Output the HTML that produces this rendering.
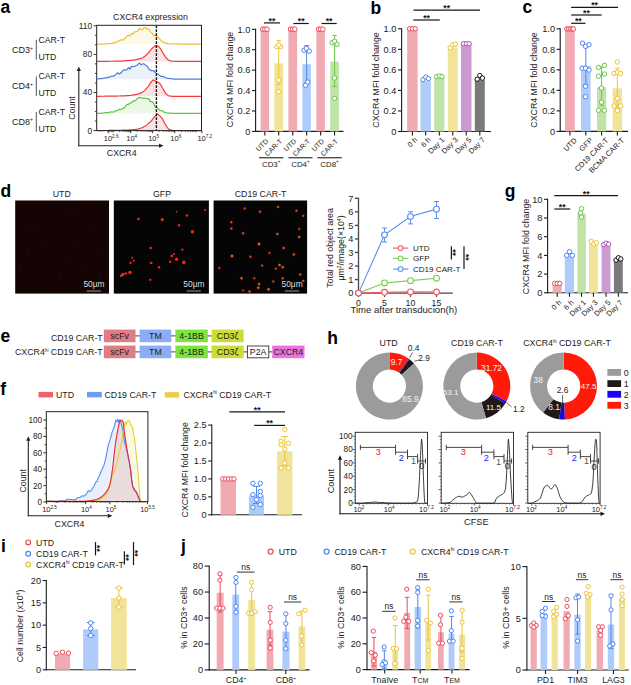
<!DOCTYPE html>
<html><head><meta charset="utf-8"><style>
html,body{margin:0;padding:0;background:#fff;}
svg{display:block;}
text{font-family:"Liberation Sans", sans-serif;}
</style></head><body>
<svg width="631" height="685" viewBox="0 0 631 685">
<rect width="631" height="685" fill="#fff"/>
<text x="0.50" y="13.20" font-size="17.5" text-anchor="start" fill="#000" font-weight="bold">a</text>
<text x="150.50" y="19.90" font-size="8.8" text-anchor="middle" fill="#222" font-weight="normal">CXCR4 expression</text>
<path d="M97.20,44.18 L97.72,44.17 L98.24,44.15 L98.76,44.14 L99.29,44.12 L99.81,44.11 L100.33,44.09 L100.85,44.07 L101.37,44.04 L101.89,44.02 L102.42,44.01 L102.94,44.01 L103.46,44.00 L103.98,43.97 L104.50,43.93 L105.02,43.90 L105.55,43.93 L106.07,43.97 L106.59,44.02 L107.11,43.96 L107.63,43.90 L108.15,43.84 L108.68,43.76 L109.20,43.68 L109.72,43.59 L110.24,43.52 L110.76,43.45 L111.28,43.38 L111.81,43.23 L112.33,43.06 L112.85,42.86 L113.37,42.85 L113.89,42.85 L114.41,42.87 L114.93,42.61 L115.46,42.35 L115.98,42.05 L116.50,41.93 L117.02,41.82 L117.54,41.72 L118.06,41.38 L118.59,41.01 L119.11,40.61 L119.63,40.35 L120.15,40.07 L120.67,39.79 L121.19,39.90 L121.72,40.06 L122.24,40.26 L122.76,39.87 L123.28,39.47 L123.80,39.07 L124.32,38.77 L124.85,38.46 L125.37,38.15 L125.89,37.42 L126.41,36.69 L126.93,35.96 L127.45,35.80 L127.97,35.65 L128.50,35.49 L129.02,35.67 L129.54,35.83 L130.06,35.92 L130.58,35.09 L131.10,34.26 L131.63,33.43 L132.15,33.54 L132.67,33.66 L133.19,33.79 L133.71,33.10 L134.23,32.42 L134.76,31.76 L135.28,31.83 L135.80,31.76 L136.32,31.70 L136.84,31.41 L137.36,31.15 L137.89,30.94 L138.41,30.04 L138.93,29.19 L139.45,28.40 L139.97,28.80 L140.49,29.26 L141.02,29.74 L141.54,29.74 L142.06,29.71 L142.58,29.65 L143.10,28.99 L143.62,28.32 L144.14,27.63 L144.67,27.59 L145.19,27.58 L145.71,27.61 L146.23,28.03 L146.75,28.54 L147.27,29.14 L147.80,28.99 L148.32,28.94 L148.84,28.98 L149.36,29.86 L149.88,30.77 L150.40,31.67 L150.93,32.14 L151.45,32.50 L151.97,32.82 L152.49,33.60 L153.01,34.38 L153.53,35.16 L154.06,35.06 L154.58,34.96 L155.10,34.85 L155.62,35.47 L156.14,36.07 L156.66,36.68 L157.18,36.92 L157.71,37.15 L158.23,37.38 L158.75,37.86 L159.27,38.33 L159.79,38.86 L160.31,39.68 L160.84,40.42 L161.36,41.03 L161.88,41.27 L162.40,41.51 L162.92,41.75 L163.44,42.08 L163.97,42.39 L164.49,42.67 L165.01,42.87 L165.53,43.06 L166.05,43.24 L166.57,43.40 L167.10,43.53 L167.62,43.64 L168.14,43.69 L168.66,43.73 L169.18,43.75 L169.70,43.76 L170.23,43.76 L170.75,43.75 L171.27,43.83 L171.79,43.91 L172.31,43.98 L172.83,43.95 L173.35,43.91 L173.88,43.86 L174.40,43.90 L174.92,43.93 L175.44,43.97 L175.96,43.98 L176.48,43.99 L177.01,43.99 L177.53,43.97 L178.05,43.94 L178.57,43.91 L179.09,43.94 L179.61,43.97 L180.14,44.00 L180.66,44.02 L181.18,44.04 L181.70,44.05 L182.22,44.05 L182.74,44.05 L183.27,44.04 L183.79,44.04 L184.31,44.03 L184.83,44.02 L185.35,44.07 L185.87,44.11 L186.39,44.15 L186.92,44.10 L187.44,44.06 L187.96,44.02 L188.48,44.08 L189.00,44.13 L189.52,44.18 L190.05,44.15 L190.57,44.12 L191.09,44.09 L191.61,44.09 L192.13,44.09 L192.65,44.09 L193.18,44.14 L193.70,44.18 L194.22,44.20 L194.74,44.19 L195.26,44.16 L195.78,44.13 L196.31,44.15 L196.83,44.17 L197.35,44.19 L197.87,44.19 L198.39,44.18 L198.91,44.18 L199.44,44.20 L199.96,44.20 L200.48,44.20 L201.00,44.20 L201.00,44.2 L97.20,44.2 Z" stroke="none" fill="#fcfae6" stroke-width="1.0"/>
<path d="M97.20,44.18 L97.72,44.17 L98.24,44.15 L98.76,44.14 L99.29,44.12 L99.81,44.11 L100.33,44.09 L100.85,44.07 L101.37,44.04 L101.89,44.02 L102.42,44.01 L102.94,44.01 L103.46,44.00 L103.98,43.97 L104.50,43.93 L105.02,43.90 L105.55,43.93 L106.07,43.97 L106.59,44.02 L107.11,43.96 L107.63,43.90 L108.15,43.84 L108.68,43.76 L109.20,43.68 L109.72,43.59 L110.24,43.52 L110.76,43.45 L111.28,43.38 L111.81,43.23 L112.33,43.06 L112.85,42.86 L113.37,42.85 L113.89,42.85 L114.41,42.87 L114.93,42.61 L115.46,42.35 L115.98,42.05 L116.50,41.93 L117.02,41.82 L117.54,41.72 L118.06,41.38 L118.59,41.01 L119.11,40.61 L119.63,40.35 L120.15,40.07 L120.67,39.79 L121.19,39.90 L121.72,40.06 L122.24,40.26 L122.76,39.87 L123.28,39.47 L123.80,39.07 L124.32,38.77 L124.85,38.46 L125.37,38.15 L125.89,37.42 L126.41,36.69 L126.93,35.96 L127.45,35.80 L127.97,35.65 L128.50,35.49 L129.02,35.67 L129.54,35.83 L130.06,35.92 L130.58,35.09 L131.10,34.26 L131.63,33.43 L132.15,33.54 L132.67,33.66 L133.19,33.79 L133.71,33.10 L134.23,32.42 L134.76,31.76 L135.28,31.83 L135.80,31.76 L136.32,31.70 L136.84,31.41 L137.36,31.15 L137.89,30.94 L138.41,30.04 L138.93,29.19 L139.45,28.40 L139.97,28.80 L140.49,29.26 L141.02,29.74 L141.54,29.74 L142.06,29.71 L142.58,29.65 L143.10,28.99 L143.62,28.32 L144.14,27.63 L144.67,27.59 L145.19,27.58 L145.71,27.61 L146.23,28.03 L146.75,28.54 L147.27,29.14 L147.80,28.99 L148.32,28.94 L148.84,28.98 L149.36,29.86 L149.88,30.77 L150.40,31.67 L150.93,32.14 L151.45,32.50 L151.97,32.82 L152.49,33.60 L153.01,34.38 L153.53,35.16 L154.06,35.06 L154.58,34.96 L155.10,34.85 L155.62,35.47 L156.14,36.07 L156.66,36.68 L157.18,36.92 L157.71,37.15 L158.23,37.38 L158.75,37.86 L159.27,38.33 L159.79,38.86 L160.31,39.68 L160.84,40.42 L161.36,41.03 L161.88,41.27 L162.40,41.51 L162.92,41.75 L163.44,42.08 L163.97,42.39 L164.49,42.67 L165.01,42.87 L165.53,43.06 L166.05,43.24 L166.57,43.40 L167.10,43.53 L167.62,43.64 L168.14,43.69 L168.66,43.73 L169.18,43.75 L169.70,43.76 L170.23,43.76 L170.75,43.75 L171.27,43.83 L171.79,43.91 L172.31,43.98 L172.83,43.95 L173.35,43.91 L173.88,43.86 L174.40,43.90 L174.92,43.93 L175.44,43.97 L175.96,43.98 L176.48,43.99 L177.01,43.99 L177.53,43.97 L178.05,43.94 L178.57,43.91 L179.09,43.94 L179.61,43.97 L180.14,44.00 L180.66,44.02 L181.18,44.04 L181.70,44.05 L182.22,44.05 L182.74,44.05 L183.27,44.04 L183.79,44.04 L184.31,44.03 L184.83,44.02 L185.35,44.07 L185.87,44.11 L186.39,44.15 L186.92,44.10 L187.44,44.06 L187.96,44.02 L188.48,44.08 L189.00,44.13 L189.52,44.18 L190.05,44.15 L190.57,44.12 L191.09,44.09 L191.61,44.09 L192.13,44.09 L192.65,44.09 L193.18,44.14 L193.70,44.18 L194.22,44.20 L194.74,44.19 L195.26,44.16 L195.78,44.13 L196.31,44.15 L196.83,44.17 L197.35,44.19 L197.87,44.19 L198.39,44.18 L198.91,44.18 L199.44,44.20 L199.96,44.20 L200.48,44.20 L201.00,44.20" stroke="#f0bc34" fill="none" stroke-width="1.2"/>
<path d="M97.20,61.39 L97.72,61.39 L98.24,61.39 L98.76,61.38 L99.29,61.38 L99.81,61.38 L100.33,61.37 L100.85,61.37 L101.37,61.37 L101.89,61.36 L102.42,61.36 L102.94,61.36 L103.46,61.36 L103.98,61.34 L104.50,61.33 L105.02,61.32 L105.55,61.32 L106.07,61.31 L106.59,61.31 L107.11,61.30 L107.63,61.29 L108.15,61.28 L108.68,61.28 L109.20,61.27 L109.72,61.27 L110.24,61.26 L110.76,61.25 L111.28,61.23 L111.81,61.23 L112.33,61.23 L112.85,61.23 L113.37,61.21 L113.89,61.20 L114.41,61.18 L114.93,61.17 L115.46,61.17 L115.98,61.16 L116.50,61.15 L117.02,61.15 L117.54,61.14 L118.06,61.13 L118.59,61.12 L119.11,61.10 L119.63,61.09 L120.15,61.07 L120.67,61.05 L121.19,61.03 L121.72,61.01 L122.24,60.99 L122.76,60.95 L123.28,60.92 L123.80,60.88 L124.32,60.84 L124.85,60.80 L125.37,60.76 L125.89,60.74 L126.41,60.71 L126.93,60.69 L127.45,60.63 L127.97,60.58 L128.50,60.52 L129.02,60.48 L129.54,60.43 L130.06,60.38 L130.58,60.31 L131.10,60.25 L131.63,60.18 L132.15,60.14 L132.67,60.09 L133.19,60.05 L133.71,59.99 L134.23,59.93 L134.76,59.86 L135.28,59.75 L135.80,59.64 L136.32,59.51 L136.84,59.41 L137.36,59.30 L137.89,59.16 L138.41,59.04 L138.93,58.92 L139.45,58.80 L139.97,58.67 L140.49,58.53 L141.02,58.38 L141.54,58.19 L142.06,57.97 L142.58,57.73 L143.10,57.44 L143.62,57.07 L144.14,56.65 L144.67,56.30 L145.19,55.92 L145.71,55.52 L146.23,54.98 L146.75,54.43 L147.27,53.87 L147.80,53.44 L148.32,52.96 L148.84,52.38 L149.36,51.76 L149.88,51.13 L150.40,50.50 L150.93,49.79 L151.45,49.12 L151.97,48.52 L152.49,48.06 L153.01,47.62 L153.53,47.21 L154.06,46.73 L154.58,46.31 L155.10,45.95 L155.62,45.74 L156.14,45.61 L156.66,45.57 L157.18,45.70 L157.71,45.94 L158.23,46.28 L158.75,46.65 L159.27,47.13 L159.79,47.78 L160.31,48.55 L160.84,49.40 L161.36,50.28 L161.88,51.14 L162.40,51.97 L162.92,52.84 L163.44,53.73 L163.97,54.60 L164.49,55.44 L165.01,56.32 L165.53,57.03 L166.05,57.71 L166.57,58.24 L167.10,58.75 L167.62,59.24 L168.14,59.68 L168.66,60.06 L169.18,60.36 L169.70,60.61 L170.23,60.79 L170.75,60.93 L171.27,61.03 L171.79,61.10 L172.31,61.17 L172.83,61.25 L173.35,61.26 L173.88,61.28 L174.40,61.28 L174.92,61.28 L175.44,61.29 L175.96,61.30 L176.48,61.31 L177.01,61.32 L177.53,61.33 L178.05,61.34 L178.57,61.35 L179.09,61.35 L179.61,61.35 L180.14,61.35 L180.66,61.36 L181.18,61.37 L181.70,61.37 L182.22,61.38 L182.74,61.38 L183.27,61.38 L183.79,61.38 L184.31,61.38 L184.83,61.38 L185.35,61.39 L185.87,61.39 L186.39,61.40 L186.92,61.40 L187.44,61.40 L187.96,61.40 L188.48,61.39 L189.00,61.39 L189.52,61.39 L190.05,61.39 L190.57,61.39 L191.09,61.39 L191.61,61.39 L192.13,61.40 L192.65,61.40 L193.18,61.40 L193.70,61.39 L194.22,61.39 L194.74,61.39 L195.26,61.40 L195.78,61.40 L196.31,61.40 L196.83,61.40 L197.35,61.40 L197.87,61.39 L198.39,61.39 L198.91,61.39 L199.44,61.39 L199.96,61.39 L200.48,61.40 L201.00,61.40 L201.00,61.4 L97.20,61.4 Z" stroke="none" fill="#f9e4e4" stroke-width="1.0"/>
<path d="M97.20,61.39 L97.72,61.39 L98.24,61.39 L98.76,61.38 L99.29,61.38 L99.81,61.38 L100.33,61.37 L100.85,61.37 L101.37,61.37 L101.89,61.36 L102.42,61.36 L102.94,61.36 L103.46,61.36 L103.98,61.34 L104.50,61.33 L105.02,61.32 L105.55,61.32 L106.07,61.31 L106.59,61.31 L107.11,61.30 L107.63,61.29 L108.15,61.28 L108.68,61.28 L109.20,61.27 L109.72,61.27 L110.24,61.26 L110.76,61.25 L111.28,61.23 L111.81,61.23 L112.33,61.23 L112.85,61.23 L113.37,61.21 L113.89,61.20 L114.41,61.18 L114.93,61.17 L115.46,61.17 L115.98,61.16 L116.50,61.15 L117.02,61.15 L117.54,61.14 L118.06,61.13 L118.59,61.12 L119.11,61.10 L119.63,61.09 L120.15,61.07 L120.67,61.05 L121.19,61.03 L121.72,61.01 L122.24,60.99 L122.76,60.95 L123.28,60.92 L123.80,60.88 L124.32,60.84 L124.85,60.80 L125.37,60.76 L125.89,60.74 L126.41,60.71 L126.93,60.69 L127.45,60.63 L127.97,60.58 L128.50,60.52 L129.02,60.48 L129.54,60.43 L130.06,60.38 L130.58,60.31 L131.10,60.25 L131.63,60.18 L132.15,60.14 L132.67,60.09 L133.19,60.05 L133.71,59.99 L134.23,59.93 L134.76,59.86 L135.28,59.75 L135.80,59.64 L136.32,59.51 L136.84,59.41 L137.36,59.30 L137.89,59.16 L138.41,59.04 L138.93,58.92 L139.45,58.80 L139.97,58.67 L140.49,58.53 L141.02,58.38 L141.54,58.19 L142.06,57.97 L142.58,57.73 L143.10,57.44 L143.62,57.07 L144.14,56.65 L144.67,56.30 L145.19,55.92 L145.71,55.52 L146.23,54.98 L146.75,54.43 L147.27,53.87 L147.80,53.44 L148.32,52.96 L148.84,52.38 L149.36,51.76 L149.88,51.13 L150.40,50.50 L150.93,49.79 L151.45,49.12 L151.97,48.52 L152.49,48.06 L153.01,47.62 L153.53,47.21 L154.06,46.73 L154.58,46.31 L155.10,45.95 L155.62,45.74 L156.14,45.61 L156.66,45.57 L157.18,45.70 L157.71,45.94 L158.23,46.28 L158.75,46.65 L159.27,47.13 L159.79,47.78 L160.31,48.55 L160.84,49.40 L161.36,50.28 L161.88,51.14 L162.40,51.97 L162.92,52.84 L163.44,53.73 L163.97,54.60 L164.49,55.44 L165.01,56.32 L165.53,57.03 L166.05,57.71 L166.57,58.24 L167.10,58.75 L167.62,59.24 L168.14,59.68 L168.66,60.06 L169.18,60.36 L169.70,60.61 L170.23,60.79 L170.75,60.93 L171.27,61.03 L171.79,61.10 L172.31,61.17 L172.83,61.25 L173.35,61.26 L173.88,61.28 L174.40,61.28 L174.92,61.28 L175.44,61.29 L175.96,61.30 L176.48,61.31 L177.01,61.32 L177.53,61.33 L178.05,61.34 L178.57,61.35 L179.09,61.35 L179.61,61.35 L180.14,61.35 L180.66,61.36 L181.18,61.37 L181.70,61.37 L182.22,61.38 L182.74,61.38 L183.27,61.38 L183.79,61.38 L184.31,61.38 L184.83,61.38 L185.35,61.39 L185.87,61.39 L186.39,61.40 L186.92,61.40 L187.44,61.40 L187.96,61.40 L188.48,61.39 L189.00,61.39 L189.52,61.39 L190.05,61.39 L190.57,61.39 L191.09,61.39 L191.61,61.39 L192.13,61.40 L192.65,61.40 L193.18,61.40 L193.70,61.39 L194.22,61.39 L194.74,61.39 L195.26,61.40 L195.78,61.40 L196.31,61.40 L196.83,61.40 L197.35,61.40 L197.87,61.39 L198.39,61.39 L198.91,61.39 L199.44,61.39 L199.96,61.39 L200.48,61.40 L201.00,61.40" stroke="#f23a3a" fill="none" stroke-width="1.2"/>
<path d="M97.20,78.93 L97.72,78.91 L98.24,78.89 L98.76,78.87 L99.29,78.77 L99.81,78.65 L100.33,78.52 L100.85,78.54 L101.37,78.57 L101.89,78.60 L102.42,78.45 L102.94,78.29 L103.46,78.11 L103.98,78.06 L104.50,78.00 L105.02,77.95 L105.55,77.93 L106.07,77.91 L106.59,77.90 L107.11,77.63 L107.63,77.33 L108.15,77.01 L108.68,77.03 L109.20,77.08 L109.72,77.15 L110.24,76.81 L110.76,76.44 L111.28,76.05 L111.81,76.08 L112.33,76.14 L112.85,76.21 L113.37,76.05 L113.89,75.88 L114.41,75.72 L114.93,75.31 L115.46,74.88 L115.98,74.42 L116.50,73.90 L117.02,73.38 L117.54,72.86 L118.06,73.23 L118.59,73.60 L119.11,73.96 L119.63,73.67 L120.15,73.38 L120.67,73.08 L121.19,72.53 L121.72,71.98 L122.24,71.42 L122.76,70.93 L123.28,70.42 L123.80,69.92 L124.32,69.97 L124.85,70.02 L125.37,70.07 L125.89,69.96 L126.41,69.84 L126.93,69.73 L127.45,69.00 L127.97,68.27 L128.50,67.54 L129.02,68.04 L129.54,68.54 L130.06,69.02 L130.58,68.08 L131.10,67.13 L131.63,66.18 L132.15,66.34 L132.67,66.50 L133.19,66.66 L133.71,66.49 L134.23,66.33 L134.76,66.18 L135.28,65.95 L135.80,65.74 L136.32,65.55 L136.84,65.21 L137.36,64.89 L137.89,64.52 L138.41,63.98 L138.93,63.51 L139.45,63.09 L139.97,63.64 L140.49,64.20 L141.02,64.76 L141.54,64.47 L142.06,64.17 L142.58,63.88 L143.10,63.88 L143.62,63.92 L144.14,64.00 L144.67,64.39 L145.19,64.85 L145.71,65.39 L146.23,65.65 L146.75,65.97 L147.27,66.32 L147.80,67.24 L148.32,68.16 L148.84,69.07 L149.36,69.48 L149.88,69.81 L150.40,70.14 L150.93,70.36 L151.45,70.57 L151.97,70.79 L152.49,70.74 L153.01,70.70 L153.53,70.66 L154.06,71.20 L154.58,71.75 L155.10,72.30 L155.62,72.74 L156.14,73.19 L156.66,73.65 L157.18,73.81 L157.71,73.96 L158.23,74.10 L158.75,74.58 L159.27,75.03 L159.79,75.45 L160.31,75.85 L160.84,76.22 L161.36,76.50 L161.88,76.45 L162.40,76.41 L162.92,76.40 L163.44,76.65 L163.97,76.88 L164.49,77.10 L165.01,77.43 L165.53,77.72 L166.05,77.98 L166.57,78.03 L167.10,78.08 L167.62,78.14 L168.14,78.27 L168.66,78.39 L169.18,78.50 L169.70,78.55 L170.23,78.59 L170.75,78.64 L171.27,78.73 L171.79,78.81 L172.31,78.88 L172.83,78.96 L173.35,79.03 L173.88,79.09 L174.40,79.08 L174.92,79.07 L175.44,79.07 L175.96,79.14 L176.48,79.20 L177.01,79.20 L177.53,79.20 L178.05,79.20 L178.57,79.20 L179.09,79.20 L179.61,79.18 L180.14,79.17 L180.66,79.19 L181.18,79.20 L181.70,79.20 L182.22,79.20 L182.74,79.20 L183.27,79.20 L183.79,79.20 L184.31,79.20 L184.83,79.20 L185.35,79.20 L185.87,79.20 L186.39,79.18 L186.92,79.18 L187.44,79.17 L187.96,79.17 L188.48,79.18 L189.00,79.18 L189.52,79.19 L190.05,79.18 L190.57,79.17 L191.09,79.15 L191.61,79.18 L192.13,79.20 L192.65,79.20 L193.18,79.20 L193.70,79.19 L194.22,79.18 L194.74,79.18 L195.26,79.18 L195.78,79.19 L196.31,79.19 L196.83,79.19 L197.35,79.19 L197.87,79.20 L198.39,79.20 L198.91,79.20 L199.44,79.19 L199.96,79.17 L200.48,79.16 L201.00,79.15 L201.00,79.2 L97.20,79.2 Z" stroke="none" fill="#ecf0f8" stroke-width="1.0"/>
<path d="M97.20,78.93 L97.72,78.91 L98.24,78.89 L98.76,78.87 L99.29,78.77 L99.81,78.65 L100.33,78.52 L100.85,78.54 L101.37,78.57 L101.89,78.60 L102.42,78.45 L102.94,78.29 L103.46,78.11 L103.98,78.06 L104.50,78.00 L105.02,77.95 L105.55,77.93 L106.07,77.91 L106.59,77.90 L107.11,77.63 L107.63,77.33 L108.15,77.01 L108.68,77.03 L109.20,77.08 L109.72,77.15 L110.24,76.81 L110.76,76.44 L111.28,76.05 L111.81,76.08 L112.33,76.14 L112.85,76.21 L113.37,76.05 L113.89,75.88 L114.41,75.72 L114.93,75.31 L115.46,74.88 L115.98,74.42 L116.50,73.90 L117.02,73.38 L117.54,72.86 L118.06,73.23 L118.59,73.60 L119.11,73.96 L119.63,73.67 L120.15,73.38 L120.67,73.08 L121.19,72.53 L121.72,71.98 L122.24,71.42 L122.76,70.93 L123.28,70.42 L123.80,69.92 L124.32,69.97 L124.85,70.02 L125.37,70.07 L125.89,69.96 L126.41,69.84 L126.93,69.73 L127.45,69.00 L127.97,68.27 L128.50,67.54 L129.02,68.04 L129.54,68.54 L130.06,69.02 L130.58,68.08 L131.10,67.13 L131.63,66.18 L132.15,66.34 L132.67,66.50 L133.19,66.66 L133.71,66.49 L134.23,66.33 L134.76,66.18 L135.28,65.95 L135.80,65.74 L136.32,65.55 L136.84,65.21 L137.36,64.89 L137.89,64.52 L138.41,63.98 L138.93,63.51 L139.45,63.09 L139.97,63.64 L140.49,64.20 L141.02,64.76 L141.54,64.47 L142.06,64.17 L142.58,63.88 L143.10,63.88 L143.62,63.92 L144.14,64.00 L144.67,64.39 L145.19,64.85 L145.71,65.39 L146.23,65.65 L146.75,65.97 L147.27,66.32 L147.80,67.24 L148.32,68.16 L148.84,69.07 L149.36,69.48 L149.88,69.81 L150.40,70.14 L150.93,70.36 L151.45,70.57 L151.97,70.79 L152.49,70.74 L153.01,70.70 L153.53,70.66 L154.06,71.20 L154.58,71.75 L155.10,72.30 L155.62,72.74 L156.14,73.19 L156.66,73.65 L157.18,73.81 L157.71,73.96 L158.23,74.10 L158.75,74.58 L159.27,75.03 L159.79,75.45 L160.31,75.85 L160.84,76.22 L161.36,76.50 L161.88,76.45 L162.40,76.41 L162.92,76.40 L163.44,76.65 L163.97,76.88 L164.49,77.10 L165.01,77.43 L165.53,77.72 L166.05,77.98 L166.57,78.03 L167.10,78.08 L167.62,78.14 L168.14,78.27 L168.66,78.39 L169.18,78.50 L169.70,78.55 L170.23,78.59 L170.75,78.64 L171.27,78.73 L171.79,78.81 L172.31,78.88 L172.83,78.96 L173.35,79.03 L173.88,79.09 L174.40,79.08 L174.92,79.07 L175.44,79.07 L175.96,79.14 L176.48,79.20 L177.01,79.20 L177.53,79.20 L178.05,79.20 L178.57,79.20 L179.09,79.20 L179.61,79.18 L180.14,79.17 L180.66,79.19 L181.18,79.20 L181.70,79.20 L182.22,79.20 L182.74,79.20 L183.27,79.20 L183.79,79.20 L184.31,79.20 L184.83,79.20 L185.35,79.20 L185.87,79.20 L186.39,79.18 L186.92,79.18 L187.44,79.17 L187.96,79.17 L188.48,79.18 L189.00,79.18 L189.52,79.19 L190.05,79.18 L190.57,79.17 L191.09,79.15 L191.61,79.18 L192.13,79.20 L192.65,79.20 L193.18,79.20 L193.70,79.19 L194.22,79.18 L194.74,79.18 L195.26,79.18 L195.78,79.19 L196.31,79.19 L196.83,79.19 L197.35,79.19 L197.87,79.20 L198.39,79.20 L198.91,79.20 L199.44,79.19 L199.96,79.17 L200.48,79.16 L201.00,79.15" stroke="#4a7ed6" fill="none" stroke-width="1.2"/>
<path d="M97.20,96.30 L97.72,96.30 L98.24,96.29 L98.76,96.28 L99.29,96.28 L99.81,96.28 L100.33,96.28 L100.85,96.27 L101.37,96.26 L101.89,96.25 L102.42,96.25 L102.94,96.25 L103.46,96.25 L103.98,96.24 L104.50,96.23 L105.02,96.22 L105.55,96.21 L106.07,96.20 L106.59,96.18 L107.11,96.18 L107.63,96.18 L108.15,96.18 L108.68,96.17 L109.20,96.16 L109.72,96.15 L110.24,96.14 L110.76,96.13 L111.28,96.13 L111.81,96.12 L112.33,96.11 L112.85,96.10 L113.37,96.09 L113.89,96.09 L114.41,96.08 L114.93,96.07 L115.46,96.07 L115.98,96.06 L116.50,96.04 L117.02,96.03 L117.54,96.01 L118.06,96.01 L118.59,96.01 L119.11,96.01 L119.63,96.00 L120.15,95.99 L120.67,95.96 L121.19,95.95 L121.72,95.93 L122.24,95.92 L122.76,95.89 L123.28,95.87 L123.80,95.85 L124.32,95.83 L124.85,95.80 L125.37,95.78 L125.89,95.74 L126.41,95.70 L126.93,95.66 L127.45,95.64 L127.97,95.61 L128.50,95.59 L129.02,95.55 L129.54,95.51 L130.06,95.46 L130.58,95.39 L131.10,95.33 L131.63,95.26 L132.15,95.16 L132.67,95.07 L133.19,94.96 L133.71,94.91 L134.23,94.86 L134.76,94.81 L135.28,94.69 L135.80,94.56 L136.32,94.43 L136.84,94.32 L137.36,94.21 L137.89,94.05 L138.41,93.86 L138.93,93.66 L139.45,93.45 L139.97,93.27 L140.49,93.08 L141.02,92.88 L141.54,92.61 L142.06,92.30 L142.58,91.97 L143.10,91.68 L143.62,91.30 L144.14,90.87 L144.67,90.36 L145.19,89.83 L145.71,89.27 L146.23,88.68 L146.75,88.08 L147.27,87.47 L147.80,86.93 L148.32,86.32 L148.84,85.56 L149.36,84.74 L149.88,83.91 L150.40,83.09 L150.93,82.30 L151.45,81.60 L151.97,81.06 L152.49,80.35 L153.01,80.01 L153.53,79.98 L154.06,80.20 L154.58,80.42 L155.10,80.72 L155.62,81.07 L156.14,81.44 L156.66,81.81 L157.18,82.03 L157.71,82.19 L158.23,82.34 L158.75,82.66 L159.27,83.06 L159.79,83.57 L160.31,84.18 L160.84,84.96 L161.36,85.86 L161.88,86.82 L162.40,87.77 L162.92,88.67 L163.44,89.62 L163.97,90.61 L164.49,91.58 L165.01,92.41 L165.53,93.15 L166.05,93.79 L166.57,94.31 L167.10,94.75 L167.62,95.12 L168.14,95.47 L168.66,95.76 L169.18,95.95 L169.70,96.05 L170.23,96.13 L170.75,96.18 L171.27,96.22 L171.79,96.25 L172.31,96.28 L172.83,96.30 L173.35,96.30 L173.88,96.30 L174.40,96.30 L174.92,96.30 L175.44,96.30 L175.96,96.29 L176.48,96.29 L177.01,96.29 L177.53,96.29 L178.05,96.29 L178.57,96.29 L179.09,96.30 L179.61,96.30 L180.14,96.30 L180.66,96.30 L181.18,96.30 L181.70,96.30 L182.22,96.30 L182.74,96.30 L183.27,96.30 L183.79,96.30 L184.31,96.30 L184.83,96.30 L185.35,96.30 L185.87,96.30 L186.39,96.30 L186.92,96.30 L187.44,96.30 L187.96,96.30 L188.48,96.30 L189.00,96.30 L189.52,96.29 L190.05,96.29 L190.57,96.30 L191.09,96.30 L191.61,96.30 L192.13,96.30 L192.65,96.30 L193.18,96.30 L193.70,96.30 L194.22,96.30 L194.74,96.30 L195.26,96.30 L195.78,96.30 L196.31,96.30 L196.83,96.30 L197.35,96.30 L197.87,96.30 L198.39,96.30 L198.91,96.30 L199.44,96.30 L199.96,96.30 L200.48,96.30 L201.00,96.30 L201.00,96.3 L97.20,96.3 Z" stroke="none" fill="#f9e4e4" stroke-width="1.0"/>
<path d="M97.20,96.30 L97.72,96.30 L98.24,96.29 L98.76,96.28 L99.29,96.28 L99.81,96.28 L100.33,96.28 L100.85,96.27 L101.37,96.26 L101.89,96.25 L102.42,96.25 L102.94,96.25 L103.46,96.25 L103.98,96.24 L104.50,96.23 L105.02,96.22 L105.55,96.21 L106.07,96.20 L106.59,96.18 L107.11,96.18 L107.63,96.18 L108.15,96.18 L108.68,96.17 L109.20,96.16 L109.72,96.15 L110.24,96.14 L110.76,96.13 L111.28,96.13 L111.81,96.12 L112.33,96.11 L112.85,96.10 L113.37,96.09 L113.89,96.09 L114.41,96.08 L114.93,96.07 L115.46,96.07 L115.98,96.06 L116.50,96.04 L117.02,96.03 L117.54,96.01 L118.06,96.01 L118.59,96.01 L119.11,96.01 L119.63,96.00 L120.15,95.99 L120.67,95.96 L121.19,95.95 L121.72,95.93 L122.24,95.92 L122.76,95.89 L123.28,95.87 L123.80,95.85 L124.32,95.83 L124.85,95.80 L125.37,95.78 L125.89,95.74 L126.41,95.70 L126.93,95.66 L127.45,95.64 L127.97,95.61 L128.50,95.59 L129.02,95.55 L129.54,95.51 L130.06,95.46 L130.58,95.39 L131.10,95.33 L131.63,95.26 L132.15,95.16 L132.67,95.07 L133.19,94.96 L133.71,94.91 L134.23,94.86 L134.76,94.81 L135.28,94.69 L135.80,94.56 L136.32,94.43 L136.84,94.32 L137.36,94.21 L137.89,94.05 L138.41,93.86 L138.93,93.66 L139.45,93.45 L139.97,93.27 L140.49,93.08 L141.02,92.88 L141.54,92.61 L142.06,92.30 L142.58,91.97 L143.10,91.68 L143.62,91.30 L144.14,90.87 L144.67,90.36 L145.19,89.83 L145.71,89.27 L146.23,88.68 L146.75,88.08 L147.27,87.47 L147.80,86.93 L148.32,86.32 L148.84,85.56 L149.36,84.74 L149.88,83.91 L150.40,83.09 L150.93,82.30 L151.45,81.60 L151.97,81.06 L152.49,80.35 L153.01,80.01 L153.53,79.98 L154.06,80.20 L154.58,80.42 L155.10,80.72 L155.62,81.07 L156.14,81.44 L156.66,81.81 L157.18,82.03 L157.71,82.19 L158.23,82.34 L158.75,82.66 L159.27,83.06 L159.79,83.57 L160.31,84.18 L160.84,84.96 L161.36,85.86 L161.88,86.82 L162.40,87.77 L162.92,88.67 L163.44,89.62 L163.97,90.61 L164.49,91.58 L165.01,92.41 L165.53,93.15 L166.05,93.79 L166.57,94.31 L167.10,94.75 L167.62,95.12 L168.14,95.47 L168.66,95.76 L169.18,95.95 L169.70,96.05 L170.23,96.13 L170.75,96.18 L171.27,96.22 L171.79,96.25 L172.31,96.28 L172.83,96.30 L173.35,96.30 L173.88,96.30 L174.40,96.30 L174.92,96.30 L175.44,96.30 L175.96,96.29 L176.48,96.29 L177.01,96.29 L177.53,96.29 L178.05,96.29 L178.57,96.29 L179.09,96.30 L179.61,96.30 L180.14,96.30 L180.66,96.30 L181.18,96.30 L181.70,96.30 L182.22,96.30 L182.74,96.30 L183.27,96.30 L183.79,96.30 L184.31,96.30 L184.83,96.30 L185.35,96.30 L185.87,96.30 L186.39,96.30 L186.92,96.30 L187.44,96.30 L187.96,96.30 L188.48,96.30 L189.00,96.30 L189.52,96.29 L190.05,96.29 L190.57,96.30 L191.09,96.30 L191.61,96.30 L192.13,96.30 L192.65,96.30 L193.18,96.30 L193.70,96.30 L194.22,96.30 L194.74,96.30 L195.26,96.30 L195.78,96.30 L196.31,96.30 L196.83,96.30 L197.35,96.30 L197.87,96.30 L198.39,96.30 L198.91,96.30 L199.44,96.30 L199.96,96.30 L200.48,96.30 L201.00,96.30" stroke="#f23a3a" fill="none" stroke-width="1.2"/>
<path d="M97.20,113.40 L97.72,113.37 L98.24,113.35 L98.76,113.33 L99.29,113.31 L99.81,113.29 L100.33,113.28 L100.85,113.20 L101.37,113.10 L101.89,113.00 L102.42,113.03 L102.94,113.06 L103.46,113.10 L103.98,113.01 L104.50,112.91 L105.02,112.81 L105.55,112.70 L106.07,112.59 L106.59,112.47 L107.11,112.53 L107.63,112.60 L108.15,112.68 L108.68,112.55 L109.20,112.41 L109.72,112.26 L110.24,112.15 L110.76,112.03 L111.28,111.92 L111.81,111.95 L112.33,112.01 L112.85,112.07 L113.37,111.89 L113.89,111.69 L114.41,111.47 L114.93,111.23 L115.46,110.98 L115.98,110.70 L116.50,110.63 L117.02,110.56 L117.54,110.48 L118.06,110.16 L118.59,109.80 L119.11,109.40 L119.63,109.46 L120.15,109.55 L120.67,109.67 L121.19,109.39 L121.72,109.09 L122.24,108.75 L122.76,108.56 L123.28,108.37 L123.80,108.18 L124.32,107.62 L124.85,107.05 L125.37,106.50 L125.89,105.87 L126.41,105.23 L126.93,104.58 L127.45,104.50 L127.97,104.41 L128.50,104.32 L129.02,103.86 L129.54,103.39 L130.06,102.92 L130.58,102.87 L131.10,102.82 L131.63,102.76 L132.15,102.13 L132.67,101.49 L133.19,100.83 L133.71,100.92 L134.23,101.00 L134.76,101.10 L135.28,100.60 L135.80,100.12 L136.32,99.66 L136.84,99.10 L137.36,98.56 L137.89,97.99 L138.41,97.72 L138.93,97.50 L139.45,97.33 L139.97,97.46 L140.49,97.62 L141.02,97.79 L141.54,98.00 L142.06,98.22 L142.58,98.45 L143.10,98.30 L143.62,98.17 L144.14,98.06 L144.67,98.13 L145.19,98.23 L145.71,98.35 L146.23,98.41 L146.75,98.50 L147.27,98.65 L147.80,98.60 L148.32,98.62 L148.84,98.69 L149.36,99.65 L149.88,100.63 L150.40,101.64 L150.93,101.68 L151.45,101.66 L151.97,101.64 L152.49,102.15 L153.01,102.67 L153.53,103.20 L154.06,104.34 L154.58,105.47 L155.10,106.59 L155.62,106.85 L156.14,107.08 L156.66,107.30 L157.18,107.68 L157.71,108.05 L158.23,108.40 L158.75,109.15 L159.27,109.83 L159.79,110.44 L160.31,110.53 L160.84,110.65 L161.36,110.73 L161.88,110.80 L162.40,110.90 L162.92,111.01 L163.44,111.50 L163.97,111.93 L164.49,112.30 L165.01,112.36 L165.53,112.44 L166.05,112.52 L166.57,112.73 L167.10,112.91 L167.62,113.06 L168.14,113.10 L168.66,113.13 L169.18,113.16 L169.70,113.19 L170.23,113.22 L170.75,113.24 L171.27,113.30 L171.79,113.36 L172.31,113.40 L172.83,113.40 L173.35,113.40 L173.88,113.40 L174.40,113.40 L174.92,113.40 L175.44,113.40 L175.96,113.40 L176.48,113.40 L177.01,113.40 L177.53,113.40 L178.05,113.40 L178.57,113.40 L179.09,113.40 L179.61,113.40 L180.14,113.40 L180.66,113.40 L181.18,113.40 L181.70,113.40 L182.22,113.38 L182.74,113.37 L183.27,113.35 L183.79,113.37 L184.31,113.39 L184.83,113.40 L185.35,113.40 L185.87,113.40 L186.39,113.40 L186.92,113.40 L187.44,113.39 L187.96,113.38 L188.48,113.40 L189.00,113.40 L189.52,113.40 L190.05,113.40 L190.57,113.40 L191.09,113.39 L191.61,113.40 L192.13,113.40 L192.65,113.40 L193.18,113.40 L193.70,113.40 L194.22,113.39 L194.74,113.38 L195.26,113.36 L195.78,113.35 L196.31,113.38 L196.83,113.40 L197.35,113.40 L197.87,113.40 L198.39,113.40 L198.91,113.39 L199.44,113.39 L199.96,113.39 L200.48,113.39 L201.00,113.40 L201.00,113.4 L97.20,113.4 Z" stroke="none" fill="#edf7e8" stroke-width="1.0"/>
<path d="M97.20,113.40 L97.72,113.37 L98.24,113.35 L98.76,113.33 L99.29,113.31 L99.81,113.29 L100.33,113.28 L100.85,113.20 L101.37,113.10 L101.89,113.00 L102.42,113.03 L102.94,113.06 L103.46,113.10 L103.98,113.01 L104.50,112.91 L105.02,112.81 L105.55,112.70 L106.07,112.59 L106.59,112.47 L107.11,112.53 L107.63,112.60 L108.15,112.68 L108.68,112.55 L109.20,112.41 L109.72,112.26 L110.24,112.15 L110.76,112.03 L111.28,111.92 L111.81,111.95 L112.33,112.01 L112.85,112.07 L113.37,111.89 L113.89,111.69 L114.41,111.47 L114.93,111.23 L115.46,110.98 L115.98,110.70 L116.50,110.63 L117.02,110.56 L117.54,110.48 L118.06,110.16 L118.59,109.80 L119.11,109.40 L119.63,109.46 L120.15,109.55 L120.67,109.67 L121.19,109.39 L121.72,109.09 L122.24,108.75 L122.76,108.56 L123.28,108.37 L123.80,108.18 L124.32,107.62 L124.85,107.05 L125.37,106.50 L125.89,105.87 L126.41,105.23 L126.93,104.58 L127.45,104.50 L127.97,104.41 L128.50,104.32 L129.02,103.86 L129.54,103.39 L130.06,102.92 L130.58,102.87 L131.10,102.82 L131.63,102.76 L132.15,102.13 L132.67,101.49 L133.19,100.83 L133.71,100.92 L134.23,101.00 L134.76,101.10 L135.28,100.60 L135.80,100.12 L136.32,99.66 L136.84,99.10 L137.36,98.56 L137.89,97.99 L138.41,97.72 L138.93,97.50 L139.45,97.33 L139.97,97.46 L140.49,97.62 L141.02,97.79 L141.54,98.00 L142.06,98.22 L142.58,98.45 L143.10,98.30 L143.62,98.17 L144.14,98.06 L144.67,98.13 L145.19,98.23 L145.71,98.35 L146.23,98.41 L146.75,98.50 L147.27,98.65 L147.80,98.60 L148.32,98.62 L148.84,98.69 L149.36,99.65 L149.88,100.63 L150.40,101.64 L150.93,101.68 L151.45,101.66 L151.97,101.64 L152.49,102.15 L153.01,102.67 L153.53,103.20 L154.06,104.34 L154.58,105.47 L155.10,106.59 L155.62,106.85 L156.14,107.08 L156.66,107.30 L157.18,107.68 L157.71,108.05 L158.23,108.40 L158.75,109.15 L159.27,109.83 L159.79,110.44 L160.31,110.53 L160.84,110.65 L161.36,110.73 L161.88,110.80 L162.40,110.90 L162.92,111.01 L163.44,111.50 L163.97,111.93 L164.49,112.30 L165.01,112.36 L165.53,112.44 L166.05,112.52 L166.57,112.73 L167.10,112.91 L167.62,113.06 L168.14,113.10 L168.66,113.13 L169.18,113.16 L169.70,113.19 L170.23,113.22 L170.75,113.24 L171.27,113.30 L171.79,113.36 L172.31,113.40 L172.83,113.40 L173.35,113.40 L173.88,113.40 L174.40,113.40 L174.92,113.40 L175.44,113.40 L175.96,113.40 L176.48,113.40 L177.01,113.40 L177.53,113.40 L178.05,113.40 L178.57,113.40 L179.09,113.40 L179.61,113.40 L180.14,113.40 L180.66,113.40 L181.18,113.40 L181.70,113.40 L182.22,113.38 L182.74,113.37 L183.27,113.35 L183.79,113.37 L184.31,113.39 L184.83,113.40 L185.35,113.40 L185.87,113.40 L186.39,113.40 L186.92,113.40 L187.44,113.39 L187.96,113.38 L188.48,113.40 L189.00,113.40 L189.52,113.40 L190.05,113.40 L190.57,113.40 L191.09,113.39 L191.61,113.40 L192.13,113.40 L192.65,113.40 L193.18,113.40 L193.70,113.40 L194.22,113.39 L194.74,113.38 L195.26,113.36 L195.78,113.35 L196.31,113.38 L196.83,113.40 L197.35,113.40 L197.87,113.40 L198.39,113.40 L198.91,113.39 L199.44,113.39 L199.96,113.39 L200.48,113.39 L201.00,113.40" stroke="#5cc446" fill="none" stroke-width="1.2"/>
<path d="M97.20,130.60 L97.72,130.59 L98.24,130.59 L98.76,130.59 L99.29,130.58 L99.81,130.58 L100.33,130.57 L100.85,130.57 L101.37,130.56 L101.89,130.56 L102.42,130.55 L102.94,130.54 L103.46,130.53 L103.98,130.52 L104.50,130.51 L105.02,130.50 L105.55,130.50 L106.07,130.49 L106.59,130.49 L107.11,130.48 L107.63,130.48 L108.15,130.48 L108.68,130.46 L109.20,130.45 L109.72,130.44 L110.24,130.43 L110.76,130.43 L111.28,130.42 L111.81,130.41 L112.33,130.41 L112.85,130.40 L113.37,130.38 L113.89,130.37 L114.41,130.35 L114.93,130.34 L115.46,130.33 L115.98,130.32 L116.50,130.32 L117.02,130.33 L117.54,130.33 L118.06,130.32 L118.59,130.30 L119.11,130.28 L119.63,130.27 L120.15,130.27 L120.67,130.25 L121.19,130.24 L121.72,130.23 L122.24,130.22 L122.76,130.21 L123.28,130.20 L123.80,130.18 L124.32,130.16 L124.85,130.14 L125.37,130.12 L125.89,130.11 L126.41,130.10 L126.93,130.08 L127.45,130.06 L127.97,130.03 L128.50,130.00 L129.02,129.97 L129.54,129.94 L130.06,129.91 L130.58,129.89 L131.10,129.87 L131.63,129.86 L132.15,129.82 L132.67,129.77 L133.19,129.72 L133.71,129.67 L134.23,129.62 L134.76,129.56 L135.28,129.49 L135.80,129.41 L136.32,129.32 L136.84,129.22 L137.36,129.12 L137.89,129.00 L138.41,128.88 L138.93,128.75 L139.45,128.62 L139.97,128.45 L140.49,128.28 L141.02,128.09 L141.54,127.89 L142.06,127.67 L142.58,127.45 L143.10,127.15 L143.62,126.84 L144.14,126.51 L144.67,126.31 L145.19,126.12 L145.71,125.84 L146.23,125.45 L146.75,125.04 L147.27,124.61 L147.80,124.11 L148.32,123.59 L148.84,123.06 L149.36,122.67 L149.88,122.27 L150.40,121.87 L150.93,121.36 L151.45,120.77 L151.97,120.08 L152.49,119.39 L153.01,118.68 L153.53,117.98 L154.06,117.33 L154.58,116.72 L155.10,116.19 L155.62,115.63 L156.14,115.06 L156.66,114.45 L157.18,114.24 L157.71,114.32 L158.23,114.56 L158.75,114.92 L159.27,115.36 L159.79,115.87 L160.31,116.36 L160.84,116.91 L161.36,117.52 L161.88,118.17 L162.40,118.91 L162.92,119.78 L163.44,120.80 L163.97,121.87 L164.49,122.93 L165.01,123.85 L165.53,124.67 L166.05,125.45 L166.57,126.32 L167.10,127.10 L167.62,127.80 L168.14,128.45 L168.66,129.00 L169.18,129.38 L169.70,129.65 L170.23,129.86 L170.75,130.02 L171.27,130.15 L171.79,130.25 L172.31,130.34 L172.83,130.44 L173.35,130.46 L173.88,130.48 L174.40,130.48 L174.92,130.49 L175.44,130.50 L175.96,130.51 L176.48,130.52 L177.01,130.53 L177.53,130.53 L178.05,130.54 L178.57,130.55 L179.09,130.56 L179.61,130.56 L180.14,130.57 L180.66,130.57 L181.18,130.57 L181.70,130.57 L182.22,130.58 L182.74,130.59 L183.27,130.60 L183.79,130.60 L184.31,130.60 L184.83,130.60 L185.35,130.60 L185.87,130.60 L186.39,130.59 L186.92,130.59 L187.44,130.59 L187.96,130.59 L188.48,130.59 L189.00,130.60 L189.52,130.60 L190.05,130.60 L190.57,130.60 L191.09,130.60 L191.61,130.60 L192.13,130.60 L192.65,130.60 L193.18,130.60 L193.70,130.60 L194.22,130.60 L194.74,130.60 L195.26,130.60 L195.78,130.59 L196.31,130.60 L196.83,130.60 L197.35,130.60 L197.87,130.60 L198.39,130.60 L198.91,130.60 L199.44,130.60 L199.96,130.60 L200.48,130.60 L201.00,130.60 L201.00,130.6 L97.20,130.6 Z" stroke="none" fill="#f9e4e4" stroke-width="1.0"/>
<path d="M97.20,130.60 L97.72,130.59 L98.24,130.59 L98.76,130.59 L99.29,130.58 L99.81,130.58 L100.33,130.57 L100.85,130.57 L101.37,130.56 L101.89,130.56 L102.42,130.55 L102.94,130.54 L103.46,130.53 L103.98,130.52 L104.50,130.51 L105.02,130.50 L105.55,130.50 L106.07,130.49 L106.59,130.49 L107.11,130.48 L107.63,130.48 L108.15,130.48 L108.68,130.46 L109.20,130.45 L109.72,130.44 L110.24,130.43 L110.76,130.43 L111.28,130.42 L111.81,130.41 L112.33,130.41 L112.85,130.40 L113.37,130.38 L113.89,130.37 L114.41,130.35 L114.93,130.34 L115.46,130.33 L115.98,130.32 L116.50,130.32 L117.02,130.33 L117.54,130.33 L118.06,130.32 L118.59,130.30 L119.11,130.28 L119.63,130.27 L120.15,130.27 L120.67,130.25 L121.19,130.24 L121.72,130.23 L122.24,130.22 L122.76,130.21 L123.28,130.20 L123.80,130.18 L124.32,130.16 L124.85,130.14 L125.37,130.12 L125.89,130.11 L126.41,130.10 L126.93,130.08 L127.45,130.06 L127.97,130.03 L128.50,130.00 L129.02,129.97 L129.54,129.94 L130.06,129.91 L130.58,129.89 L131.10,129.87 L131.63,129.86 L132.15,129.82 L132.67,129.77 L133.19,129.72 L133.71,129.67 L134.23,129.62 L134.76,129.56 L135.28,129.49 L135.80,129.41 L136.32,129.32 L136.84,129.22 L137.36,129.12 L137.89,129.00 L138.41,128.88 L138.93,128.75 L139.45,128.62 L139.97,128.45 L140.49,128.28 L141.02,128.09 L141.54,127.89 L142.06,127.67 L142.58,127.45 L143.10,127.15 L143.62,126.84 L144.14,126.51 L144.67,126.31 L145.19,126.12 L145.71,125.84 L146.23,125.45 L146.75,125.04 L147.27,124.61 L147.80,124.11 L148.32,123.59 L148.84,123.06 L149.36,122.67 L149.88,122.27 L150.40,121.87 L150.93,121.36 L151.45,120.77 L151.97,120.08 L152.49,119.39 L153.01,118.68 L153.53,117.98 L154.06,117.33 L154.58,116.72 L155.10,116.19 L155.62,115.63 L156.14,115.06 L156.66,114.45 L157.18,114.24 L157.71,114.32 L158.23,114.56 L158.75,114.92 L159.27,115.36 L159.79,115.87 L160.31,116.36 L160.84,116.91 L161.36,117.52 L161.88,118.17 L162.40,118.91 L162.92,119.78 L163.44,120.80 L163.97,121.87 L164.49,122.93 L165.01,123.85 L165.53,124.67 L166.05,125.45 L166.57,126.32 L167.10,127.10 L167.62,127.80 L168.14,128.45 L168.66,129.00 L169.18,129.38 L169.70,129.65 L170.23,129.86 L170.75,130.02 L171.27,130.15 L171.79,130.25 L172.31,130.34 L172.83,130.44 L173.35,130.46 L173.88,130.48 L174.40,130.48 L174.92,130.49 L175.44,130.50 L175.96,130.51 L176.48,130.52 L177.01,130.53 L177.53,130.53 L178.05,130.54 L178.57,130.55 L179.09,130.56 L179.61,130.56 L180.14,130.57 L180.66,130.57 L181.18,130.57 L181.70,130.57 L182.22,130.58 L182.74,130.59 L183.27,130.60 L183.79,130.60 L184.31,130.60 L184.83,130.60 L185.35,130.60 L185.87,130.60 L186.39,130.59 L186.92,130.59 L187.44,130.59 L187.96,130.59 L188.48,130.59 L189.00,130.60 L189.52,130.60 L190.05,130.60 L190.57,130.60 L191.09,130.60 L191.61,130.60 L192.13,130.60 L192.65,130.60 L193.18,130.60 L193.70,130.60 L194.22,130.60 L194.74,130.60 L195.26,130.60 L195.78,130.59 L196.31,130.60 L196.83,130.60 L197.35,130.60 L197.87,130.60 L198.39,130.60 L198.91,130.60 L199.44,130.60 L199.96,130.60 L200.48,130.60 L201.00,130.60" stroke="#f23a3a" fill="none" stroke-width="1.2"/>
<line x1="156.40" y1="25.30" x2="156.40" y2="130.60" stroke="#111" stroke-width="1.35" stroke-dasharray="2.6,1.4"/>
<rect x="96.70" y="25.30" width="104.80" height="105.30" fill="none" stroke="#222" stroke-width="1.0"/>
<line x1="93.50" y1="130.60" x2="96.70" y2="130.60" stroke="#222" stroke-width="0.9"/>
<line x1="94.90" y1="121.07" x2="96.70" y2="121.07" stroke="#222" stroke-width="0.9"/>
<line x1="94.90" y1="111.55" x2="96.70" y2="111.55" stroke="#222" stroke-width="0.9"/>
<line x1="94.90" y1="102.02" x2="96.70" y2="102.02" stroke="#222" stroke-width="0.9"/>
<line x1="93.50" y1="92.49" x2="96.70" y2="92.49" stroke="#222" stroke-width="0.9"/>
<line x1="94.90" y1="82.96" x2="96.70" y2="82.96" stroke="#222" stroke-width="0.9"/>
<line x1="94.90" y1="73.44" x2="96.70" y2="73.44" stroke="#222" stroke-width="0.9"/>
<line x1="94.90" y1="63.91" x2="96.70" y2="63.91" stroke="#222" stroke-width="0.9"/>
<line x1="93.50" y1="54.38" x2="96.70" y2="54.38" stroke="#222" stroke-width="0.9"/>
<line x1="94.90" y1="44.85" x2="96.70" y2="44.85" stroke="#222" stroke-width="0.9"/>
<line x1="94.90" y1="35.33" x2="96.70" y2="35.33" stroke="#222" stroke-width="0.9"/>
<line x1="93.50" y1="25.80" x2="96.70" y2="25.80" stroke="#222" stroke-width="0.9"/>
<text x="92.10" y="133.60" font-size="8.4" text-anchor="end" fill="#222" font-weight="normal">0</text>
<text x="92.10" y="95.49" font-size="8.4" text-anchor="end" fill="#222" font-weight="normal">40</text>
<text x="92.10" y="57.38" font-size="8.4" text-anchor="end" fill="#222" font-weight="normal">80</text>
<text x="92.10" y="28.80" font-size="8.4" text-anchor="end" fill="#222" font-weight="normal">110</text>
<line x1="108.20" y1="130.60" x2="108.20" y2="133.20" stroke="#222" stroke-width="0.9"/>
<line x1="130.70" y1="130.60" x2="130.70" y2="133.20" stroke="#222" stroke-width="0.9"/>
<line x1="152.60" y1="130.60" x2="152.60" y2="133.20" stroke="#222" stroke-width="0.9"/>
<line x1="174.80" y1="130.60" x2="174.80" y2="133.20" stroke="#222" stroke-width="0.9"/>
<line x1="201.90" y1="130.60" x2="201.90" y2="133.20" stroke="#222" stroke-width="0.9"/>
<line x1="108.23" y1="130.60" x2="108.23" y2="132.10" stroke="#222" stroke-width="0.6"/>
<line x1="109.79" y1="130.60" x2="109.79" y2="132.10" stroke="#222" stroke-width="0.6"/>
<line x1="111.06" y1="130.60" x2="111.06" y2="132.10" stroke="#222" stroke-width="0.6"/>
<line x1="112.14" y1="130.60" x2="112.14" y2="132.10" stroke="#222" stroke-width="0.6"/>
<line x1="113.07" y1="130.60" x2="113.07" y2="132.10" stroke="#222" stroke-width="0.6"/>
<line x1="113.89" y1="130.60" x2="113.89" y2="132.10" stroke="#222" stroke-width="0.6"/>
<line x1="119.47" y1="130.60" x2="119.47" y2="132.10" stroke="#222" stroke-width="0.6"/>
<line x1="122.30" y1="130.60" x2="122.30" y2="132.10" stroke="#222" stroke-width="0.6"/>
<line x1="124.30" y1="130.60" x2="124.30" y2="132.10" stroke="#222" stroke-width="0.6"/>
<line x1="125.86" y1="130.60" x2="125.86" y2="132.10" stroke="#222" stroke-width="0.6"/>
<line x1="127.13" y1="130.60" x2="127.13" y2="132.10" stroke="#222" stroke-width="0.6"/>
<line x1="128.21" y1="130.60" x2="128.21" y2="132.10" stroke="#222" stroke-width="0.6"/>
<line x1="129.14" y1="130.60" x2="129.14" y2="132.10" stroke="#222" stroke-width="0.6"/>
<line x1="129.96" y1="130.60" x2="129.96" y2="132.10" stroke="#222" stroke-width="0.6"/>
<line x1="137.29" y1="130.60" x2="137.29" y2="132.10" stroke="#222" stroke-width="0.6"/>
<line x1="141.15" y1="130.60" x2="141.15" y2="132.10" stroke="#222" stroke-width="0.6"/>
<line x1="143.89" y1="130.60" x2="143.89" y2="132.10" stroke="#222" stroke-width="0.6"/>
<line x1="146.01" y1="130.60" x2="146.01" y2="132.10" stroke="#222" stroke-width="0.6"/>
<line x1="147.74" y1="130.60" x2="147.74" y2="132.10" stroke="#222" stroke-width="0.6"/>
<line x1="149.21" y1="130.60" x2="149.21" y2="132.10" stroke="#222" stroke-width="0.6"/>
<line x1="150.48" y1="130.60" x2="150.48" y2="132.10" stroke="#222" stroke-width="0.6"/>
<line x1="151.60" y1="130.60" x2="151.60" y2="132.10" stroke="#222" stroke-width="0.6"/>
<line x1="159.28" y1="130.60" x2="159.28" y2="132.10" stroke="#222" stroke-width="0.6"/>
<line x1="163.19" y1="130.60" x2="163.19" y2="132.10" stroke="#222" stroke-width="0.6"/>
<line x1="165.97" y1="130.60" x2="165.97" y2="132.10" stroke="#222" stroke-width="0.6"/>
<line x1="168.12" y1="130.60" x2="168.12" y2="132.10" stroke="#222" stroke-width="0.6"/>
<line x1="169.87" y1="130.60" x2="169.87" y2="132.10" stroke="#222" stroke-width="0.6"/>
<line x1="171.36" y1="130.60" x2="171.36" y2="132.10" stroke="#222" stroke-width="0.6"/>
<line x1="172.65" y1="130.60" x2="172.65" y2="132.10" stroke="#222" stroke-width="0.6"/>
<line x1="173.78" y1="130.60" x2="173.78" y2="132.10" stroke="#222" stroke-width="0.6"/>
<line x1="181.60" y1="130.60" x2="181.60" y2="132.10" stroke="#222" stroke-width="0.6"/>
<line x1="185.57" y1="130.60" x2="185.57" y2="132.10" stroke="#222" stroke-width="0.6"/>
<line x1="188.40" y1="130.60" x2="188.40" y2="132.10" stroke="#222" stroke-width="0.6"/>
<line x1="190.59" y1="130.60" x2="190.59" y2="132.10" stroke="#222" stroke-width="0.6"/>
<line x1="192.37" y1="130.60" x2="192.37" y2="132.10" stroke="#222" stroke-width="0.6"/>
<line x1="193.89" y1="130.60" x2="193.89" y2="132.10" stroke="#222" stroke-width="0.6"/>
<line x1="195.19" y1="130.60" x2="195.19" y2="132.10" stroke="#222" stroke-width="0.6"/>
<line x1="196.35" y1="130.60" x2="196.35" y2="132.10" stroke="#222" stroke-width="0.6"/>
<text x="103.73" y="141.00" font-size="7.5" text-anchor="start" fill="#222" font-weight="normal">10<tspan font-size="4.6" dy="-2.8">2.6</tspan></text>
<text x="126.23" y="141.00" font-size="7.5" text-anchor="start" fill="#222" font-weight="normal">10<tspan font-size="4.6" dy="-2.8">4</tspan></text>
<text x="148.13" y="141.00" font-size="7.5" text-anchor="start" fill="#222" font-weight="normal">10<tspan font-size="4.6" dy="-2.8">5</tspan></text>
<text x="170.33" y="141.00" font-size="7.5" text-anchor="start" fill="#222" font-weight="normal">10<tspan font-size="4.6" dy="-2.8">6</tspan></text>
<text x="197.43" y="141.00" font-size="7.5" text-anchor="start" fill="#222" font-weight="normal">10<tspan font-size="4.6" dy="-2.8">7.2</tspan></text>
<line x1="78.80" y1="146.20" x2="78.80" y2="69.50" stroke="#222" stroke-width="1.1"/>
<path d="M78.8,66.5 L76.7,71 L80.9,71 Z" stroke="none" fill="#222" stroke-width="1.0"/>
<text transform="translate(74.80,108.00) rotate(-90)" font-size="8.8" text-anchor="middle" fill="#222" font-weight="normal">Count</text>
<line x1="78.20" y1="145.70" x2="160.00" y2="145.70" stroke="#222" stroke-width="1.1"/>
<path d="M163.5,145.7 L159,143.6 L159,147.8 Z" stroke="none" fill="#222" stroke-width="1.0"/>
<text x="121.70" y="155.50" font-size="8.8" text-anchor="middle" fill="#222" font-weight="normal">CXCR4</text>
<text x="11.90" y="52.90" font-size="9.0" text-anchor="start" fill="#222" font-weight="normal">CD3<tspan font-size="5.0" dy="-3.4">+</tspan></text>
<text x="11.90" y="89.30" font-size="9.0" text-anchor="start" fill="#222" font-weight="normal">CD4<tspan font-size="5.0" dy="-3.4">+</tspan></text>
<text x="11.90" y="124.60" font-size="9.0" text-anchor="start" fill="#222" font-weight="normal">CD8<tspan font-size="5.0" dy="-3.4">+</tspan></text>
<text x="38.50" y="42.80" font-size="8.7" text-anchor="start" fill="#222" font-weight="normal">CAR-T</text>
<text x="38.50" y="59.80" font-size="8.7" text-anchor="start" fill="#222" font-weight="normal">UTD</text>
<line x1="36.30" y1="39.90" x2="36.30" y2="59.70" stroke="#444" stroke-width="0.9"/>
<text x="38.50" y="79.30" font-size="8.7" text-anchor="start" fill="#222" font-weight="normal">CAR-T</text>
<text x="38.50" y="96.20" font-size="8.7" text-anchor="start" fill="#222" font-weight="normal">UTD</text>
<line x1="36.30" y1="76.40" x2="36.30" y2="96.10" stroke="#444" stroke-width="0.9"/>
<text x="38.50" y="114.90" font-size="8.7" text-anchor="start" fill="#222" font-weight="normal">CAR-T</text>
<text x="38.50" y="132.00" font-size="8.7" text-anchor="start" fill="#222" font-weight="normal">UTD</text>
<line x1="36.30" y1="112.00" x2="36.30" y2="131.90" stroke="#444" stroke-width="0.9"/>
<line x1="255.60" y1="28.80" x2="255.60" y2="131.95" stroke="#1a1a1a" stroke-width="1.1"/>
<line x1="252.00" y1="131.40" x2="255.60" y2="131.40" stroke="#1a1a1a" stroke-width="1.1"/>
<text x="250.40" y="134.67" font-size="9.2" text-anchor="end" fill="#222" font-weight="normal">0</text>
<line x1="252.00" y1="110.98" x2="255.60" y2="110.98" stroke="#1a1a1a" stroke-width="1.1"/>
<text x="250.40" y="114.25" font-size="9.2" text-anchor="end" fill="#222" font-weight="normal">0.2</text>
<line x1="252.00" y1="90.56" x2="255.60" y2="90.56" stroke="#1a1a1a" stroke-width="1.1"/>
<text x="250.40" y="93.83" font-size="9.2" text-anchor="end" fill="#222" font-weight="normal">0.4</text>
<line x1="252.00" y1="70.14" x2="255.60" y2="70.14" stroke="#1a1a1a" stroke-width="1.1"/>
<text x="250.40" y="73.41" font-size="9.2" text-anchor="end" fill="#222" font-weight="normal">0.6</text>
<line x1="252.00" y1="49.72" x2="255.60" y2="49.72" stroke="#1a1a1a" stroke-width="1.1"/>
<text x="250.40" y="52.99" font-size="9.2" text-anchor="end" fill="#222" font-weight="normal">0.8</text>
<line x1="252.00" y1="29.30" x2="255.60" y2="29.30" stroke="#1a1a1a" stroke-width="1.1"/>
<text x="250.40" y="32.57" font-size="9.2" text-anchor="end" fill="#222" font-weight="normal">1.0</text>
<line x1="255.05" y1="131.40" x2="343.50" y2="131.40" stroke="#1a1a1a" stroke-width="1.1"/>
<text transform="translate(232.50,79.50) rotate(-90)" font-size="8.8" text-anchor="middle" fill="#222" font-weight="normal">CXCR4 MFI fold change</text>
<rect x="260.60" y="29.30" width="8.50" height="102.10" fill="#f0aab2" stroke="none" stroke-width="0"/>
<line x1="264.85" y1="131.40" x2="264.85" y2="135.40" stroke="#1a1a1a" stroke-width="1.1"/>
<rect x="274.30" y="63.30" width="8.80" height="68.10" fill="#f0e49a" stroke="none" stroke-width="0"/>
<line x1="278.70" y1="131.40" x2="278.70" y2="135.40" stroke="#1a1a1a" stroke-width="1.1"/>
<rect x="288.40" y="29.30" width="8.70" height="102.10" fill="#f0aab2" stroke="none" stroke-width="0"/>
<line x1="292.75" y1="131.40" x2="292.75" y2="135.40" stroke="#1a1a1a" stroke-width="1.1"/>
<rect x="302.40" y="64.32" width="8.50" height="67.08" fill="#aecbfa" stroke="none" stroke-width="0"/>
<line x1="306.65" y1="131.40" x2="306.65" y2="135.40" stroke="#1a1a1a" stroke-width="1.1"/>
<rect x="316.40" y="29.30" width="8.50" height="102.10" fill="#f0aab2" stroke="none" stroke-width="0"/>
<line x1="320.65" y1="131.40" x2="320.65" y2="135.40" stroke="#1a1a1a" stroke-width="1.1"/>
<rect x="330.20" y="61.67" width="8.70" height="69.73" fill="#c0e4a8" stroke="none" stroke-width="0"/>
<line x1="334.55" y1="131.40" x2="334.55" y2="135.40" stroke="#1a1a1a" stroke-width="1.1"/>
<line x1="278.70" y1="40.60" x2="278.70" y2="84.50" stroke="#ecc43a" stroke-width="1.0"/>
<line x1="276.50" y1="40.60" x2="280.90" y2="40.60" stroke="#ecc43a" stroke-width="1.0"/>
<line x1="276.50" y1="84.50" x2="280.90" y2="84.50" stroke="#ecc43a" stroke-width="1.0"/>
<line x1="306.60" y1="45.60" x2="306.60" y2="82.60" stroke="#4f86ee" stroke-width="1.0"/>
<line x1="304.40" y1="45.60" x2="308.80" y2="45.60" stroke="#4f86ee" stroke-width="1.0"/>
<line x1="304.40" y1="82.60" x2="308.80" y2="82.60" stroke="#4f86ee" stroke-width="1.0"/>
<line x1="334.60" y1="35.40" x2="334.60" y2="86.60" stroke="#6cc44a" stroke-width="1.0"/>
<line x1="332.40" y1="35.40" x2="336.80" y2="35.40" stroke="#6cc44a" stroke-width="1.0"/>
<line x1="332.40" y1="86.60" x2="336.80" y2="86.60" stroke="#6cc44a" stroke-width="1.0"/>
<circle cx="262.80" cy="29.20" r="2.3" fill="#fff" stroke="#ec4a5a" stroke-width="1.0"/>
<circle cx="264.90" cy="29.20" r="2.3" fill="#fff" stroke="#ec4a5a" stroke-width="1.0"/>
<circle cx="267.00" cy="29.20" r="2.3" fill="#fff" stroke="#ec4a5a" stroke-width="1.0"/>
<circle cx="290.60" cy="29.20" r="2.3" fill="#fff" stroke="#ec4a5a" stroke-width="1.0"/>
<circle cx="292.70" cy="29.20" r="2.3" fill="#fff" stroke="#ec4a5a" stroke-width="1.0"/>
<circle cx="294.80" cy="29.20" r="2.3" fill="#fff" stroke="#ec4a5a" stroke-width="1.0"/>
<circle cx="318.60" cy="29.20" r="2.3" fill="#fff" stroke="#ec4a5a" stroke-width="1.0"/>
<circle cx="320.70" cy="29.20" r="2.3" fill="#fff" stroke="#ec4a5a" stroke-width="1.0"/>
<circle cx="322.80" cy="29.20" r="2.3" fill="#fff" stroke="#ec4a5a" stroke-width="1.0"/>
<circle cx="276.70" cy="46.70" r="2.2" fill="#fff" stroke="#ecc43a" stroke-width="1.0"/>
<circle cx="280.70" cy="46.70" r="2.2" fill="#fff" stroke="#ecc43a" stroke-width="1.0"/>
<circle cx="278.80" cy="45.10" r="2.2" fill="#fff" stroke="#ecc43a" stroke-width="1.0"/>
<circle cx="278.80" cy="80.10" r="2.2" fill="#fff" stroke="#ecc43a" stroke-width="1.0"/>
<circle cx="278.80" cy="91.70" r="2.2" fill="#fff" stroke="#ecc43a" stroke-width="1.0"/>
<circle cx="304.00" cy="50.20" r="2.2" fill="#fff" stroke="#4f86ee" stroke-width="1.0"/>
<circle cx="309.20" cy="51.20" r="2.2" fill="#fff" stroke="#4f86ee" stroke-width="1.0"/>
<circle cx="306.40" cy="48.30" r="2.2" fill="#fff" stroke="#4f86ee" stroke-width="1.0"/>
<circle cx="307.70" cy="82.10" r="2.2" fill="#fff" stroke="#4f86ee" stroke-width="1.0"/>
<circle cx="305.60" cy="85.30" r="2.2" fill="#fff" stroke="#4f86ee" stroke-width="1.0"/>
<circle cx="332.10" cy="42.70" r="2.2" fill="#fff" stroke="#6cc44a" stroke-width="1.0"/>
<circle cx="337.00" cy="44.30" r="2.2" fill="#fff" stroke="#6cc44a" stroke-width="1.0"/>
<circle cx="334.60" cy="41.10" r="2.2" fill="#fff" stroke="#6cc44a" stroke-width="1.0"/>
<circle cx="334.60" cy="78.00" r="2.2" fill="#fff" stroke="#6cc44a" stroke-width="1.0"/>
<circle cx="334.60" cy="98.40" r="2.2" fill="#fff" stroke="#6cc44a" stroke-width="1.0"/>
<text transform="translate(268.85,141.60) rotate(-45)" font-size="7.0" text-anchor="end" fill="#222" font-weight="normal">UTD</text>
<text transform="translate(282.70,141.60) rotate(-45)" font-size="7.0" text-anchor="end" fill="#222" font-weight="normal">CAR-T</text>
<text transform="translate(296.75,141.60) rotate(-45)" font-size="7.0" text-anchor="end" fill="#222" font-weight="normal">UTD</text>
<text transform="translate(310.65,141.60) rotate(-45)" font-size="7.0" text-anchor="end" fill="#222" font-weight="normal">CAR-T</text>
<text transform="translate(324.65,141.60) rotate(-45)" font-size="7.0" text-anchor="end" fill="#222" font-weight="normal">UTD</text>
<text transform="translate(338.55,141.60) rotate(-45)" font-size="7.0" text-anchor="end" fill="#222" font-weight="normal">CAR-T</text>
<line x1="259.00" y1="157.70" x2="283.40" y2="157.70" stroke="#444" stroke-width="1.3"/>
<text x="271.20" y="166.60" font-size="7.9" text-anchor="middle" fill="#222" font-weight="normal">CD3<tspan font-size="4.6" dy="-3.2">+</tspan></text>
<line x1="288.40" y1="157.70" x2="312.50" y2="157.70" stroke="#444" stroke-width="1.3"/>
<text x="300.45" y="166.60" font-size="7.9" text-anchor="middle" fill="#222" font-weight="normal">CD4<tspan font-size="4.6" dy="-3.2">+</tspan></text>
<line x1="317.30" y1="157.70" x2="341.80" y2="157.70" stroke="#444" stroke-width="1.3"/>
<text x="329.55" y="166.60" font-size="7.9" text-anchor="middle" fill="#222" font-weight="normal">CD8<tspan font-size="4.6" dy="-3.2">+</tspan></text>
<line x1="264.00" y1="22.90" x2="280.00" y2="22.90" stroke="#161616" stroke-width="1.2"/>
<text x="272.00" y="23.80" font-size="8.7" text-anchor="middle" fill="#161616" font-weight="bold">**</text>
<line x1="293.50" y1="23.50" x2="308.80" y2="23.50" stroke="#161616" stroke-width="1.2"/>
<text x="301.15" y="24.40" font-size="8.7" text-anchor="middle" fill="#161616" font-weight="bold">**</text>
<line x1="321.50" y1="23.50" x2="336.70" y2="23.50" stroke="#161616" stroke-width="1.2"/>
<text x="329.10" y="24.40" font-size="8.7" text-anchor="middle" fill="#161616" font-weight="bold">**</text>
<text x="370.50" y="13.50" font-size="17.5" text-anchor="start" fill="#000" font-weight="bold">b</text>
<line x1="401.60" y1="28.30" x2="401.60" y2="132.05" stroke="#1a1a1a" stroke-width="1.1"/>
<line x1="398.00" y1="131.50" x2="401.60" y2="131.50" stroke="#1a1a1a" stroke-width="1.1"/>
<text x="396.40" y="134.77" font-size="9.2" text-anchor="end" fill="#222" font-weight="normal">0</text>
<line x1="398.00" y1="110.96" x2="401.60" y2="110.96" stroke="#1a1a1a" stroke-width="1.1"/>
<text x="396.40" y="114.23" font-size="9.2" text-anchor="end" fill="#222" font-weight="normal">0.2</text>
<line x1="398.00" y1="90.42" x2="401.60" y2="90.42" stroke="#1a1a1a" stroke-width="1.1"/>
<text x="396.40" y="93.69" font-size="9.2" text-anchor="end" fill="#222" font-weight="normal">0.4</text>
<line x1="398.00" y1="69.88" x2="401.60" y2="69.88" stroke="#1a1a1a" stroke-width="1.1"/>
<text x="396.40" y="73.15" font-size="9.2" text-anchor="end" fill="#222" font-weight="normal">0.6</text>
<line x1="398.00" y1="49.34" x2="401.60" y2="49.34" stroke="#1a1a1a" stroke-width="1.1"/>
<text x="396.40" y="52.61" font-size="9.2" text-anchor="end" fill="#222" font-weight="normal">0.8</text>
<line x1="398.00" y1="28.80" x2="401.60" y2="28.80" stroke="#1a1a1a" stroke-width="1.1"/>
<text x="396.40" y="32.07" font-size="9.2" text-anchor="end" fill="#222" font-weight="normal">1.0</text>
<line x1="401.05" y1="131.50" x2="491.00" y2="131.50" stroke="#1a1a1a" stroke-width="1.1"/>
<text transform="translate(378.60,80.00) rotate(-90)" font-size="8.8" text-anchor="middle" fill="#222" font-weight="normal">CXCR4 MFI fold change</text>
<rect x="407.20" y="28.80" width="10.40" height="102.70" fill="#f0aab2" stroke="none" stroke-width="0"/>
<line x1="412.40" y1="131.50" x2="412.40" y2="135.50" stroke="#1a1a1a" stroke-width="1.1"/>
<circle cx="409.60" cy="28.80" r="2.2" fill="#fff" stroke="#ec4a5a" stroke-width="1.0"/>
<circle cx="412.40" cy="28.80" r="2.2" fill="#fff" stroke="#ec4a5a" stroke-width="1.0"/>
<circle cx="415.20" cy="28.80" r="2.2" fill="#fff" stroke="#ec4a5a" stroke-width="1.0"/>
<text transform="translate(418.00,140.40) rotate(-45)" font-size="7.5" text-anchor="end" fill="#222" font-weight="normal">0 h</text>
<rect x="420.50" y="81.18" width="10.40" height="50.32" fill="#aecbfa" stroke="none" stroke-width="0"/>
<line x1="425.70" y1="131.50" x2="425.70" y2="135.50" stroke="#1a1a1a" stroke-width="1.1"/>
<circle cx="423.00" cy="79.64" r="2.2" fill="#fff" stroke="#4f86ee" stroke-width="1.0"/>
<circle cx="425.80" cy="77.07" r="2.2" fill="#fff" stroke="#4f86ee" stroke-width="1.0"/>
<circle cx="428.50" cy="78.61" r="2.2" fill="#fff" stroke="#4f86ee" stroke-width="1.0"/>
<text transform="translate(431.30,140.40) rotate(-45)" font-size="7.5" text-anchor="end" fill="#222" font-weight="normal">6 h</text>
<rect x="434.20" y="78.10" width="10.20" height="53.40" fill="#c0e4a8" stroke="none" stroke-width="0"/>
<line x1="439.30" y1="131.50" x2="439.30" y2="135.50" stroke="#1a1a1a" stroke-width="1.1"/>
<circle cx="436.60" cy="76.56" r="2.2" fill="#fff" stroke="#6cc44a" stroke-width="1.0"/>
<circle cx="439.30" cy="76.04" r="2.2" fill="#fff" stroke="#6cc44a" stroke-width="1.0"/>
<circle cx="442.00" cy="76.56" r="2.2" fill="#fff" stroke="#6cc44a" stroke-width="1.0"/>
<text transform="translate(444.90,140.40) rotate(-45)" font-size="7.5" text-anchor="end" fill="#222" font-weight="normal">Day 1</text>
<rect x="447.80" y="47.29" width="9.90" height="84.21" fill="#f0e49a" stroke="none" stroke-width="0"/>
<line x1="452.75" y1="131.50" x2="452.75" y2="135.50" stroke="#1a1a1a" stroke-width="1.1"/>
<circle cx="450.20" cy="47.80" r="2.2" fill="#fff" stroke="#ecc43a" stroke-width="1.0"/>
<circle cx="452.80" cy="44.72" r="2.2" fill="#fff" stroke="#ecc43a" stroke-width="1.0"/>
<circle cx="455.40" cy="44.20" r="2.2" fill="#fff" stroke="#ecc43a" stroke-width="1.0"/>
<text transform="translate(458.35,140.40) rotate(-45)" font-size="7.5" text-anchor="end" fill="#222" font-weight="normal">Day 3</text>
<rect x="461.00" y="44.20" width="10.50" height="87.30" fill="#cc9cd0" stroke="none" stroke-width="0"/>
<line x1="466.25" y1="131.50" x2="466.25" y2="135.50" stroke="#1a1a1a" stroke-width="1.1"/>
<circle cx="463.50" cy="43.69" r="2.2" fill="#fff" stroke="#a850b4" stroke-width="1.0"/>
<circle cx="466.30" cy="43.69" r="2.2" fill="#fff" stroke="#a850b4" stroke-width="1.0"/>
<circle cx="469.10" cy="43.69" r="2.2" fill="#fff" stroke="#a850b4" stroke-width="1.0"/>
<text transform="translate(471.85,140.40) rotate(-45)" font-size="7.5" text-anchor="end" fill="#222" font-weight="normal">Day 5</text>
<rect x="474.80" y="80.15" width="10.00" height="51.35" fill="#7a7a7a" stroke="none" stroke-width="0"/>
<line x1="479.80" y1="131.50" x2="479.80" y2="135.50" stroke="#1a1a1a" stroke-width="1.1"/>
<circle cx="477.20" cy="79.12" r="2.2" fill="#fff" stroke="#111" stroke-width="1.0"/>
<circle cx="479.80" cy="75.53" r="2.2" fill="#fff" stroke="#111" stroke-width="1.0"/>
<circle cx="482.40" cy="78.10" r="2.2" fill="#fff" stroke="#111" stroke-width="1.0"/>
<text transform="translate(485.40,140.40) rotate(-45)" font-size="7.5" text-anchor="end" fill="#222" font-weight="normal">Day 7</text>
<line x1="413.40" y1="10.20" x2="480.00" y2="10.20" stroke="#161616" stroke-width="1.2"/>
<text x="446.70" y="11.10" font-size="8.7" text-anchor="middle" fill="#161616" font-weight="bold">**</text>
<line x1="413.40" y1="20.00" x2="439.80" y2="20.00" stroke="#161616" stroke-width="1.2"/>
<text x="426.60" y="20.90" font-size="8.7" text-anchor="middle" fill="#161616" font-weight="bold">**</text>
<text x="522.50" y="12.80" font-size="17.5" text-anchor="start" fill="#000" font-weight="bold">c</text>
<line x1="560.20" y1="28.30" x2="560.20" y2="131.95" stroke="#1a1a1a" stroke-width="1.1"/>
<line x1="556.60" y1="131.40" x2="560.20" y2="131.40" stroke="#1a1a1a" stroke-width="1.1"/>
<text x="555.00" y="134.67" font-size="9.2" text-anchor="end" fill="#222" font-weight="normal">0</text>
<line x1="556.60" y1="110.88" x2="560.20" y2="110.88" stroke="#1a1a1a" stroke-width="1.1"/>
<text x="555.00" y="114.15" font-size="9.2" text-anchor="end" fill="#222" font-weight="normal">0.2</text>
<line x1="556.60" y1="90.36" x2="560.20" y2="90.36" stroke="#1a1a1a" stroke-width="1.1"/>
<text x="555.00" y="93.63" font-size="9.2" text-anchor="end" fill="#222" font-weight="normal">0.4</text>
<line x1="556.60" y1="69.84" x2="560.20" y2="69.84" stroke="#1a1a1a" stroke-width="1.1"/>
<text x="555.00" y="73.11" font-size="9.2" text-anchor="end" fill="#222" font-weight="normal">0.6</text>
<line x1="556.60" y1="49.32" x2="560.20" y2="49.32" stroke="#1a1a1a" stroke-width="1.1"/>
<text x="555.00" y="52.59" font-size="9.2" text-anchor="end" fill="#222" font-weight="normal">0.8</text>
<line x1="556.60" y1="28.80" x2="560.20" y2="28.80" stroke="#1a1a1a" stroke-width="1.1"/>
<text x="555.00" y="32.07" font-size="9.2" text-anchor="end" fill="#222" font-weight="normal">1.0</text>
<line x1="559.65" y1="131.40" x2="628.00" y2="131.40" stroke="#1a1a1a" stroke-width="1.1"/>
<text transform="translate(536.80,80.00) rotate(-90)" font-size="8.8" text-anchor="middle" fill="#222" font-weight="normal">CXCR4 MFI fold change</text>
<rect x="565.00" y="28.80" width="9.80" height="102.60" fill="#f0aab2" stroke="none" stroke-width="0"/>
<line x1="569.90" y1="131.40" x2="569.90" y2="135.40" stroke="#1a1a1a" stroke-width="1.1"/>
<text transform="translate(577.30,140.80) rotate(-45)" font-size="7.5" text-anchor="end" fill="#222" font-weight="normal">UTD</text>
<rect x="581.00" y="65.74" width="9.60" height="65.66" fill="#aecbfa" stroke="none" stroke-width="0"/>
<line x1="585.80" y1="131.40" x2="585.80" y2="135.40" stroke="#1a1a1a" stroke-width="1.1"/>
<text transform="translate(593.20,140.80) rotate(-45)" font-size="7.5" text-anchor="end" fill="#222" font-weight="normal">GFP</text>
<rect x="597.00" y="87.28" width="9.20" height="44.12" fill="#c0e4a8" stroke="none" stroke-width="0"/>
<line x1="601.60" y1="131.40" x2="601.60" y2="135.40" stroke="#1a1a1a" stroke-width="1.1"/>
<text transform="translate(609.00,140.80) rotate(-45)" font-size="7.5" text-anchor="end" fill="#222" font-weight="normal">CD19 CAR-T</text>
<rect x="612.60" y="88.31" width="9.50" height="43.09" fill="#f0e49a" stroke="none" stroke-width="0"/>
<line x1="617.35" y1="131.40" x2="617.35" y2="135.40" stroke="#1a1a1a" stroke-width="1.1"/>
<text transform="translate(624.75,140.80) rotate(-45)" font-size="7.5" text-anchor="end" fill="#222" font-weight="normal">BCMA CAR-T</text>
<line x1="585.80" y1="47.70" x2="585.80" y2="84.60" stroke="#4f86ee" stroke-width="1.0"/>
<line x1="583.60" y1="47.70" x2="588.00" y2="47.70" stroke="#4f86ee" stroke-width="1.0"/>
<line x1="583.60" y1="84.60" x2="588.00" y2="84.60" stroke="#4f86ee" stroke-width="1.0"/>
<line x1="601.60" y1="67.00" x2="601.60" y2="105.60" stroke="#6cc44a" stroke-width="1.0"/>
<line x1="599.40" y1="67.00" x2="603.80" y2="67.00" stroke="#6cc44a" stroke-width="1.0"/>
<line x1="599.40" y1="105.60" x2="603.80" y2="105.60" stroke="#6cc44a" stroke-width="1.0"/>
<line x1="617.30" y1="68.30" x2="617.30" y2="107.00" stroke="#ecc43a" stroke-width="1.0"/>
<line x1="615.10" y1="68.30" x2="619.50" y2="68.30" stroke="#ecc43a" stroke-width="1.0"/>
<line x1="615.10" y1="107.00" x2="619.50" y2="107.00" stroke="#ecc43a" stroke-width="1.0"/>
<circle cx="566.80" cy="28.90" r="2.2" fill="#fff" stroke="#ec4a5a" stroke-width="1.0"/>
<circle cx="568.60" cy="28.90" r="2.2" fill="#fff" stroke="#ec4a5a" stroke-width="1.0"/>
<circle cx="570.40" cy="28.90" r="2.2" fill="#fff" stroke="#ec4a5a" stroke-width="1.0"/>
<circle cx="572.20" cy="28.90" r="2.2" fill="#fff" stroke="#ec4a5a" stroke-width="1.0"/>
<circle cx="573.40" cy="28.90" r="2.2" fill="#fff" stroke="#ec4a5a" stroke-width="1.0"/>
<circle cx="582.50" cy="43.20" r="2.2" fill="#fff" stroke="#4f86ee" stroke-width="1.0"/>
<circle cx="585.50" cy="46.30" r="2.2" fill="#fff" stroke="#4f86ee" stroke-width="1.0"/>
<circle cx="589.00" cy="44.70" r="2.2" fill="#fff" stroke="#4f86ee" stroke-width="1.0"/>
<circle cx="582.00" cy="68.30" r="2.2" fill="#fff" stroke="#4f86ee" stroke-width="1.0"/>
<circle cx="585.50" cy="68.30" r="2.2" fill="#fff" stroke="#4f86ee" stroke-width="1.0"/>
<circle cx="589.00" cy="70.00" r="2.2" fill="#fff" stroke="#4f86ee" stroke-width="1.0"/>
<circle cx="585.50" cy="86.30" r="2.2" fill="#fff" stroke="#4f86ee" stroke-width="1.0"/>
<circle cx="585.50" cy="96.70" r="2.2" fill="#fff" stroke="#4f86ee" stroke-width="1.0"/>
<circle cx="598.50" cy="67.50" r="2.2" fill="#fff" stroke="#6cc44a" stroke-width="1.0"/>
<circle cx="604.50" cy="65.30" r="2.2" fill="#fff" stroke="#6cc44a" stroke-width="1.0"/>
<circle cx="598.50" cy="76.20" r="2.2" fill="#fff" stroke="#6cc44a" stroke-width="1.0"/>
<circle cx="604.50" cy="74.00" r="2.2" fill="#fff" stroke="#6cc44a" stroke-width="1.0"/>
<circle cx="601.50" cy="88.00" r="2.2" fill="#fff" stroke="#6cc44a" stroke-width="1.0"/>
<circle cx="601.50" cy="102.20" r="2.2" fill="#fff" stroke="#6cc44a" stroke-width="1.0"/>
<circle cx="598.50" cy="110.30" r="2.2" fill="#fff" stroke="#6cc44a" stroke-width="1.0"/>
<circle cx="604.50" cy="110.30" r="2.2" fill="#fff" stroke="#6cc44a" stroke-width="1.0"/>
<circle cx="617.30" cy="62.00" r="2.2" fill="#fff" stroke="#ecc43a" stroke-width="1.0"/>
<circle cx="614.00" cy="73.40" r="2.2" fill="#fff" stroke="#ecc43a" stroke-width="1.0"/>
<circle cx="617.30" cy="72.30" r="2.2" fill="#fff" stroke="#ecc43a" stroke-width="1.0"/>
<circle cx="620.60" cy="73.40" r="2.2" fill="#fff" stroke="#ecc43a" stroke-width="1.0"/>
<circle cx="617.30" cy="98.50" r="2.2" fill="#fff" stroke="#ecc43a" stroke-width="1.0"/>
<circle cx="614.00" cy="106.00" r="2.2" fill="#fff" stroke="#ecc43a" stroke-width="1.0"/>
<circle cx="620.60" cy="106.00" r="2.2" fill="#fff" stroke="#ecc43a" stroke-width="1.0"/>
<circle cx="617.30" cy="110.60" r="2.2" fill="#fff" stroke="#ecc43a" stroke-width="1.0"/>
<line x1="571.20" y1="7.30" x2="618.00" y2="7.30" stroke="#161616" stroke-width="1.2"/>
<text x="594.60" y="8.20" font-size="8.7" text-anchor="middle" fill="#161616" font-weight="bold">**</text>
<line x1="571.20" y1="15.00" x2="601.70" y2="15.00" stroke="#161616" stroke-width="1.2"/>
<text x="586.45" y="15.90" font-size="8.7" text-anchor="middle" fill="#161616" font-weight="bold">**</text>
<line x1="571.20" y1="23.30" x2="585.50" y2="23.30" stroke="#161616" stroke-width="1.2"/>
<text x="578.35" y="24.20" font-size="8.7" text-anchor="middle" fill="#161616" font-weight="bold">**</text>
<text x="0.50" y="197.40" font-size="17.5" text-anchor="start" fill="#000" font-weight="bold">d</text>
<rect x="15.20" y="200.50" width="93.80" height="93.10" fill="#140404" stroke="none" stroke-width="0"/>
<text x="61.80" y="197.20" font-size="8.8" text-anchor="middle" fill="#222" font-weight="normal">UTD</text>
<rect x="113.80" y="200.50" width="95.10" height="93.10" fill="#050505" stroke="none" stroke-width="0"/>
<text x="162.00" y="197.20" font-size="8.8" text-anchor="middle" fill="#222" font-weight="normal">GFP</text>
<rect x="213.60" y="200.50" width="93.50" height="93.10" fill="#050505" stroke="none" stroke-width="0"/>
<text x="260.60" y="197.20" font-size="8.8" text-anchor="middle" fill="#222" font-weight="normal">CD19 CAR-T</text>
<circle cx="32" cy="229" r="0.7" fill="#5a1010"/>
<circle cx="45" cy="243" r="0.7" fill="#5a1010"/>
<circle cx="78" cy="247" r="0.7" fill="#5a1010"/>
<circle cx="98" cy="255" r="0.7" fill="#5a1010"/>
<circle cx="20" cy="268" r="0.7" fill="#5a1010"/>
<circle cx="48" cy="289" r="0.7" fill="#5a1010"/>
<circle cx="60" cy="278" r="0.7" fill="#5a1010"/>
<circle cx="72" cy="212" r="0.7" fill="#5a1010"/>
<circle cx="90" cy="225" r="0.7" fill="#5a1010"/>
<circle cx="40" cy="206" r="0.7" fill="#5a1010"/>
<circle cx="100" cy="275" r="0.7" fill="#5a1010"/>
<circle cx="28" cy="250" r="0.7" fill="#5a1010"/>
<circle cx="66" cy="262" r="0.7" fill="#5a1010"/>
<circle cx="85" cy="270" r="0.7" fill="#5a1010"/>
<circle cx="138.5" cy="219" r="1.37" fill="#f0281c"/>
<circle cx="162.3" cy="219.6" r="1.58" fill="#f0281c"/>
<circle cx="187" cy="215.5" r="1.26" fill="#f0281c"/>
<circle cx="205" cy="210" r="1.05" fill="#f0281c"/>
<circle cx="179" cy="225.3" r="1.26" fill="#f0281c"/>
<circle cx="192.4" cy="231.7" r="1.68" fill="#f0281c"/>
<circle cx="150.6" cy="248" r="1.26" fill="#f0281c"/>
<circle cx="182.3" cy="249.7" r="1.16" fill="#f0281c"/>
<circle cx="171.8" cy="256" r="1.37" fill="#f0281c"/>
<circle cx="176.6" cy="259.2" r="1.68" fill="#f0281c"/>
<circle cx="183.8" cy="262.4" r="1.78" fill="#f0281c"/>
<circle cx="170.2" cy="261.8" r="1.26" fill="#f0281c"/>
<circle cx="151.2" cy="263" r="1.37" fill="#f0281c"/>
<circle cx="159" cy="267.2" r="1.26" fill="#f0281c"/>
<circle cx="133.8" cy="260.8" r="1.05" fill="#f0281c"/>
<circle cx="130.6" cy="263" r="1.16" fill="#f0281c"/>
<circle cx="122.7" cy="274.5" r="1.68" fill="#f0281c"/>
<circle cx="125.8" cy="273.5" r="1.37" fill="#f0281c"/>
<circle cx="130" cy="272.5" r="1.78" fill="#f0281c"/>
<circle cx="150.3" cy="279.8" r="1.16" fill="#f0281c"/>
<circle cx="176.6" cy="211.7" r="0.84" fill="#f0281c"/>
<circle cx="132.2" cy="257.7" r="0.95" fill="#f0281c"/>
<circle cx="174" cy="254" r="1.05" fill="#f0281c"/>
<circle cx="121" cy="276" r="1.16" fill="#f0281c"/>
<circle cx="244.7" cy="208.5" r="1.68" fill="#e83a18" opacity="0.3"/>
<circle cx="244.7" cy="208.5" r="0.98" fill="#e83a18"/>
<circle cx="259.9" cy="211.7" r="1.71" fill="#f04a1c" opacity="0.3"/>
<circle cx="259.9" cy="211.7" r="1.01" fill="#f04a1c"/>
<circle cx="278" cy="207" r="1.58" fill="#f05a20" opacity="0.3"/>
<circle cx="278" cy="207" r="0.88" fill="#f05a20"/>
<circle cx="296.4" cy="210.7" r="1.59" fill="#f05a20" opacity="0.3"/>
<circle cx="296.4" cy="210.7" r="0.89" fill="#f05a20"/>
<circle cx="303.3" cy="215.8" r="1.57" fill="#f05a20" opacity="0.3"/>
<circle cx="303.3" cy="215.8" r="0.87" fill="#f05a20"/>
<circle cx="231.4" cy="222.2" r="1.64" fill="#f04a1c" opacity="0.3"/>
<circle cx="231.4" cy="222.2" r="0.94" fill="#f04a1c"/>
<circle cx="231.4" cy="228.5" r="1.72" fill="#f04a1c" opacity="0.3"/>
<circle cx="231.4" cy="228.5" r="1.02" fill="#f04a1c"/>
<circle cx="243.1" cy="233.2" r="1.65" fill="#f05a20" opacity="0.3"/>
<circle cx="243.1" cy="233.2" r="0.95" fill="#f05a20"/>
<circle cx="277.4" cy="233.9" r="1.72" fill="#f05a20" opacity="0.3"/>
<circle cx="277.4" cy="233.9" r="1.02" fill="#f05a20"/>
<circle cx="299.2" cy="229" r="1.60" fill="#e83a18" opacity="0.3"/>
<circle cx="299.2" cy="229" r="0.90" fill="#e83a18"/>
<circle cx="299.2" cy="237" r="1.80" fill="#f05a20" opacity="0.3"/>
<circle cx="299.2" cy="237" r="1.10" fill="#f05a20"/>
<circle cx="259" cy="244" r="1.93" fill="#f05a20" opacity="0.3"/>
<circle cx="259" cy="244" r="1.23" fill="#f05a20"/>
<circle cx="283.7" cy="248.1" r="1.78" fill="#f04a1c" opacity="0.3"/>
<circle cx="283.7" cy="248.1" r="1.08" fill="#f04a1c"/>
<circle cx="232" cy="256" r="1.94" fill="#f04a1c" opacity="0.3"/>
<circle cx="232" cy="256" r="1.24" fill="#f04a1c"/>
<circle cx="250.4" cy="256.7" r="1.77" fill="#e83a18" opacity="0.3"/>
<circle cx="250.4" cy="256.7" r="1.07" fill="#e83a18"/>
<circle cx="269.4" cy="252.9" r="1.67" fill="#e83a18" opacity="0.3"/>
<circle cx="269.4" cy="252.9" r="0.97" fill="#e83a18"/>
<circle cx="293.8" cy="254.5" r="1.77" fill="#f05a20" opacity="0.3"/>
<circle cx="293.8" cy="254.5" r="1.07" fill="#f05a20"/>
<circle cx="219.3" cy="268.1" r="1.67" fill="#e83a18" opacity="0.3"/>
<circle cx="219.3" cy="268.1" r="0.97" fill="#e83a18"/>
<circle cx="262.1" cy="265.6" r="1.59" fill="#f05a20" opacity="0.3"/>
<circle cx="262.1" cy="265.6" r="0.89" fill="#f05a20"/>
<circle cx="279.6" cy="265" r="1.81" fill="#f46a24" opacity="0.3"/>
<circle cx="279.6" cy="265" r="1.11" fill="#f46a24"/>
<circle cx="275.8" cy="268.7" r="1.59" fill="#f04a1c" opacity="0.3"/>
<circle cx="275.8" cy="268.7" r="0.89" fill="#f04a1c"/>
<circle cx="282.7" cy="267.2" r="1.78" fill="#f05a20" opacity="0.3"/>
<circle cx="282.7" cy="267.2" r="1.08" fill="#f05a20"/>
<circle cx="300.2" cy="274.5" r="1.63" fill="#f05a20" opacity="0.3"/>
<circle cx="300.2" cy="274.5" r="0.93" fill="#f05a20"/>
<circle cx="241.5" cy="278.3" r="1.72" fill="#f46a24" opacity="0.3"/>
<circle cx="241.5" cy="278.3" r="1.02" fill="#f46a24"/>
<circle cx="254.2" cy="278.3" r="1.74" fill="#d83018" opacity="0.3"/>
<circle cx="254.2" cy="278.3" r="1.04" fill="#d83018"/>
<circle cx="273.2" cy="281.4" r="1.69" fill="#e83a18" opacity="0.3"/>
<circle cx="273.2" cy="281.4" r="0.99" fill="#e83a18"/>
<circle cx="259" cy="284" r="1.87" fill="#e83a18" opacity="0.3"/>
<circle cx="259" cy="284" r="1.17" fill="#e83a18"/>
<circle cx="282.7" cy="278.3" r="1.58" fill="#f46a24" opacity="0.3"/>
<circle cx="282.7" cy="278.3" r="0.88" fill="#f46a24"/>
<circle cx="258.3" cy="287.8" r="1.76" fill="#f46a24" opacity="0.3"/>
<circle cx="258.3" cy="287.8" r="1.06" fill="#f46a24"/>
<circle cx="268.5" cy="289.3" r="1.84" fill="#f46a24" opacity="0.3"/>
<circle cx="268.5" cy="289.3" r="1.14" fill="#f46a24"/>
<circle cx="249.5" cy="291.6" r="1.79" fill="#f04a1c" opacity="0.3"/>
<circle cx="249.5" cy="291.6" r="1.09" fill="#f04a1c"/>
<circle cx="243.1" cy="290.3" r="1.60" fill="#d83018" opacity="0.3"/>
<circle cx="243.1" cy="290.3" r="0.90" fill="#d83018"/>
<circle cx="303.3" cy="280.8" r="1.62" fill="#f46a24" opacity="0.3"/>
<circle cx="303.3" cy="280.8" r="0.92" fill="#f46a24"/>
<text x="94.00" y="287.00" font-size="8.4" text-anchor="middle" fill="#dedede" font-weight="normal">50μm</text>
<line x1="86.80" y1="291.00" x2="101.00" y2="291.00" stroke="#9a9a9a" stroke-width="1.0"/>
<text x="193.90" y="287.00" font-size="8.4" text-anchor="middle" fill="#dedede" font-weight="normal">50μm</text>
<line x1="186.70" y1="291.00" x2="200.90" y2="291.00" stroke="#9a9a9a" stroke-width="1.0"/>
<text x="292.10" y="287.00" font-size="8.4" text-anchor="middle" fill="#dedede" font-weight="normal">50μm</text>
<line x1="284.90" y1="291.00" x2="299.10" y2="291.00" stroke="#9a9a9a" stroke-width="1.0"/>
<line x1="358.50" y1="197.80" x2="358.50" y2="293.65" stroke="#4a4a4a" stroke-width="1.35"/>
<line x1="354.90" y1="293.10" x2="358.50" y2="293.10" stroke="#4a4a4a" stroke-width="1.35"/>
<text x="353.30" y="296.37" font-size="9.2" text-anchor="end" fill="#222" font-weight="normal">0</text>
<line x1="354.90" y1="279.56" x2="358.50" y2="279.56" stroke="#4a4a4a" stroke-width="1.35"/>
<text x="353.30" y="282.82" font-size="9.2" text-anchor="end" fill="#222" font-weight="normal">1</text>
<line x1="354.90" y1="266.01" x2="358.50" y2="266.01" stroke="#4a4a4a" stroke-width="1.35"/>
<text x="353.30" y="269.28" font-size="9.2" text-anchor="end" fill="#222" font-weight="normal">2</text>
<line x1="354.90" y1="252.47" x2="358.50" y2="252.47" stroke="#4a4a4a" stroke-width="1.35"/>
<text x="353.30" y="255.74" font-size="9.2" text-anchor="end" fill="#222" font-weight="normal">3</text>
<line x1="354.90" y1="238.93" x2="358.50" y2="238.93" stroke="#4a4a4a" stroke-width="1.35"/>
<text x="353.30" y="242.19" font-size="9.2" text-anchor="end" fill="#222" font-weight="normal">4</text>
<line x1="354.90" y1="225.39" x2="358.50" y2="225.39" stroke="#4a4a4a" stroke-width="1.35"/>
<text x="353.30" y="228.65" font-size="9.2" text-anchor="end" fill="#222" font-weight="normal">5</text>
<line x1="354.90" y1="211.84" x2="358.50" y2="211.84" stroke="#4a4a4a" stroke-width="1.35"/>
<text x="353.30" y="215.11" font-size="9.2" text-anchor="end" fill="#222" font-weight="normal">6</text>
<line x1="354.90" y1="198.30" x2="358.50" y2="198.30" stroke="#4a4a4a" stroke-width="1.35"/>
<text x="353.30" y="201.57" font-size="9.2" text-anchor="end" fill="#222" font-weight="normal">7</text>
<line x1="357.95" y1="293.10" x2="452.80" y2="293.10" stroke="#4a4a4a" stroke-width="1.35"/>
<line x1="358.50" y1="293.10" x2="358.50" y2="297.10" stroke="#4a4a4a" stroke-width="1.1"/>
<text x="358.50" y="306.00" font-size="8.8" text-anchor="middle" fill="#222" font-weight="normal">0</text>
<line x1="384.50" y1="293.10" x2="384.50" y2="297.10" stroke="#4a4a4a" stroke-width="1.1"/>
<text x="384.50" y="306.00" font-size="8.8" text-anchor="middle" fill="#222" font-weight="normal">5</text>
<line x1="410.50" y1="293.10" x2="410.50" y2="297.10" stroke="#4a4a4a" stroke-width="1.1"/>
<text x="410.50" y="306.00" font-size="8.8" text-anchor="middle" fill="#222" font-weight="normal">10</text>
<line x1="436.50" y1="293.10" x2="436.50" y2="297.10" stroke="#4a4a4a" stroke-width="1.1"/>
<text x="436.50" y="306.00" font-size="8.8" text-anchor="middle" fill="#222" font-weight="normal">15</text>
<text x="403.80" y="313.30" font-size="9.6" text-anchor="middle" fill="#222" font-weight="normal">Time after transducion(h)</text>
<text transform="translate(333.00,248.00) rotate(-90)" font-size="8.8" text-anchor="middle" fill="#222" font-weight="normal">Total red object area</text>
<text transform="translate(343.80,248.00) rotate(-90)" font-size="8.8" text-anchor="middle" fill="#222" font-weight="normal">μm<tspan font-size="5.0" dy="-3.2">2</tspan><tspan dy="3.2">/image(×10</tspan><tspan font-size="5.0" dy="-3.2">4</tspan><tspan dy="3.2">)</tspan></text>
<line x1="384.50" y1="228.00" x2="384.50" y2="242.00" stroke="#5b8ef0" stroke-width="1.0"/>
<line x1="382.00" y1="228.00" x2="387.00" y2="228.00" stroke="#5b8ef0" stroke-width="1.0"/>
<line x1="382.00" y1="242.00" x2="387.00" y2="242.00" stroke="#5b8ef0" stroke-width="1.0"/>
<line x1="410.50" y1="211.80" x2="410.50" y2="223.90" stroke="#5b8ef0" stroke-width="1.0"/>
<line x1="408.00" y1="211.80" x2="413.00" y2="211.80" stroke="#5b8ef0" stroke-width="1.0"/>
<line x1="408.00" y1="223.90" x2="413.00" y2="223.90" stroke="#5b8ef0" stroke-width="1.0"/>
<line x1="436.50" y1="201.50" x2="436.50" y2="218.50" stroke="#5b8ef0" stroke-width="1.0"/>
<line x1="434.00" y1="201.50" x2="439.00" y2="201.50" stroke="#5b8ef0" stroke-width="1.0"/>
<line x1="434.00" y1="218.50" x2="439.00" y2="218.50" stroke="#5b8ef0" stroke-width="1.0"/>
<path d="M358.50,293.10 L384.50,292.29 L410.50,291.88 L436.50,292.02" stroke="#f05a64" fill="none" stroke-width="1.1"/>
<path d="M358.50,293.10 L384.50,282.94 L410.50,280.64 L436.50,278.20" stroke="#7ccc50" fill="none" stroke-width="1.1"/>
<path d="M358.50,293.10 L384.50,234.87 L410.50,216.58 L436.50,209.13" stroke="#5b8ef0" fill="none" stroke-width="1.1"/>
<circle cx="358.50" cy="293.10" r="2.9" fill="#fff" stroke="#7ccc50" stroke-width="1.1"/>
<circle cx="384.50" cy="282.94" r="2.9" fill="#fff" stroke="#7ccc50" stroke-width="1.1"/>
<circle cx="410.50" cy="280.64" r="2.9" fill="#fff" stroke="#7ccc50" stroke-width="1.1"/>
<circle cx="436.50" cy="278.20" r="2.9" fill="#fff" stroke="#7ccc50" stroke-width="1.1"/>
<circle cx="358.50" cy="293.10" r="2.9" fill="#fff" stroke="#5b8ef0" stroke-width="1.1"/>
<circle cx="384.50" cy="234.87" r="2.9" fill="#fff" stroke="#5b8ef0" stroke-width="1.1"/>
<circle cx="410.50" cy="216.58" r="2.9" fill="#fff" stroke="#5b8ef0" stroke-width="1.1"/>
<circle cx="436.50" cy="209.13" r="2.9" fill="#fff" stroke="#5b8ef0" stroke-width="1.1"/>
<circle cx="358.50" cy="293.10" r="2.9" fill="#fff" stroke="#f05a64" stroke-width="1.1"/>
<circle cx="384.50" cy="292.29" r="2.9" fill="#fff" stroke="#f05a64" stroke-width="1.1"/>
<circle cx="410.50" cy="291.88" r="2.9" fill="#fff" stroke="#f05a64" stroke-width="1.1"/>
<circle cx="436.50" cy="292.02" r="2.9" fill="#fff" stroke="#f05a64" stroke-width="1.1"/>
<line x1="393.00" y1="248.10" x2="408.30" y2="248.10" stroke="#f05a64" stroke-width="1.1"/>
<circle cx="400.60" cy="248.10" r="2.4" fill="#fff" stroke="#f05a64" stroke-width="1.1"/>
<text x="412.90" y="251.10" font-size="8.1" text-anchor="start" fill="#222" font-weight="normal">UTD</text>
<line x1="393.00" y1="258.40" x2="408.30" y2="258.40" stroke="#7ccc50" stroke-width="1.1"/>
<circle cx="400.60" cy="258.40" r="2.4" fill="#fff" stroke="#7ccc50" stroke-width="1.1"/>
<text x="412.90" y="261.40" font-size="8.1" text-anchor="start" fill="#222" font-weight="normal">GFP</text>
<line x1="393.00" y1="269.10" x2="408.30" y2="269.10" stroke="#5b8ef0" stroke-width="1.1"/>
<circle cx="400.60" cy="269.10" r="2.4" fill="#fff" stroke="#5b8ef0" stroke-width="1.1"/>
<text x="412.90" y="272.10" font-size="8.1" text-anchor="start" fill="#222" font-weight="normal">CD19 CAR-T</text>
<line x1="451.40" y1="246.20" x2="451.40" y2="259.40" stroke="#161616" stroke-width="1.2"/>
<text transform="translate(450.20,252.50) rotate(90)" font-size="8.7" text-anchor="middle" fill="#161616" font-weight="bold">**</text>
<line x1="464.00" y1="246.20" x2="464.00" y2="269.00" stroke="#161616" stroke-width="1.2"/>
<text transform="translate(462.80,257.30) rotate(90)" font-size="8.7" text-anchor="middle" fill="#161616" font-weight="bold">**</text>
<text x="504.80" y="197.00" font-size="17.5" text-anchor="start" fill="#000" font-weight="bold">g</text>
<line x1="547.60" y1="198.80" x2="547.60" y2="293.35" stroke="#1a1a1a" stroke-width="1.1"/>
<line x1="544.00" y1="292.80" x2="547.60" y2="292.80" stroke="#1a1a1a" stroke-width="1.1"/>
<text x="542.40" y="296.07" font-size="9.2" text-anchor="end" fill="#222" font-weight="normal">0</text>
<line x1="544.00" y1="274.10" x2="547.60" y2="274.10" stroke="#1a1a1a" stroke-width="1.1"/>
<text x="542.40" y="277.37" font-size="9.2" text-anchor="end" fill="#222" font-weight="normal">2</text>
<line x1="544.00" y1="255.40" x2="547.60" y2="255.40" stroke="#1a1a1a" stroke-width="1.1"/>
<text x="542.40" y="258.67" font-size="9.2" text-anchor="end" fill="#222" font-weight="normal">4</text>
<line x1="544.00" y1="236.70" x2="547.60" y2="236.70" stroke="#1a1a1a" stroke-width="1.1"/>
<text x="542.40" y="239.97" font-size="9.2" text-anchor="end" fill="#222" font-weight="normal">6</text>
<line x1="544.00" y1="218.00" x2="547.60" y2="218.00" stroke="#1a1a1a" stroke-width="1.1"/>
<text x="542.40" y="221.27" font-size="9.2" text-anchor="end" fill="#222" font-weight="normal">8</text>
<line x1="544.00" y1="199.30" x2="547.60" y2="199.30" stroke="#1a1a1a" stroke-width="1.1"/>
<text x="542.40" y="202.57" font-size="9.2" text-anchor="end" fill="#222" font-weight="normal">10</text>
<line x1="547.05" y1="292.80" x2="628.10" y2="292.80" stroke="#1a1a1a" stroke-width="1.1"/>
<text transform="translate(529.00,246.50) rotate(-90)" font-size="8.8" text-anchor="middle" fill="#222" font-weight="normal">CXCR4 MFI fold change</text>
<rect x="552.60" y="283.45" width="9.20" height="9.35" fill="#f0aab2" stroke="none" stroke-width="0"/>
<line x1="557.20" y1="292.80" x2="557.20" y2="296.80" stroke="#1a1a1a" stroke-width="1.1"/>
<circle cx="554.60" cy="283.45" r="2.2" fill="#fff" stroke="#ec4a5a" stroke-width="1.0"/>
<circle cx="557.20" cy="283.45" r="2.2" fill="#fff" stroke="#ec4a5a" stroke-width="1.0"/>
<circle cx="559.80" cy="283.45" r="2.2" fill="#fff" stroke="#ec4a5a" stroke-width="1.0"/>
<text transform="translate(562.00,303.00) rotate(-45)" font-size="7.5" text-anchor="end" fill="#222" font-weight="normal">0 h</text>
<rect x="564.80" y="255.40" width="9.30" height="37.40" fill="#aecbfa" stroke="none" stroke-width="0"/>
<line x1="569.45" y1="292.80" x2="569.45" y2="296.80" stroke="#1a1a1a" stroke-width="1.1"/>
<circle cx="566.60" cy="255.40" r="2.2" fill="#fff" stroke="#4f86ee" stroke-width="1.0"/>
<circle cx="569.50" cy="251.66" r="2.2" fill="#fff" stroke="#4f86ee" stroke-width="1.0"/>
<circle cx="572.40" cy="255.40" r="2.2" fill="#fff" stroke="#4f86ee" stroke-width="1.0"/>
<text transform="translate(574.25,303.00) rotate(-45)" font-size="7.5" text-anchor="end" fill="#222" font-weight="normal">6 h</text>
<rect x="577.30" y="213.33" width="8.50" height="79.47" fill="#c0e4a8" stroke="none" stroke-width="0"/>
<line x1="581.55" y1="292.80" x2="581.55" y2="296.80" stroke="#1a1a1a" stroke-width="1.1"/>
<circle cx="581.50" cy="208.65" r="2.2" fill="#fff" stroke="#6cc44a" stroke-width="1.0"/>
<circle cx="581.50" cy="217.06" r="2.2" fill="#fff" stroke="#6cc44a" stroke-width="1.0"/>
<circle cx="580.50" cy="212.86" r="2.2" fill="#fff" stroke="#6cc44a" stroke-width="1.0"/>
<text transform="translate(586.35,303.00) rotate(-45)" font-size="7.5" text-anchor="end" fill="#222" font-weight="normal">Day 1</text>
<rect x="589.00" y="243.25" width="8.90" height="49.56" fill="#f0e49a" stroke="none" stroke-width="0"/>
<line x1="593.45" y1="292.80" x2="593.45" y2="296.80" stroke="#1a1a1a" stroke-width="1.1"/>
<circle cx="591.20" cy="241.38" r="2.2" fill="#fff" stroke="#ecc43a" stroke-width="1.0"/>
<circle cx="593.80" cy="244.18" r="2.2" fill="#fff" stroke="#ecc43a" stroke-width="1.0"/>
<circle cx="596.40" cy="242.78" r="2.2" fill="#fff" stroke="#ecc43a" stroke-width="1.0"/>
<text transform="translate(598.25,303.00) rotate(-45)" font-size="7.5" text-anchor="end" fill="#222" font-weight="normal">Day 3</text>
<rect x="601.60" y="244.65" width="8.90" height="48.15" fill="#cc9cd0" stroke="none" stroke-width="0"/>
<line x1="606.05" y1="292.80" x2="606.05" y2="296.80" stroke="#1a1a1a" stroke-width="1.1"/>
<circle cx="603.60" cy="244.65" r="2.2" fill="#fff" stroke="#a850b4" stroke-width="1.0"/>
<circle cx="606.10" cy="243.25" r="2.2" fill="#fff" stroke="#a850b4" stroke-width="1.0"/>
<circle cx="608.60" cy="244.18" r="2.2" fill="#fff" stroke="#a850b4" stroke-width="1.0"/>
<text transform="translate(610.85,303.00) rotate(-45)" font-size="7.5" text-anchor="end" fill="#222" font-weight="normal">Day 5</text>
<rect x="613.90" y="259.61" width="8.90" height="33.19" fill="#7a7a7a" stroke="none" stroke-width="0"/>
<line x1="618.35" y1="292.80" x2="618.35" y2="296.80" stroke="#1a1a1a" stroke-width="1.1"/>
<circle cx="616.00" cy="260.07" r="2.2" fill="#fff" stroke="#111" stroke-width="1.0"/>
<circle cx="618.40" cy="257.74" r="2.2" fill="#fff" stroke="#111" stroke-width="1.0"/>
<circle cx="620.80" cy="258.95" r="2.2" fill="#fff" stroke="#111" stroke-width="1.0"/>
<text transform="translate(623.15,303.00) rotate(-45)" font-size="7.5" text-anchor="end" fill="#222" font-weight="normal">Day 7</text>
<line x1="554.30" y1="195.60" x2="618.10" y2="195.60" stroke="#161616" stroke-width="1.2"/>
<text x="586.20" y="196.50" font-size="8.7" text-anchor="middle" fill="#161616" font-weight="bold">**</text>
<line x1="554.30" y1="209.00" x2="570.20" y2="209.00" stroke="#161616" stroke-width="1.2"/>
<text x="562.25" y="209.90" font-size="8.7" text-anchor="middle" fill="#161616" font-weight="bold">**</text>
<text x="0.50" y="342.40" font-size="17.5" text-anchor="start" fill="#000" font-weight="bold">e</text>
<text x="102.70" y="341.40" font-size="8.8" text-anchor="end" fill="#222" font-weight="normal">CD19 CAR-T</text>
<text x="102.70" y="355.40" font-size="8.8" text-anchor="end" fill="#222" font-weight="normal">CXCR4<tspan font-size="4.6" dy="-3.4">hi</tspan><tspan dy="3.4"> CD19 CAR-T</tspan></text>
<line x1="135.00" y1="335.90" x2="211.60" y2="335.90" stroke="#333" stroke-width="0.9"/>
<rect x="103.80" y="329.60" width="31.70" height="12.60" fill="#e07c84" stroke="none" stroke-width="0"/>
<text x="119.65" y="339.10" font-size="8.8" text-anchor="middle" fill="#222" font-weight="normal">scFv</text>
<rect x="139.60" y="329.60" width="31.70" height="12.60" fill="#8cacf6" stroke="none" stroke-width="0"/>
<text x="155.45" y="339.10" font-size="8.8" text-anchor="middle" fill="#222" font-weight="normal">TM</text>
<rect x="175.40" y="329.60" width="32.40" height="12.60" fill="#7ce43c" stroke="none" stroke-width="0"/>
<text x="191.60" y="339.10" font-size="8.8" text-anchor="middle" fill="#222" font-weight="normal">4-1BB</text>
<rect x="211.60" y="329.60" width="32.00" height="12.60" fill="#ccdc34" stroke="none" stroke-width="0"/>
<text x="227.60" y="339.10" font-size="8.8" text-anchor="middle" fill="#222" font-weight="normal">CD3ζ</text>
<line x1="135.00" y1="351.90" x2="272.50" y2="351.90" stroke="#333" stroke-width="0.9"/>
<rect x="103.80" y="345.60" width="31.70" height="12.60" fill="#e07c84" stroke="none" stroke-width="0"/>
<text x="119.65" y="355.10" font-size="8.8" text-anchor="middle" fill="#222" font-weight="normal">scFv</text>
<rect x="139.60" y="345.60" width="31.70" height="12.60" fill="#8cacf6" stroke="none" stroke-width="0"/>
<text x="155.45" y="355.10" font-size="8.8" text-anchor="middle" fill="#222" font-weight="normal">TM</text>
<rect x="175.40" y="345.60" width="32.40" height="12.60" fill="#7ce43c" stroke="none" stroke-width="0"/>
<text x="191.60" y="355.10" font-size="8.8" text-anchor="middle" fill="#222" font-weight="normal">4-1BB</text>
<rect x="211.60" y="345.60" width="32.00" height="12.60" fill="#ccdc34" stroke="none" stroke-width="0"/>
<text x="227.60" y="355.10" font-size="8.8" text-anchor="middle" fill="#222" font-weight="normal">CD3ζ</text>
<rect x="247.40" y="346.00" width="21.40" height="11.80" fill="#fff" stroke="#333" stroke-width="0.9"/>
<text x="258.10" y="355.10" font-size="8.8" text-anchor="middle" fill="#222" font-weight="normal">P2A</text>
<rect x="272.20" y="345.60" width="32.30" height="12.60" fill="#e874e2" stroke="none" stroke-width="0"/>
<text x="288.35" y="355.10" font-size="8.8" text-anchor="middle" fill="#222" font-weight="normal">CXCR4</text>
<text x="327.20" y="344.20" font-size="17.5" text-anchor="start" fill="#000" font-weight="bold">h</text>
<path d="M389.40,352.60 A33.5,33.5 0 0 1 408.76,358.76 L398.99,372.55 A16.6,16.6 0 0 0 389.40,369.50 Z" stroke="none" fill="#ff1a0a" stroke-width="1.0"/>
<path d="M408.76,358.76 A33.5,33.5 0 0 1 409.45,359.26 L399.34,372.80 A16.6,16.6 0 0 0 398.99,372.55 Z" stroke="none" fill="#1e00ff" stroke-width="1.0"/>
<path d="M409.45,359.26 A33.5,33.5 0 0 1 414.03,363.39 L401.60,374.85 A16.6,16.6 0 0 0 399.34,372.80 Z" stroke="none" fill="#201818" stroke-width="1.0"/>
<path d="M414.03,363.39 A33.5,33.5 0 1 1 389.40,352.60 L389.40,369.50 A16.6,16.6 0 1 0 401.60,374.85 Z" stroke="none" fill="#9b9b9b" stroke-width="1.0"/>
<path d="M476.80,352.60 A33.5,33.5 0 0 1 506.62,401.36 L491.58,393.66 A16.6,16.6 0 0 0 476.80,369.50 Z" stroke="none" fill="#ff1a0a" stroke-width="1.0"/>
<path d="M506.62,401.36 A33.5,33.5 0 0 1 505.36,403.62 L490.95,394.78 A16.6,16.6 0 0 0 491.58,393.66 Z" stroke="none" fill="#1e00ff" stroke-width="1.0"/>
<path d="M505.36,403.62 A33.5,33.5 0 0 1 486.05,418.30 L481.38,402.06 A16.6,16.6 0 0 0 490.95,394.78 Z" stroke="none" fill="#201818" stroke-width="1.0"/>
<path d="M486.05,418.30 A33.5,33.5 0 1 1 476.80,352.60 L476.80,369.50 A16.6,16.6 0 1 0 481.38,402.06 Z" stroke="none" fill="#9b9b9b" stroke-width="1.0"/>
<path d="M563.60,352.60 A33.5,33.5 0 0 1 564.91,419.57 L564.25,402.69 A16.6,16.6 0 0 0 563.60,369.50 Z" stroke="none" fill="#ff1a0a" stroke-width="1.0"/>
<path d="M564.91,419.57 A33.5,33.5 0 0 1 559.24,419.31 L561.44,402.56 A16.6,16.6 0 0 0 564.25,402.69 Z" stroke="none" fill="#1e00ff" stroke-width="1.0"/>
<path d="M559.24,419.31 A33.5,33.5 0 0 1 543.07,412.57 L553.43,399.22 A16.6,16.6 0 0 0 561.44,402.56 Z" stroke="none" fill="#201818" stroke-width="1.0"/>
<path d="M543.07,412.57 A33.5,33.5 0 0 1 563.60,352.60 L563.60,369.50 A16.6,16.6 0 0 0 553.43,399.22 Z" stroke="none" fill="#9b9b9b" stroke-width="1.0"/>
<text x="388.60" y="346.20" font-size="8.8" text-anchor="middle" fill="#222" font-weight="normal">UTD</text>
<text x="477.00" y="346.20" font-size="8.8" text-anchor="middle" fill="#222" font-weight="normal">CD19 CAR-T</text>
<text x="567.00" y="346.20" font-size="8.8" text-anchor="middle" fill="#222" font-weight="normal">CXCR4<tspan font-size="4.6" dy="-3.4">hi</tspan><tspan dy="3.4"> CD19 CAR-T</tspan></text>
<text x="396.50" y="364.80" font-size="8.4" text-anchor="middle" fill="#f4f4f4" font-weight="normal">9.7</text>
<text x="410.50" y="401.50" font-size="8.4" text-anchor="middle" fill="#f4f4f4" font-weight="normal">85.9</text>
<text x="413.60" y="351.00" font-size="8.4" text-anchor="middle" fill="#222" font-weight="normal">0.4</text>
<text x="424.00" y="361.30" font-size="8.4" text-anchor="middle" fill="#222" font-weight="normal">2.9</text>
<line x1="409.60" y1="357.70" x2="412.40" y2="352.50" stroke="#222" stroke-width="0.7"/>
<line x1="414.30" y1="361.30" x2="418.60" y2="360.00" stroke="#222" stroke-width="0.7"/>
<text x="491.50" y="370.50" font-size="8.4" text-anchor="middle" fill="#f4f4f4" font-weight="normal">31.72</text>
<text x="450.60" y="394.60" font-size="8.0" text-anchor="middle" fill="#f4f4f4" font-weight="normal">53.1</text>
<text x="493.40" y="410.20" font-size="8.0" text-anchor="middle" fill="#f4f4f4" font-weight="normal">11.5</text>
<text x="518.80" y="411.50" font-size="8.4" text-anchor="middle" fill="#222" font-weight="normal">1.2</text>
<line x1="506.50" y1="402.40" x2="511.60" y2="407.00" stroke="#222" stroke-width="0.7"/>
<text x="538.20" y="383.00" font-size="8.4" text-anchor="middle" fill="#f4f4f4" font-weight="normal">38</text>
<text x="588.60" y="388.60" font-size="8.0" text-anchor="middle" fill="#f4f4f4" font-weight="normal">47.5</text>
<text x="554.00" y="409.50" font-size="8.4" text-anchor="middle" fill="#f4f4f4" font-weight="normal">8.1</text>
<text x="562.50" y="392.70" font-size="8.4" text-anchor="middle" fill="#222" font-weight="normal">2.6</text>
<line x1="562.60" y1="395.00" x2="562.60" y2="418.50" stroke="#222" stroke-width="0.7"/>
<rect x="607.40" y="369.00" width="13.70" height="6.80" fill="#9b9b9b" stroke="none" stroke-width="0"/>
<text x="623.70" y="375.60" font-size="8.8" text-anchor="start" fill="#222" font-weight="normal">0</text>
<rect x="607.40" y="380.20" width="13.70" height="6.80" fill="#201818" stroke="none" stroke-width="0"/>
<text x="623.70" y="386.80" font-size="8.8" text-anchor="start" fill="#222" font-weight="normal">1</text>
<rect x="607.40" y="390.90" width="13.70" height="6.80" fill="#1e00ff" stroke="none" stroke-width="0"/>
<text x="623.70" y="397.50" font-size="8.8" text-anchor="start" fill="#222" font-weight="normal">2</text>
<rect x="607.40" y="401.90" width="13.70" height="6.80" fill="#ff1a0a" stroke="none" stroke-width="0"/>
<text x="623.70" y="408.50" font-size="8.8" text-anchor="start" fill="#222" font-weight="normal">3</text>
<text x="0.30" y="395.20" font-size="17.5" text-anchor="start" fill="#000" font-weight="bold">f</text>
<rect x="38.50" y="391.90" width="14.50" height="5.50" fill="#f0606c" stroke="none" stroke-width="0"/>
<text x="56.00" y="397.60" font-size="8.8" text-anchor="start" fill="#222" font-weight="normal">UTD</text>
<rect x="87.00" y="391.90" width="14.80" height="5.50" fill="#6e9cf4" stroke="none" stroke-width="0"/>
<text x="104.50" y="397.60" font-size="8.8" text-anchor="start" fill="#222" font-weight="normal">CD19 CAR-T</text>
<rect x="164.80" y="392.10" width="14.30" height="5.50" fill="#eccc4a" stroke="none" stroke-width="0"/>
<text x="183.40" y="397.60" font-size="8.8" text-anchor="start" fill="#222" font-weight="normal">CXCR4<tspan font-size="4.6" dy="-3.4">hi</tspan><tspan dy="3.4"> CD19 CAR-T</tspan></text>
<path d="M46.80,501.30 L49.25,501.15 L52.77,501.40 L56.62,502.27 L60.00,500.91 L62.72,500.73 L65.20,500.55 L67.58,499.08 L70.00,499.53 L72.54,499.57 L75.11,499.81 L77.62,497.65 L80.00,497.49 L82.26,495.70 L84.42,495.96 L86.45,493.92 L88.30,490.61 L89.92,491.64 L91.36,490.25 L92.67,488.08 L93.90,486.50 L95.03,483.74 L96.04,481.75 L97.00,481.33 L98.00,478.15 L99.06,476.30 L100.14,474.04 L101.20,470.97 L102.20,469.51 L103.12,466.83 L103.99,465.20 L104.81,461.55 L105.60,458.86 L106.34,455.14 L107.04,451.93 L107.71,447.81 L108.40,444.12 L109.10,443.22 L109.80,440.71 L110.50,438.02 L111.20,435.54 L111.92,432.58 L112.66,430.64 L113.37,429.15 L114.00,426.88 L114.51,426.73 L114.93,423.68 L115.34,422.98 L115.80,420.50 L116.34,421.56 L116.93,421.45 L117.53,419.62 L118.10,420.35 L118.64,421.87 L119.16,420.22 L119.68,421.26 L120.20,420.13 L120.71,420.43 L121.21,423.54 L121.73,426.09 L122.30,427.40 L122.93,430.28 L123.61,434.91 L124.30,440.71 L125.00,443.97 L125.69,445.58 L126.39,448.93 L127.10,451.53 L127.80,454.56 L128.52,459.78 L129.24,461.55 L129.95,466.05 L130.60,469.46 L131.13,472.98 L131.57,478.93 L132.05,481.70 L132.70,486.57 L133.60,487.60 L134.66,490.03 L135.77,490.86 L136.80,492.60 L137.80,496.54 L138.81,498.43 L139.69,499.23 L140.30,501.20 L140.30,501.6 L46.80,501.6 Z" stroke="none" fill="#eaeffa" stroke-width="1.0"/>
<path d="M46.80,501.40 L56.45,501.33 L70.54,501.63 L84.80,501.54 L95.00,500.36 L99.41,499.79 L100.48,500.03 L100.27,499.24 L100.80,499.26 L102.51,497.84 L104.35,496.25 L106.14,494.33 L107.70,492.09 L108.96,487.76 L110.02,484.13 L110.97,479.42 L111.90,477.23 L112.80,473.27 L113.64,472.83 L114.46,469.73 L115.30,468.54 L116.19,464.78 L117.11,461.30 L117.99,458.41 L118.80,453.53 L119.51,450.61 L120.16,449.34 L120.75,445.93 L121.30,442.56 L121.77,441.67 L122.18,439.21 L122.57,435.34 L123.00,433.46 L123.49,430.13 L124.02,427.41 L124.54,425.25 L125.00,422.59 L125.38,423.05 L125.71,422.31 L126.04,423.17 L126.40,424.47 L126.81,422.98 L127.24,421.83 L127.70,421.05 L128.20,420.36 L128.77,420.56 L129.40,420.83 L130.03,423.23 L130.60,424.74 L131.08,425.51 L131.50,425.59 L131.92,426.01 L132.40,427.75 L132.97,431.03 L133.59,434.39 L134.21,437.21 L134.80,441.42 L135.34,445.93 L135.86,450.83 L136.35,456.05 L136.80,459.90 L137.19,463.00 L137.54,468.13 L137.86,471.12 L138.20,475.23 L138.57,479.24 L138.94,484.53 L139.30,489.14 L139.60,493.69 L139.84,495.38 L140.04,498.41 L140.19,499.42 L140.30,501.20 L140.30,501.6 L46.80,501.6 Z" stroke="none" fill="#fafae4" stroke-width="1.0"/>
<path d="M46.80,501.40 L53.22,501.39 L62.53,501.37 L72.28,501.32 L80.00,501.20 L85.00,501.03 L88.59,500.81 L91.37,500.52 L93.90,500.10 L96.15,499.58 L97.88,498.98 L99.34,498.23 L100.80,497.30 L102.32,496.15 L103.76,494.81 L105.10,493.34 L106.30,491.80 L107.33,490.40 L108.22,489.05 L109.02,487.35 L109.80,484.90 L110.55,481.57 L111.25,477.59 L111.92,473.08 L112.60,468.20 L113.29,462.58 L113.97,456.27 L114.65,450.06 L115.30,444.70 L115.94,440.42 L116.56,436.80 L117.15,433.66 L117.70,430.80 L118.19,428.19 L118.64,425.91 L119.06,424.01 L119.50,422.50 L119.95,421.44 L120.39,420.80 L120.84,420.48 L121.30,420.40 L121.78,420.45 L122.29,420.71 L122.77,421.34 L123.20,422.50 L123.51,424.20 L123.75,426.36 L124.01,429.01 L124.40,432.20 L124.97,436.18 L125.65,440.86 L126.38,445.70 L127.10,450.20 L127.79,454.07 L128.49,457.62 L129.20,461.27 L129.90,465.40 L130.57,470.53 L131.22,476.31 L131.91,481.84 L132.70,486.20 L133.65,488.90 L134.71,490.50 L135.79,491.70 L136.80,493.20 L137.80,495.32 L138.81,497.64 L139.69,499.74 L140.30,501.20 L140.30,501.6 L46.80,501.6 Z" stroke="none" fill="#eadcdc" stroke-width="1.0"/>
<path d="M46.80,501.30 L49.25,501.15 L52.77,501.40 L56.62,502.27 L60.00,500.91 L62.72,500.73 L65.20,500.55 L67.58,499.08 L70.00,499.53 L72.54,499.57 L75.11,499.81 L77.62,497.65 L80.00,497.49 L82.26,495.70 L84.42,495.96 L86.45,493.92 L88.30,490.61 L89.92,491.64 L91.36,490.25 L92.67,488.08 L93.90,486.50 L95.03,483.74 L96.04,481.75 L97.00,481.33 L98.00,478.15 L99.06,476.30 L100.14,474.04 L101.20,470.97 L102.20,469.51 L103.12,466.83 L103.99,465.20 L104.81,461.55 L105.60,458.86 L106.34,455.14 L107.04,451.93 L107.71,447.81 L108.40,444.12 L109.10,443.22 L109.80,440.71 L110.50,438.02 L111.20,435.54 L111.92,432.58 L112.66,430.64 L113.37,429.15 L114.00,426.88 L114.51,426.73 L114.93,423.68 L115.34,422.98 L115.80,420.50 L116.34,421.56 L116.93,421.45 L117.53,419.62 L118.10,420.35 L118.64,421.87 L119.16,420.22 L119.68,421.26 L120.20,420.13 L120.71,420.43 L121.21,423.54 L121.73,426.09 L122.30,427.40 L122.93,430.28 L123.61,434.91 L124.30,440.71 L125.00,443.97 L125.69,445.58 L126.39,448.93 L127.10,451.53 L127.80,454.56 L128.52,459.78 L129.24,461.55 L129.95,466.05 L130.60,469.46 L131.13,472.98 L131.57,478.93 L132.05,481.70 L132.70,486.57 L133.60,487.60 L134.66,490.03 L135.77,490.86 L136.80,492.60 L137.80,496.54 L138.81,498.43 L139.69,499.23 L140.30,501.20" stroke="#5a8cf4" fill="none" stroke-width="1.1"/>
<path d="M46.80,501.40 L56.45,501.33 L70.54,501.63 L84.80,501.54 L95.00,500.36 L99.41,499.79 L100.48,500.03 L100.27,499.24 L100.80,499.26 L102.51,497.84 L104.35,496.25 L106.14,494.33 L107.70,492.09 L108.96,487.76 L110.02,484.13 L110.97,479.42 L111.90,477.23 L112.80,473.27 L113.64,472.83 L114.46,469.73 L115.30,468.54 L116.19,464.78 L117.11,461.30 L117.99,458.41 L118.80,453.53 L119.51,450.61 L120.16,449.34 L120.75,445.93 L121.30,442.56 L121.77,441.67 L122.18,439.21 L122.57,435.34 L123.00,433.46 L123.49,430.13 L124.02,427.41 L124.54,425.25 L125.00,422.59 L125.38,423.05 L125.71,422.31 L126.04,423.17 L126.40,424.47 L126.81,422.98 L127.24,421.83 L127.70,421.05 L128.20,420.36 L128.77,420.56 L129.40,420.83 L130.03,423.23 L130.60,424.74 L131.08,425.51 L131.50,425.59 L131.92,426.01 L132.40,427.75 L132.97,431.03 L133.59,434.39 L134.21,437.21 L134.80,441.42 L135.34,445.93 L135.86,450.83 L136.35,456.05 L136.80,459.90 L137.19,463.00 L137.54,468.13 L137.86,471.12 L138.20,475.23 L138.57,479.24 L138.94,484.53 L139.30,489.14 L139.60,493.69 L139.84,495.38 L140.04,498.41 L140.19,499.42 L140.30,501.20" stroke="#e4d030" fill="none" stroke-width="1.1"/>
<path d="M46.80,501.40 L53.22,501.39 L62.53,501.37 L72.28,501.32 L80.00,501.20 L85.00,501.03 L88.59,500.81 L91.37,500.52 L93.90,500.10 L96.15,499.58 L97.88,498.98 L99.34,498.23 L100.80,497.30 L102.32,496.15 L103.76,494.81 L105.10,493.34 L106.30,491.80 L107.33,490.40 L108.22,489.05 L109.02,487.35 L109.80,484.90 L110.55,481.57 L111.25,477.59 L111.92,473.08 L112.60,468.20 L113.29,462.58 L113.97,456.27 L114.65,450.06 L115.30,444.70 L115.94,440.42 L116.56,436.80 L117.15,433.66 L117.70,430.80 L118.19,428.19 L118.64,425.91 L119.06,424.01 L119.50,422.50 L119.95,421.44 L120.39,420.80 L120.84,420.48 L121.30,420.40 L121.78,420.45 L122.29,420.71 L122.77,421.34 L123.20,422.50 L123.51,424.20 L123.75,426.36 L124.01,429.01 L124.40,432.20 L124.97,436.18 L125.65,440.86 L126.38,445.70 L127.10,450.20 L127.79,454.07 L128.49,457.62 L129.20,461.27 L129.90,465.40 L130.57,470.53 L131.22,476.31 L131.91,481.84 L132.70,486.20 L133.65,488.90 L134.71,490.50 L135.79,491.70 L136.80,493.20 L137.80,495.32 L138.81,497.64 L139.69,499.74 L140.30,501.20" stroke="#e8283c" fill="none" stroke-width="1.1"/>
<rect x="46.30" y="411.70" width="101.60" height="89.90" fill="none" stroke="#222" stroke-width="1.0"/>
<line x1="43.30" y1="502.00" x2="46.30" y2="502.00" stroke="#222" stroke-width="0.9"/>
<text x="42.10" y="504.90" font-size="8.2" text-anchor="end" fill="#222" font-weight="normal">0</text>
<line x1="44.70" y1="493.80" x2="46.30" y2="493.80" stroke="#222" stroke-width="0.9"/>
<line x1="43.30" y1="485.60" x2="46.30" y2="485.60" stroke="#222" stroke-width="0.9"/>
<text x="42.10" y="488.50" font-size="8.2" text-anchor="end" fill="#222" font-weight="normal">20</text>
<line x1="44.70" y1="477.40" x2="46.30" y2="477.40" stroke="#222" stroke-width="0.9"/>
<line x1="43.30" y1="469.20" x2="46.30" y2="469.20" stroke="#222" stroke-width="0.9"/>
<text x="42.10" y="472.10" font-size="8.2" text-anchor="end" fill="#222" font-weight="normal">40</text>
<line x1="44.70" y1="461.00" x2="46.30" y2="461.00" stroke="#222" stroke-width="0.9"/>
<line x1="43.30" y1="452.80" x2="46.30" y2="452.80" stroke="#222" stroke-width="0.9"/>
<text x="42.10" y="455.70" font-size="8.2" text-anchor="end" fill="#222" font-weight="normal">60</text>
<line x1="44.70" y1="444.60" x2="46.30" y2="444.60" stroke="#222" stroke-width="0.9"/>
<line x1="43.30" y1="436.40" x2="46.30" y2="436.40" stroke="#222" stroke-width="0.9"/>
<text x="42.10" y="439.30" font-size="8.2" text-anchor="end" fill="#222" font-weight="normal">80</text>
<line x1="44.70" y1="428.20" x2="46.30" y2="428.20" stroke="#222" stroke-width="0.9"/>
<line x1="43.30" y1="420.00" x2="46.30" y2="420.00" stroke="#222" stroke-width="0.9"/>
<text x="42.10" y="422.90" font-size="8.2" text-anchor="end" fill="#222" font-weight="normal">100</text>
<text x="42.13" y="511.70" font-size="7.5" text-anchor="start" fill="#222" font-weight="normal">10<tspan font-size="4.6" dy="-2.8">2.5</tspan></text>
<text x="80.93" y="511.70" font-size="7.5" text-anchor="start" fill="#222" font-weight="normal">10<tspan font-size="4.6" dy="-2.8">4</tspan></text>
<text x="105.53" y="511.70" font-size="7.5" text-anchor="start" fill="#222" font-weight="normal">10<tspan font-size="4.6" dy="-2.8">5</tspan></text>
<text x="140.13" y="511.70" font-size="7.5" text-anchor="start" fill="#222" font-weight="normal">10<tspan font-size="4.6" dy="-2.8">5.5</tspan></text>
<line x1="46.60" y1="501.60" x2="46.60" y2="504.20" stroke="#222" stroke-width="0.9"/>
<line x1="85.60" y1="501.60" x2="85.60" y2="504.20" stroke="#222" stroke-width="0.9"/>
<line x1="109.80" y1="501.60" x2="109.80" y2="504.20" stroke="#222" stroke-width="0.9"/>
<line x1="147.50" y1="501.60" x2="147.50" y2="504.20" stroke="#222" stroke-width="0.9"/>
<line x1="58.00" y1="501.60" x2="58.00" y2="503.00" stroke="#222" stroke-width="0.6"/>
<line x1="65.00" y1="501.60" x2="65.00" y2="503.00" stroke="#222" stroke-width="0.6"/>
<line x1="70.00" y1="501.60" x2="70.00" y2="503.00" stroke="#222" stroke-width="0.6"/>
<line x1="74.00" y1="501.60" x2="74.00" y2="503.00" stroke="#222" stroke-width="0.6"/>
<line x1="77.00" y1="501.60" x2="77.00" y2="503.00" stroke="#222" stroke-width="0.6"/>
<line x1="80.00" y1="501.60" x2="80.00" y2="503.00" stroke="#222" stroke-width="0.6"/>
<line x1="82.00" y1="501.60" x2="82.00" y2="503.00" stroke="#222" stroke-width="0.6"/>
<line x1="84.00" y1="501.60" x2="84.00" y2="503.00" stroke="#222" stroke-width="0.6"/>
<line x1="93.00" y1="501.60" x2="93.00" y2="503.00" stroke="#222" stroke-width="0.6"/>
<line x1="97.00" y1="501.60" x2="97.00" y2="503.00" stroke="#222" stroke-width="0.6"/>
<line x1="100.00" y1="501.60" x2="100.00" y2="503.00" stroke="#222" stroke-width="0.6"/>
<line x1="102.00" y1="501.60" x2="102.00" y2="503.00" stroke="#222" stroke-width="0.6"/>
<line x1="104.00" y1="501.60" x2="104.00" y2="503.00" stroke="#222" stroke-width="0.6"/>
<line x1="106.00" y1="501.60" x2="106.00" y2="503.00" stroke="#222" stroke-width="0.6"/>
<line x1="108.00" y1="501.60" x2="108.00" y2="503.00" stroke="#222" stroke-width="0.6"/>
<line x1="117.00" y1="501.60" x2="117.00" y2="503.00" stroke="#222" stroke-width="0.6"/>
<line x1="123.00" y1="501.60" x2="123.00" y2="503.00" stroke="#222" stroke-width="0.6"/>
<line x1="127.00" y1="501.60" x2="127.00" y2="503.00" stroke="#222" stroke-width="0.6"/>
<line x1="130.00" y1="501.60" x2="130.00" y2="503.00" stroke="#222" stroke-width="0.6"/>
<line x1="133.00" y1="501.60" x2="133.00" y2="503.00" stroke="#222" stroke-width="0.6"/>
<line x1="136.00" y1="501.60" x2="136.00" y2="503.00" stroke="#222" stroke-width="0.6"/>
<line x1="139.00" y1="501.60" x2="139.00" y2="503.00" stroke="#222" stroke-width="0.6"/>
<line x1="141.00" y1="501.60" x2="141.00" y2="503.00" stroke="#222" stroke-width="0.6"/>
<line x1="143.00" y1="501.60" x2="143.00" y2="503.00" stroke="#222" stroke-width="0.6"/>
<line x1="145.00" y1="501.60" x2="145.00" y2="503.00" stroke="#222" stroke-width="0.6"/>
<line x1="28.30" y1="516.20" x2="28.30" y2="439.50" stroke="#222" stroke-width="1.1"/>
<path d="M28.3,436.3 L26.2,440.8 L30.4,440.8 Z" stroke="none" fill="#222" stroke-width="1.0"/>
<line x1="27.80" y1="515.80" x2="108.80" y2="515.80" stroke="#222" stroke-width="1.1"/>
<path d="M112.3,515.8 L107.8,513.7 L107.8,517.9 Z" stroke="none" fill="#222" stroke-width="1.0"/>
<text x="69.50" y="526.60" font-size="8.8" text-anchor="middle" fill="#222" font-weight="normal">CXCR4</text>
<text transform="translate(25.60,480.80) rotate(-90)" font-size="8.8" text-anchor="middle" fill="#222" font-weight="normal">Count</text>
<line x1="211.80" y1="424.60" x2="211.80" y2="515.35" stroke="#1a1a1a" stroke-width="1.1"/>
<line x1="208.20" y1="514.80" x2="211.80" y2="514.80" stroke="#1a1a1a" stroke-width="1.1"/>
<text x="206.60" y="518.07" font-size="9.2" text-anchor="end" fill="#222" font-weight="normal">0</text>
<line x1="208.20" y1="496.86" x2="211.80" y2="496.86" stroke="#1a1a1a" stroke-width="1.1"/>
<text x="206.60" y="500.13" font-size="9.2" text-anchor="end" fill="#222" font-weight="normal">0.5</text>
<line x1="208.20" y1="478.92" x2="211.80" y2="478.92" stroke="#1a1a1a" stroke-width="1.1"/>
<text x="206.60" y="482.19" font-size="9.2" text-anchor="end" fill="#222" font-weight="normal">1.0</text>
<line x1="208.20" y1="460.98" x2="211.80" y2="460.98" stroke="#1a1a1a" stroke-width="1.1"/>
<text x="206.60" y="464.25" font-size="9.2" text-anchor="end" fill="#222" font-weight="normal">1.5</text>
<line x1="208.20" y1="443.04" x2="211.80" y2="443.04" stroke="#1a1a1a" stroke-width="1.1"/>
<text x="206.60" y="446.31" font-size="9.2" text-anchor="end" fill="#222" font-weight="normal">2.0</text>
<line x1="208.20" y1="425.10" x2="211.80" y2="425.10" stroke="#1a1a1a" stroke-width="1.1"/>
<text x="206.60" y="428.37" font-size="9.2" text-anchor="end" fill="#222" font-weight="normal">2.5</text>
<line x1="211.25" y1="514.80" x2="302.00" y2="514.80" stroke="#1a1a1a" stroke-width="1.1"/>
<text transform="translate(188.30,469.80) rotate(-90)" font-size="8.8" text-anchor="middle" fill="#222" font-weight="normal">CXCR4 MFI fold change</text>
<rect x="220.50" y="478.92" width="15.50" height="35.88" fill="#f0aab2" stroke="none" stroke-width="0"/>
<rect x="248.90" y="495.42" width="15.10" height="19.38" fill="#aecbfa" stroke="none" stroke-width="0"/>
<rect x="277.10" y="451.29" width="15.30" height="63.51" fill="#f0e49a" stroke="none" stroke-width="0"/>
<line x1="256.50" y1="486.40" x2="256.50" y2="503.40" stroke="#4f86ee" stroke-width="1.0"/>
<line x1="253.00" y1="486.40" x2="260.00" y2="486.40" stroke="#4f86ee" stroke-width="1.0"/>
<line x1="253.00" y1="503.40" x2="260.00" y2="503.40" stroke="#4f86ee" stroke-width="1.0"/>
<line x1="284.80" y1="436.50" x2="284.80" y2="465.70" stroke="#ecc43a" stroke-width="1.0"/>
<line x1="281.30" y1="436.50" x2="288.30" y2="436.50" stroke="#ecc43a" stroke-width="1.0"/>
<line x1="281.30" y1="465.70" x2="288.30" y2="465.70" stroke="#ecc43a" stroke-width="1.0"/>
<circle cx="222.80" cy="478.92" r="2.2" fill="#fff" stroke="#ec4a5a" stroke-width="1.0"/>
<circle cx="225.70" cy="478.92" r="2.2" fill="#fff" stroke="#ec4a5a" stroke-width="1.0"/>
<circle cx="228.60" cy="478.92" r="2.2" fill="#fff" stroke="#ec4a5a" stroke-width="1.0"/>
<circle cx="231.40" cy="478.92" r="2.2" fill="#fff" stroke="#ec4a5a" stroke-width="1.0"/>
<circle cx="234.00" cy="478.92" r="2.2" fill="#fff" stroke="#ec4a5a" stroke-width="1.0"/>
<circle cx="252.90" cy="483.30" r="2.2" fill="#fff" stroke="#4f86ee" stroke-width="1.0"/>
<circle cx="260.30" cy="483.30" r="2.2" fill="#fff" stroke="#4f86ee" stroke-width="1.0"/>
<circle cx="252.90" cy="494.70" r="2.2" fill="#fff" stroke="#4f86ee" stroke-width="1.0"/>
<circle cx="260.30" cy="491.50" r="2.2" fill="#fff" stroke="#4f86ee" stroke-width="1.0"/>
<circle cx="260.30" cy="495.50" r="2.2" fill="#fff" stroke="#4f86ee" stroke-width="1.0"/>
<circle cx="256.50" cy="499.60" r="2.2" fill="#fff" stroke="#4f86ee" stroke-width="1.0"/>
<circle cx="260.30" cy="504.60" r="2.2" fill="#fff" stroke="#4f86ee" stroke-width="1.0"/>
<circle cx="252.90" cy="507.30" r="2.2" fill="#fff" stroke="#4f86ee" stroke-width="1.0"/>
<circle cx="284.80" cy="429.30" r="2.2" fill="#fff" stroke="#ecc43a" stroke-width="1.0"/>
<circle cx="281.00" cy="441.20" r="2.2" fill="#fff" stroke="#ecc43a" stroke-width="1.0"/>
<circle cx="288.50" cy="443.30" r="2.2" fill="#fff" stroke="#ecc43a" stroke-width="1.0"/>
<circle cx="281.00" cy="444.70" r="2.2" fill="#fff" stroke="#ecc43a" stroke-width="1.0"/>
<circle cx="284.80" cy="449.10" r="2.2" fill="#fff" stroke="#ecc43a" stroke-width="1.0"/>
<circle cx="284.80" cy="463.10" r="2.2" fill="#fff" stroke="#ecc43a" stroke-width="1.0"/>
<circle cx="281.00" cy="468.00" r="2.2" fill="#fff" stroke="#ecc43a" stroke-width="1.0"/>
<circle cx="288.50" cy="468.00" r="2.2" fill="#fff" stroke="#ecc43a" stroke-width="1.0"/>
<line x1="229.30" y1="411.90" x2="285.00" y2="411.90" stroke="#161616" stroke-width="1.2"/>
<text x="257.15" y="412.80" font-size="8.7" text-anchor="middle" fill="#161616" font-weight="bold">**</text>
<line x1="254.20" y1="425.40" x2="285.00" y2="425.40" stroke="#161616" stroke-width="1.2"/>
<text x="269.60" y="426.30" font-size="8.7" text-anchor="middle" fill="#161616" font-weight="bold">**</text>
<text x="1.00" y="551.90" font-size="17.5" text-anchor="start" fill="#000" font-weight="bold">i</text>
<circle cx="28.20" cy="542.40" r="2.4" fill="#fff" stroke="#ec4a5a" stroke-width="1.2"/>
<text x="36.10" y="545.50" font-size="8.8" text-anchor="start" fill="#222" font-weight="normal">UTD</text>
<circle cx="28.20" cy="553.70" r="2.4" fill="#fff" stroke="#4f86ee" stroke-width="1.2"/>
<text x="36.10" y="556.80" font-size="8.8" text-anchor="start" fill="#222" font-weight="normal">CD19 CAR-T</text>
<circle cx="28.20" cy="564.50" r="2.4" fill="#fff" stroke="#ecc43a" stroke-width="1.2"/>
<text x="36.10" y="567.60" font-size="8.8" text-anchor="start" fill="#222" font-weight="normal">CXCR4<tspan font-size="4.6" dy="-3.4">hi</tspan><tspan dy="3.4"> CD19 CAR-T</tspan></text>
<line x1="95.50" y1="542.10" x2="95.50" y2="555.40" stroke="#161616" stroke-width="1.2"/>
<text transform="translate(94.30,548.45) rotate(90)" font-size="8.7" text-anchor="middle" fill="#161616" font-weight="bold">**</text>
<line x1="124.40" y1="551.20" x2="124.40" y2="564.50" stroke="#161616" stroke-width="1.2"/>
<text transform="translate(123.20,557.55) rotate(90)" font-size="8.7" text-anchor="middle" fill="#161616" font-weight="bold">**</text>
<line x1="133.50" y1="542.10" x2="133.50" y2="565.20" stroke="#161616" stroke-width="1.2"/>
<text transform="translate(132.30,553.35) rotate(90)" font-size="8.7" text-anchor="middle" fill="#161616" font-weight="bold">**</text>
<line x1="46.30" y1="580.00" x2="46.30" y2="670.35" stroke="#1a1a1a" stroke-width="1.1"/>
<line x1="42.70" y1="669.80" x2="46.30" y2="669.80" stroke="#1a1a1a" stroke-width="1.1"/>
<text x="41.10" y="673.07" font-size="9.2" text-anchor="end" fill="#222" font-weight="normal">0</text>
<line x1="42.70" y1="647.47" x2="46.30" y2="647.47" stroke="#1a1a1a" stroke-width="1.1"/>
<text x="41.10" y="650.74" font-size="9.2" text-anchor="end" fill="#222" font-weight="normal">5</text>
<line x1="42.70" y1="625.15" x2="46.30" y2="625.15" stroke="#1a1a1a" stroke-width="1.1"/>
<text x="41.10" y="628.42" font-size="9.2" text-anchor="end" fill="#222" font-weight="normal">10</text>
<line x1="42.70" y1="602.83" x2="46.30" y2="602.83" stroke="#1a1a1a" stroke-width="1.1"/>
<text x="41.10" y="606.09" font-size="9.2" text-anchor="end" fill="#222" font-weight="normal">15</text>
<line x1="42.70" y1="580.50" x2="46.30" y2="580.50" stroke="#1a1a1a" stroke-width="1.1"/>
<text x="41.10" y="583.77" font-size="9.2" text-anchor="end" fill="#222" font-weight="normal">20</text>
<line x1="45.75" y1="669.80" x2="135.90" y2="669.80" stroke="#1a1a1a" stroke-width="1.1"/>
<text transform="translate(23.00,626.00) rotate(-90)" font-size="8.8" text-anchor="middle" fill="#222" font-weight="normal">Cell number (x10<tspan font-size="5.0" dy="-3.2">4</tspan><tspan dy="3.2">)</tspan></text>
<rect x="55.00" y="653.40" width="15.10" height="16.40" fill="#f0aab2" stroke="none" stroke-width="0"/>
<rect x="83.10" y="629.40" width="15.20" height="40.40" fill="#aecbfa" stroke="none" stroke-width="0"/>
<rect x="111.00" y="598.00" width="15.80" height="71.80" fill="#f0e49a" stroke="none" stroke-width="0"/>
<line x1="90.70" y1="622.50" x2="90.70" y2="635.50" stroke="#4f86ee" stroke-width="1.0"/>
<line x1="86.80" y1="622.50" x2="94.60" y2="622.50" stroke="#4f86ee" stroke-width="1.0"/>
<line x1="86.80" y1="635.50" x2="94.60" y2="635.50" stroke="#4f86ee" stroke-width="1.0"/>
<line x1="118.90" y1="588.00" x2="118.90" y2="607.00" stroke="#ecc43a" stroke-width="1.0"/>
<line x1="114.70" y1="588.00" x2="123.10" y2="588.00" stroke="#ecc43a" stroke-width="1.0"/>
<line x1="114.70" y1="607.00" x2="123.10" y2="607.00" stroke="#ecc43a" stroke-width="1.0"/>
<circle cx="56.20" cy="653.40" r="2.2" fill="#fff" stroke="#ec4a5a" stroke-width="1.0"/>
<circle cx="62.50" cy="652.20" r="2.2" fill="#fff" stroke="#ec4a5a" stroke-width="1.0"/>
<circle cx="68.50" cy="653.20" r="2.2" fill="#fff" stroke="#ec4a5a" stroke-width="1.0"/>
<circle cx="90.70" cy="622.80" r="2.2" fill="#fff" stroke="#4f86ee" stroke-width="1.0"/>
<circle cx="90.70" cy="628.50" r="2.2" fill="#fff" stroke="#4f86ee" stroke-width="1.0"/>
<circle cx="90.70" cy="635.50" r="2.2" fill="#fff" stroke="#4f86ee" stroke-width="1.0"/>
<circle cx="118.90" cy="588.00" r="2.2" fill="#fff" stroke="#ecc43a" stroke-width="1.0"/>
<circle cx="118.90" cy="598.00" r="2.2" fill="#fff" stroke="#ecc43a" stroke-width="1.0"/>
<circle cx="118.90" cy="607.00" r="2.2" fill="#fff" stroke="#ecc43a" stroke-width="1.0"/>
<text x="181.00" y="551.60" font-size="17.5" text-anchor="start" fill="#000" font-weight="bold">j</text>
<circle cx="270.60" cy="551.60" r="2.5" fill="#fff" stroke="#ec4a5a" stroke-width="1.25"/>
<text x="278.70" y="554.70" font-size="8.8" text-anchor="start" fill="#222" font-weight="normal">UTD</text>
<circle cx="326.60" cy="551.60" r="2.5" fill="#fff" stroke="#4f86ee" stroke-width="1.25"/>
<text x="334.50" y="554.70" font-size="8.8" text-anchor="start" fill="#222" font-weight="normal">CD19 CAR-T</text>
<circle cx="412.70" cy="551.60" r="2.5" fill="#fff" stroke="#ecc43a" stroke-width="1.25"/>
<text x="420.90" y="554.70" font-size="8.8" text-anchor="start" fill="#222" font-weight="normal">CXCR4<tspan font-size="4.6" dy="-3.4">hi</tspan><tspan dy="3.4"> CD19 CAR-T</tspan></text>
<line x1="209.20" y1="565.60" x2="209.20" y2="670.45" stroke="#1a1a1a" stroke-width="1.1"/>
<line x1="204.70" y1="669.90" x2="209.20" y2="669.90" stroke="#1a1a1a" stroke-width="1.1"/>
<text x="203.10" y="673.17" font-size="9.2" text-anchor="end" fill="#222" font-weight="normal">0</text>
<line x1="204.70" y1="643.95" x2="209.20" y2="643.95" stroke="#1a1a1a" stroke-width="1.1"/>
<text x="203.10" y="647.22" font-size="9.2" text-anchor="end" fill="#222" font-weight="normal">20</text>
<line x1="204.70" y1="618.00" x2="209.20" y2="618.00" stroke="#1a1a1a" stroke-width="1.1"/>
<text x="203.10" y="621.27" font-size="9.2" text-anchor="end" fill="#222" font-weight="normal">40</text>
<line x1="204.70" y1="592.05" x2="209.20" y2="592.05" stroke="#1a1a1a" stroke-width="1.1"/>
<text x="203.10" y="595.32" font-size="9.2" text-anchor="end" fill="#222" font-weight="normal">60</text>
<line x1="204.70" y1="566.10" x2="209.20" y2="566.10" stroke="#1a1a1a" stroke-width="1.1"/>
<text x="203.10" y="569.37" font-size="9.2" text-anchor="end" fill="#222" font-weight="normal">80</text>
<line x1="208.65" y1="669.90" x2="309.50" y2="669.90" stroke="#1a1a1a" stroke-width="1.1"/>
<text transform="translate(186.80,617.50) rotate(-90)" font-size="8.8" text-anchor="middle" fill="#222" font-weight="normal">% in CD3+ cells</text>
<line x1="236.00" y1="669.90" x2="236.00" y2="673.90" stroke="#1a1a1a" stroke-width="1.1"/>
<text x="236.00" y="683.20" font-size="8.8" text-anchor="middle" fill="#222" font-weight="normal">CD4<tspan font-size="4.6" dy="-3.2">+</tspan></text>
<rect x="216.70" y="592.70" width="6.90" height="77.20" fill="#f0aab2" stroke="none" stroke-width="0"/>
<line x1="220.15" y1="575.00" x2="220.15" y2="612.00" stroke="#ec4a5a" stroke-width="1.0"/>
<line x1="217.85" y1="575.00" x2="222.45" y2="575.00" stroke="#ec4a5a" stroke-width="1.0"/>
<line x1="217.85" y1="612.00" x2="222.45" y2="612.00" stroke="#ec4a5a" stroke-width="1.0"/>
<circle cx="219.90" cy="573.80" r="2.1" fill="#fff" stroke="#ec4a5a" stroke-width="1.0"/>
<circle cx="219.90" cy="580.20" r="2.1" fill="#fff" stroke="#ec4a5a" stroke-width="1.0"/>
<circle cx="216.70" cy="608.10" r="2.1" fill="#fff" stroke="#ec4a5a" stroke-width="1.0"/>
<circle cx="219.90" cy="608.10" r="2.1" fill="#fff" stroke="#ec4a5a" stroke-width="1.0"/>
<circle cx="223.10" cy="608.10" r="2.1" fill="#fff" stroke="#ec4a5a" stroke-width="1.0"/>
<rect x="232.30" y="594.64" width="6.90" height="75.25" fill="#aecbfa" stroke="none" stroke-width="0"/>
<line x1="235.75" y1="577.00" x2="235.75" y2="613.00" stroke="#4f86ee" stroke-width="1.0"/>
<line x1="233.45" y1="577.00" x2="238.05" y2="577.00" stroke="#4f86ee" stroke-width="1.0"/>
<line x1="233.45" y1="613.00" x2="238.05" y2="613.00" stroke="#4f86ee" stroke-width="1.0"/>
<circle cx="236.00" cy="577.50" r="2.1" fill="#fff" stroke="#4f86ee" stroke-width="1.0"/>
<circle cx="236.00" cy="582.40" r="2.1" fill="#fff" stroke="#4f86ee" stroke-width="1.0"/>
<circle cx="236.00" cy="606.30" r="2.1" fill="#fff" stroke="#4f86ee" stroke-width="1.0"/>
<circle cx="236.00" cy="612.30" r="2.1" fill="#fff" stroke="#4f86ee" stroke-width="1.0"/>
<rect x="248.20" y="599.84" width="7.00" height="70.06" fill="#f0e49a" stroke="none" stroke-width="0"/>
<line x1="251.70" y1="582.00" x2="251.70" y2="615.00" stroke="#ecc43a" stroke-width="1.0"/>
<line x1="249.40" y1="582.00" x2="254.00" y2="582.00" stroke="#ecc43a" stroke-width="1.0"/>
<line x1="249.40" y1="615.00" x2="254.00" y2="615.00" stroke="#ecc43a" stroke-width="1.0"/>
<circle cx="251.60" cy="582.20" r="2.1" fill="#fff" stroke="#ecc43a" stroke-width="1.0"/>
<circle cx="251.60" cy="589.70" r="2.1" fill="#fff" stroke="#ecc43a" stroke-width="1.0"/>
<circle cx="248.40" cy="613.20" r="2.1" fill="#fff" stroke="#ecc43a" stroke-width="1.0"/>
<circle cx="255.20" cy="611.70" r="2.1" fill="#fff" stroke="#ecc43a" stroke-width="1.0"/>
<circle cx="251.60" cy="613.20" r="2.1" fill="#fff" stroke="#ecc43a" stroke-width="1.0"/>
<line x1="285.80" y1="669.90" x2="285.80" y2="673.90" stroke="#1a1a1a" stroke-width="1.1"/>
<text x="285.80" y="683.20" font-size="8.8" text-anchor="middle" fill="#222" font-weight="normal">CD8<tspan font-size="4.6" dy="-3.2">+</tspan></text>
<rect x="266.60" y="629.68" width="6.80" height="40.22" fill="#f0aab2" stroke="none" stroke-width="0"/>
<line x1="270.00" y1="611.70" x2="270.00" y2="645.00" stroke="#ec4a5a" stroke-width="1.0"/>
<line x1="267.70" y1="611.70" x2="272.30" y2="611.70" stroke="#ec4a5a" stroke-width="1.0"/>
<line x1="267.70" y1="645.00" x2="272.30" y2="645.00" stroke="#ec4a5a" stroke-width="1.0"/>
<circle cx="270.20" cy="607.40" r="2.1" fill="#fff" stroke="#ec4a5a" stroke-width="1.0"/>
<circle cx="270.20" cy="622.40" r="2.1" fill="#fff" stroke="#ec4a5a" stroke-width="1.0"/>
<circle cx="270.20" cy="640.20" r="2.1" fill="#fff" stroke="#ec4a5a" stroke-width="1.0"/>
<circle cx="270.20" cy="648.00" r="2.1" fill="#fff" stroke="#ec4a5a" stroke-width="1.0"/>
<rect x="282.40" y="631.62" width="7.10" height="38.28" fill="#aecbfa" stroke="none" stroke-width="0"/>
<line x1="285.95" y1="613.50" x2="285.95" y2="648.00" stroke="#4f86ee" stroke-width="1.0"/>
<line x1="283.65" y1="613.50" x2="288.25" y2="613.50" stroke="#4f86ee" stroke-width="1.0"/>
<line x1="283.65" y1="648.00" x2="288.25" y2="648.00" stroke="#4f86ee" stroke-width="1.0"/>
<circle cx="285.80" cy="613.80" r="2.1" fill="#fff" stroke="#4f86ee" stroke-width="1.0"/>
<circle cx="285.80" cy="623.50" r="2.1" fill="#fff" stroke="#4f86ee" stroke-width="1.0"/>
<circle cx="285.80" cy="640.20" r="2.1" fill="#fff" stroke="#4f86ee" stroke-width="1.0"/>
<circle cx="285.80" cy="648.70" r="2.1" fill="#fff" stroke="#4f86ee" stroke-width="1.0"/>
<rect x="298.50" y="626.43" width="6.80" height="43.47" fill="#f0e49a" stroke="none" stroke-width="0"/>
<line x1="301.90" y1="611.00" x2="301.90" y2="644.00" stroke="#ecc43a" stroke-width="1.0"/>
<line x1="299.60" y1="611.00" x2="304.20" y2="611.00" stroke="#ecc43a" stroke-width="1.0"/>
<line x1="299.60" y1="644.00" x2="304.20" y2="644.00" stroke="#ecc43a" stroke-width="1.0"/>
<circle cx="298.70" cy="613.80" r="2.1" fill="#fff" stroke="#ecc43a" stroke-width="1.0"/>
<circle cx="305.10" cy="610.20" r="2.1" fill="#fff" stroke="#ecc43a" stroke-width="1.0"/>
<circle cx="301.70" cy="635.90" r="2.1" fill="#fff" stroke="#ecc43a" stroke-width="1.0"/>
<circle cx="301.70" cy="644.90" r="2.1" fill="#fff" stroke="#ecc43a" stroke-width="1.0"/>
<line x1="237.00" y1="572.10" x2="254.60" y2="572.10" stroke="#333" stroke-width="1.0"/>
<text x="245.80" y="570.10" font-size="8.4" text-anchor="middle" fill="#222" font-weight="normal">ns</text>
<line x1="284.00" y1="602.00" x2="301.20" y2="602.00" stroke="#333" stroke-width="1.0"/>
<text x="292.60" y="600.00" font-size="8.4" text-anchor="middle" fill="#222" font-weight="normal">ns</text>
<line x1="367.00" y1="565.90" x2="367.00" y2="670.15" stroke="#1a1a1a" stroke-width="1.1"/>
<line x1="362.50" y1="669.60" x2="367.00" y2="669.60" stroke="#1a1a1a" stroke-width="1.1"/>
<text x="360.90" y="672.87" font-size="9.2" text-anchor="end" fill="#222" font-weight="normal">0</text>
<line x1="362.50" y1="643.80" x2="367.00" y2="643.80" stroke="#1a1a1a" stroke-width="1.1"/>
<text x="360.90" y="647.07" font-size="9.2" text-anchor="end" fill="#222" font-weight="normal">20</text>
<line x1="362.50" y1="618.00" x2="367.00" y2="618.00" stroke="#1a1a1a" stroke-width="1.1"/>
<text x="360.90" y="621.27" font-size="9.2" text-anchor="end" fill="#222" font-weight="normal">40</text>
<line x1="362.50" y1="592.20" x2="367.00" y2="592.20" stroke="#1a1a1a" stroke-width="1.1"/>
<text x="360.90" y="595.47" font-size="9.2" text-anchor="end" fill="#222" font-weight="normal">60</text>
<line x1="362.50" y1="566.40" x2="367.00" y2="566.40" stroke="#1a1a1a" stroke-width="1.1"/>
<text x="360.90" y="569.67" font-size="9.2" text-anchor="end" fill="#222" font-weight="normal">80</text>
<line x1="366.45" y1="669.60" x2="469.70" y2="669.60" stroke="#1a1a1a" stroke-width="1.1"/>
<text transform="translate(344.20,617.50) rotate(-90)" font-size="8.8" text-anchor="middle" fill="#222" font-weight="normal">% in CD3+ cells</text>
<line x1="384.70" y1="669.60" x2="384.70" y2="673.60" stroke="#1a1a1a" stroke-width="1.1"/>
<text x="384.70" y="683.20" font-size="8.8" text-anchor="middle" fill="#222" font-weight="normal">Tnaïve</text>
<rect x="370.80" y="651.54" width="6.30" height="18.06" fill="#f0aab2" stroke="none" stroke-width="0"/>
<line x1="373.95" y1="637.40" x2="373.95" y2="666.00" stroke="#ec4a5a" stroke-width="1.0"/>
<line x1="371.65" y1="637.40" x2="376.25" y2="637.40" stroke="#ec4a5a" stroke-width="1.0"/>
<line x1="371.65" y1="666.00" x2="376.25" y2="666.00" stroke="#ec4a5a" stroke-width="1.0"/>
<circle cx="373.30" cy="631.10" r="2.1" fill="#fff" stroke="#ec4a5a" stroke-width="1.0"/>
<circle cx="371.30" cy="652.60" r="2.1" fill="#fff" stroke="#ec4a5a" stroke-width="1.0"/>
<circle cx="375.30" cy="655.20" r="2.1" fill="#fff" stroke="#ec4a5a" stroke-width="1.0"/>
<circle cx="373.80" cy="661.00" r="2.1" fill="#fff" stroke="#ec4a5a" stroke-width="1.0"/>
<rect x="381.40" y="660.57" width="5.90" height="9.03" fill="#aecbfa" stroke="none" stroke-width="0"/>
<line x1="384.35" y1="650.80" x2="384.35" y2="669.00" stroke="#4f86ee" stroke-width="1.0"/>
<line x1="382.05" y1="650.80" x2="386.65" y2="650.80" stroke="#4f86ee" stroke-width="1.0"/>
<line x1="382.05" y1="669.00" x2="386.65" y2="669.00" stroke="#4f86ee" stroke-width="1.0"/>
<circle cx="384.20" cy="647.00" r="2.1" fill="#fff" stroke="#4f86ee" stroke-width="1.0"/>
<circle cx="384.20" cy="661.50" r="2.1" fill="#fff" stroke="#4f86ee" stroke-width="1.0"/>
<circle cx="382.20" cy="664.50" r="2.1" fill="#fff" stroke="#4f86ee" stroke-width="1.0"/>
<circle cx="385.50" cy="662.80" r="2.1" fill="#fff" stroke="#4f86ee" stroke-width="1.0"/>
<rect x="392.30" y="648.96" width="5.90" height="20.64" fill="#f0e49a" stroke="none" stroke-width="0"/>
<line x1="395.25" y1="625.50" x2="395.25" y2="664.00" stroke="#ecc43a" stroke-width="1.0"/>
<line x1="392.95" y1="625.50" x2="397.55" y2="625.50" stroke="#ecc43a" stroke-width="1.0"/>
<line x1="392.95" y1="664.00" x2="397.55" y2="664.00" stroke="#ecc43a" stroke-width="1.0"/>
<circle cx="394.90" cy="617.90" r="2.1" fill="#fff" stroke="#ecc43a" stroke-width="1.0"/>
<circle cx="393.10" cy="648.30" r="2.1" fill="#fff" stroke="#ecc43a" stroke-width="1.0"/>
<circle cx="396.60" cy="648.80" r="2.1" fill="#fff" stroke="#ecc43a" stroke-width="1.0"/>
<circle cx="394.90" cy="663.50" r="2.1" fill="#fff" stroke="#ecc43a" stroke-width="1.0"/>
<line x1="420.20" y1="669.60" x2="420.20" y2="673.60" stroke="#1a1a1a" stroke-width="1.1"/>
<text x="420.20" y="683.20" font-size="8.8" text-anchor="middle" fill="#222" font-weight="normal">T<tspan font-size="7.0">CM</tspan></text>
<rect x="404.20" y="612.84" width="5.90" height="56.76" fill="#f0aab2" stroke="none" stroke-width="0"/>
<line x1="407.15" y1="597.30" x2="407.15" y2="628.50" stroke="#ec4a5a" stroke-width="1.0"/>
<line x1="404.85" y1="597.30" x2="409.45" y2="597.30" stroke="#ec4a5a" stroke-width="1.0"/>
<line x1="404.85" y1="628.50" x2="409.45" y2="628.50" stroke="#ec4a5a" stroke-width="1.0"/>
<circle cx="406.80" cy="589.20" r="2.1" fill="#fff" stroke="#ec4a5a" stroke-width="1.0"/>
<circle cx="405.80" cy="617.10" r="2.1" fill="#fff" stroke="#ec4a5a" stroke-width="1.0"/>
<circle cx="403.70" cy="621.40" r="2.1" fill="#fff" stroke="#ec4a5a" stroke-width="1.0"/>
<circle cx="408.80" cy="621.40" r="2.1" fill="#fff" stroke="#ec4a5a" stroke-width="1.0"/>
<rect x="414.60" y="607.03" width="6.40" height="62.57" fill="#aecbfa" stroke="none" stroke-width="0"/>
<line x1="417.80" y1="590.00" x2="417.80" y2="628.00" stroke="#4f86ee" stroke-width="1.0"/>
<line x1="415.50" y1="590.00" x2="420.10" y2="590.00" stroke="#4f86ee" stroke-width="1.0"/>
<line x1="415.50" y1="628.00" x2="420.10" y2="628.00" stroke="#4f86ee" stroke-width="1.0"/>
<circle cx="417.70" cy="587.50" r="2.1" fill="#fff" stroke="#4f86ee" stroke-width="1.0"/>
<circle cx="417.70" cy="592.50" r="2.1" fill="#fff" stroke="#4f86ee" stroke-width="1.0"/>
<circle cx="417.70" cy="620.40" r="2.1" fill="#fff" stroke="#4f86ee" stroke-width="1.0"/>
<circle cx="417.70" cy="626.00" r="2.1" fill="#fff" stroke="#4f86ee" stroke-width="1.0"/>
<rect x="425.30" y="621.87" width="5.80" height="47.73" fill="#f0e49a" stroke="none" stroke-width="0"/>
<line x1="428.20" y1="595.10" x2="428.20" y2="640.00" stroke="#ecc43a" stroke-width="1.0"/>
<line x1="425.90" y1="595.10" x2="430.50" y2="595.10" stroke="#ecc43a" stroke-width="1.0"/>
<line x1="425.90" y1="640.00" x2="430.50" y2="640.00" stroke="#ecc43a" stroke-width="1.0"/>
<circle cx="428.30" cy="589.20" r="2.1" fill="#fff" stroke="#ecc43a" stroke-width="1.0"/>
<circle cx="426.60" cy="620.40" r="2.1" fill="#fff" stroke="#ecc43a" stroke-width="1.0"/>
<circle cx="430.40" cy="623.00" r="2.1" fill="#fff" stroke="#ecc43a" stroke-width="1.0"/>
<circle cx="428.30" cy="650.60" r="2.1" fill="#fff" stroke="#ecc43a" stroke-width="1.0"/>
<line x1="452.00" y1="669.60" x2="452.00" y2="673.60" stroke="#1a1a1a" stroke-width="1.1"/>
<text x="452.00" y="683.20" font-size="8.8" text-anchor="middle" fill="#222" font-weight="normal">T<tspan font-size="7.0">EM</tspan></text>
<rect x="438.00" y="632.19" width="5.80" height="37.41" fill="#f0aab2" stroke="none" stroke-width="0"/>
<line x1="440.90" y1="615.30" x2="440.90" y2="643.50" stroke="#ec4a5a" stroke-width="1.0"/>
<line x1="438.60" y1="615.30" x2="443.20" y2="615.30" stroke="#ec4a5a" stroke-width="1.0"/>
<line x1="438.60" y1="643.50" x2="443.20" y2="643.50" stroke="#ec4a5a" stroke-width="1.0"/>
<circle cx="440.50" cy="615.30" r="2.1" fill="#fff" stroke="#ec4a5a" stroke-width="1.0"/>
<circle cx="440.50" cy="624.70" r="2.1" fill="#fff" stroke="#ec4a5a" stroke-width="1.0"/>
<circle cx="438.70" cy="643.20" r="2.1" fill="#fff" stroke="#ec4a5a" stroke-width="1.0"/>
<circle cx="442.30" cy="643.20" r="2.1" fill="#fff" stroke="#ec4a5a" stroke-width="1.0"/>
<rect x="448.60" y="633.48" width="5.90" height="36.12" fill="#aecbfa" stroke="none" stroke-width="0"/>
<line x1="451.55" y1="616.40" x2="451.55" y2="642.00" stroke="#4f86ee" stroke-width="1.0"/>
<line x1="449.25" y1="616.40" x2="453.85" y2="616.40" stroke="#4f86ee" stroke-width="1.0"/>
<line x1="449.25" y1="642.00" x2="453.85" y2="642.00" stroke="#4f86ee" stroke-width="1.0"/>
<circle cx="451.40" cy="610.80" r="2.1" fill="#fff" stroke="#4f86ee" stroke-width="1.0"/>
<circle cx="451.40" cy="630.60" r="2.1" fill="#fff" stroke="#4f86ee" stroke-width="1.0"/>
<circle cx="449.40" cy="641.20" r="2.1" fill="#fff" stroke="#4f86ee" stroke-width="1.0"/>
<circle cx="453.20" cy="641.20" r="2.1" fill="#fff" stroke="#4f86ee" stroke-width="1.0"/>
<rect x="459.00" y="634.77" width="6.10" height="34.83" fill="#f0e49a" stroke="none" stroke-width="0"/>
<line x1="462.05" y1="611.00" x2="462.05" y2="652.00" stroke="#ecc43a" stroke-width="1.0"/>
<line x1="459.75" y1="611.00" x2="464.35" y2="611.00" stroke="#ecc43a" stroke-width="1.0"/>
<line x1="459.75" y1="652.00" x2="464.35" y2="652.00" stroke="#ecc43a" stroke-width="1.0"/>
<circle cx="462.10" cy="610.30" r="2.1" fill="#fff" stroke="#ecc43a" stroke-width="1.0"/>
<circle cx="462.10" cy="622.20" r="2.1" fill="#fff" stroke="#ecc43a" stroke-width="1.0"/>
<circle cx="462.10" cy="648.30" r="2.1" fill="#fff" stroke="#ecc43a" stroke-width="1.0"/>
<circle cx="462.10" cy="658.40" r="2.1" fill="#fff" stroke="#ecc43a" stroke-width="1.0"/>
<line x1="382.20" y1="611.30" x2="395.60" y2="611.30" stroke="#333" stroke-width="1.0"/>
<text x="388.90" y="609.30" font-size="8.4" text-anchor="middle" fill="#222" font-weight="normal">ns</text>
<line x1="416.40" y1="579.80" x2="429.60" y2="579.80" stroke="#333" stroke-width="1.0"/>
<text x="423.00" y="577.80" font-size="8.4" text-anchor="middle" fill="#222" font-weight="normal">ns</text>
<line x1="449.40" y1="601.90" x2="462.60" y2="601.90" stroke="#333" stroke-width="1.0"/>
<text x="456.00" y="599.90" font-size="8.4" text-anchor="middle" fill="#222" font-weight="normal">ns</text>
<line x1="526.90" y1="566.10" x2="526.90" y2="670.55" stroke="#1a1a1a" stroke-width="1.1"/>
<line x1="522.40" y1="670.00" x2="526.90" y2="670.00" stroke="#1a1a1a" stroke-width="1.1"/>
<text x="520.80" y="673.27" font-size="9.2" text-anchor="end" fill="#222" font-weight="normal">0</text>
<line x1="522.40" y1="618.30" x2="526.90" y2="618.30" stroke="#1a1a1a" stroke-width="1.1"/>
<text x="520.80" y="621.57" font-size="9.2" text-anchor="end" fill="#222" font-weight="normal">5</text>
<line x1="522.40" y1="566.60" x2="526.90" y2="566.60" stroke="#1a1a1a" stroke-width="1.1"/>
<text x="520.80" y="569.87" font-size="9.2" text-anchor="end" fill="#222" font-weight="normal">10</text>
<line x1="526.35" y1="670.00" x2="628.80" y2="670.00" stroke="#1a1a1a" stroke-width="1.1"/>
<text transform="translate(509.00,617.50) rotate(-90)" font-size="8.8" text-anchor="middle" fill="#222" font-weight="normal">% in CD3+ cells</text>
<line x1="545.50" y1="670.00" x2="545.50" y2="674.00" stroke="#1a1a1a" stroke-width="1.1"/>
<text x="545.50" y="683.20" font-size="8.8" text-anchor="middle" fill="#222" font-weight="normal">PD1</text>
<rect x="530.60" y="625.54" width="6.20" height="44.46" fill="#f0aab2" stroke="none" stroke-width="0"/>
<circle cx="531.50" cy="625.50" r="2.1" fill="#fff" stroke="#ec4a5a" stroke-width="1.0"/>
<circle cx="533.80" cy="623.00" r="2.1" fill="#fff" stroke="#ec4a5a" stroke-width="1.0"/>
<circle cx="536.20" cy="625.50" r="2.1" fill="#fff" stroke="#ec4a5a" stroke-width="1.0"/>
<circle cx="533.80" cy="627.20" r="2.1" fill="#fff" stroke="#ec4a5a" stroke-width="1.0"/>
<rect x="540.50" y="613.13" width="6.70" height="56.87" fill="#aecbfa" stroke="none" stroke-width="0"/>
<circle cx="545.50" cy="608.20" r="2.1" fill="#fff" stroke="#4f86ee" stroke-width="1.0"/>
<circle cx="542.20" cy="611.40" r="2.1" fill="#fff" stroke="#4f86ee" stroke-width="1.0"/>
<circle cx="545.50" cy="616.30" r="2.1" fill="#fff" stroke="#4f86ee" stroke-width="1.0"/>
<circle cx="542.20" cy="615.60" r="2.1" fill="#fff" stroke="#4f86ee" stroke-width="1.0"/>
<rect x="551.60" y="614.16" width="6.20" height="55.84" fill="#f0e49a" stroke="none" stroke-width="0"/>
<circle cx="556.60" cy="607.40" r="2.1" fill="#fff" stroke="#ecc43a" stroke-width="1.0"/>
<circle cx="553.60" cy="611.40" r="2.1" fill="#fff" stroke="#ecc43a" stroke-width="1.0"/>
<circle cx="556.60" cy="614.30" r="2.1" fill="#fff" stroke="#ecc43a" stroke-width="1.0"/>
<circle cx="553.60" cy="616.80" r="2.1" fill="#fff" stroke="#ecc43a" stroke-width="1.0"/>
<line x1="577.60" y1="670.00" x2="577.60" y2="674.00" stroke="#1a1a1a" stroke-width="1.1"/>
<text x="577.60" y="683.20" font-size="8.8" text-anchor="middle" fill="#222" font-weight="normal">TIM3</text>
<rect x="563.50" y="611.06" width="6.20" height="58.94" fill="#f0aab2" stroke="none" stroke-width="0"/>
<circle cx="567.00" cy="599.50" r="2.1" fill="#fff" stroke="#ec4a5a" stroke-width="1.0"/>
<circle cx="567.00" cy="606.40" r="2.1" fill="#fff" stroke="#ec4a5a" stroke-width="1.0"/>
<circle cx="565.20" cy="618.80" r="2.1" fill="#fff" stroke="#ec4a5a" stroke-width="1.0"/>
<circle cx="568.40" cy="615.60" r="2.1" fill="#fff" stroke="#ec4a5a" stroke-width="1.0"/>
<rect x="574.40" y="614.68" width="6.20" height="55.32" fill="#aecbfa" stroke="none" stroke-width="0"/>
<line x1="577.50" y1="594.00" x2="577.50" y2="634.10" stroke="#4f86ee" stroke-width="1.0"/>
<line x1="575.20" y1="594.00" x2="579.80" y2="594.00" stroke="#4f86ee" stroke-width="1.0"/>
<line x1="575.20" y1="634.10" x2="579.80" y2="634.10" stroke="#4f86ee" stroke-width="1.0"/>
<circle cx="575.90" cy="597.80" r="2.1" fill="#fff" stroke="#4f86ee" stroke-width="1.0"/>
<circle cx="578.80" cy="597.00" r="2.1" fill="#fff" stroke="#4f86ee" stroke-width="1.0"/>
<circle cx="577.60" cy="619.80" r="2.1" fill="#fff" stroke="#4f86ee" stroke-width="1.0"/>
<circle cx="577.60" cy="641.00" r="2.1" fill="#fff" stroke="#4f86ee" stroke-width="1.0"/>
<rect x="585.00" y="594.52" width="6.20" height="75.48" fill="#f0e49a" stroke="none" stroke-width="0"/>
<circle cx="588.20" cy="586.60" r="2.1" fill="#fff" stroke="#ecc43a" stroke-width="1.0"/>
<circle cx="586.20" cy="593.30" r="2.1" fill="#fff" stroke="#ecc43a" stroke-width="1.0"/>
<circle cx="590.00" cy="594.60" r="2.1" fill="#fff" stroke="#ecc43a" stroke-width="1.0"/>
<circle cx="587.50" cy="597.00" r="2.1" fill="#fff" stroke="#ecc43a" stroke-width="1.0"/>
<line x1="613.40" y1="670.00" x2="613.40" y2="674.00" stroke="#1a1a1a" stroke-width="1.1"/>
<text x="613.40" y="683.20" font-size="8.8" text-anchor="middle" fill="#222" font-weight="normal">LAG3</text>
<rect x="596.60" y="629.67" width="6.40" height="40.33" fill="#f0aab2" stroke="none" stroke-width="0"/>
<circle cx="598.60" cy="626.70" r="2.1" fill="#fff" stroke="#ec4a5a" stroke-width="1.0"/>
<circle cx="602.30" cy="626.70" r="2.1" fill="#fff" stroke="#ec4a5a" stroke-width="1.0"/>
<circle cx="600.60" cy="630.40" r="2.1" fill="#fff" stroke="#ec4a5a" stroke-width="1.0"/>
<circle cx="600.60" cy="635.30" r="2.1" fill="#fff" stroke="#ec4a5a" stroke-width="1.0"/>
<rect x="607.80" y="624.50" width="6.40" height="45.50" fill="#aecbfa" stroke="none" stroke-width="0"/>
<line x1="611.00" y1="594.60" x2="611.00" y2="648.40" stroke="#4f86ee" stroke-width="1.0"/>
<line x1="608.70" y1="594.60" x2="613.30" y2="594.60" stroke="#4f86ee" stroke-width="1.0"/>
<line x1="608.70" y1="648.40" x2="613.30" y2="648.40" stroke="#4f86ee" stroke-width="1.0"/>
<circle cx="611.00" cy="595.80" r="2.1" fill="#fff" stroke="#4f86ee" stroke-width="1.0"/>
<circle cx="611.00" cy="609.90" r="2.1" fill="#fff" stroke="#4f86ee" stroke-width="1.0"/>
<circle cx="609.70" cy="646.00" r="2.1" fill="#fff" stroke="#4f86ee" stroke-width="1.0"/>
<circle cx="613.00" cy="644.00" r="2.1" fill="#fff" stroke="#4f86ee" stroke-width="1.0"/>
<rect x="618.90" y="597.62" width="6.10" height="72.38" fill="#f0e49a" stroke="none" stroke-width="0"/>
<circle cx="622.10" cy="587.10" r="2.1" fill="#fff" stroke="#ecc43a" stroke-width="1.0"/>
<circle cx="622.10" cy="594.00" r="2.1" fill="#fff" stroke="#ecc43a" stroke-width="1.0"/>
<circle cx="622.10" cy="599.50" r="2.1" fill="#fff" stroke="#ecc43a" stroke-width="1.0"/>
<circle cx="622.10" cy="605.70" r="2.1" fill="#fff" stroke="#ecc43a" stroke-width="1.0"/>
<line x1="542.20" y1="601.50" x2="555.30" y2="601.50" stroke="#333" stroke-width="1.0"/>
<text x="548.75" y="599.50" font-size="8.4" text-anchor="middle" fill="#222" font-weight="normal">ns</text>
<line x1="575.90" y1="579.70" x2="588.20" y2="579.70" stroke="#333" stroke-width="1.0"/>
<text x="582.05" y="577.70" font-size="8.4" text-anchor="middle" fill="#222" font-weight="normal">ns</text>
<line x1="610.50" y1="579.70" x2="623.30" y2="579.70" stroke="#333" stroke-width="1.0"/>
<text x="616.90" y="577.70" font-size="8.4" text-anchor="middle" fill="#222" font-weight="normal">ns</text>
<path d="M355.50,503.20 L357.56,503.06 L360.47,503.20 L363.10,503.18 L364.99,502.91 L366.59,502.52 L368.20,502.68 L369.90,502.54 L371.61,502.25 L373.30,502.20 L374.92,502.10 L376.53,502.09 L378.30,502.42 L380.38,502.61 L382.61,502.35 L384.70,502.88 L385.94,502.73 L387.03,502.97 L389.80,503.03 L395.97,503.20 L403.83,503.20 L410.00,503.20 L412.92,503.19 L414.17,502.57 L415.10,502.40 L416.13,502.18 L416.84,501.56 L417.40,501.27 L417.80,499.77 L418.05,498.09 L418.30,496.09 L418.60,492.33 L418.89,488.62 L419.20,483.17 L419.53,476.53 L419.87,468.73 L420.20,461.69 L420.52,455.25 L420.83,449.45 L421.10,445.42 L421.29,441.80 L421.43,440.07 L421.60,439.13 L421.81,440.48 L422.05,442.79 L422.30,446.65 L422.56,452.72 L422.82,460.26 L423.10,468.14 L423.40,475.74 L423.72,484.07 L424.00,491.00 L424.22,495.25 L424.41,498.91 L424.60,501.23 L424.75,502.38 L424.90,502.92 L425.20,503.20 L425.84,503.20 L426.63,503.20 L427.20,503.20" stroke="#1a1a1a" fill="none" stroke-width="0.85"/>
<rect x="355.20" y="432.30" width="72.30" height="71.00" fill="none" stroke="#222" stroke-width="0.9"/>
<line x1="352.60" y1="503.00" x2="355.20" y2="503.00" stroke="#333" stroke-width="0.8"/>
<line x1="353.90" y1="499.66" x2="355.20" y2="499.66" stroke="#333" stroke-width="0.5"/>
<line x1="353.90" y1="496.32" x2="355.20" y2="496.32" stroke="#333" stroke-width="0.5"/>
<line x1="353.90" y1="492.98" x2="355.20" y2="492.98" stroke="#333" stroke-width="0.5"/>
<line x1="352.60" y1="489.64" x2="355.20" y2="489.64" stroke="#333" stroke-width="0.8"/>
<line x1="353.90" y1="486.30" x2="355.20" y2="486.30" stroke="#333" stroke-width="0.5"/>
<line x1="353.90" y1="482.96" x2="355.20" y2="482.96" stroke="#333" stroke-width="0.5"/>
<line x1="353.90" y1="479.62" x2="355.20" y2="479.62" stroke="#333" stroke-width="0.5"/>
<line x1="352.60" y1="476.28" x2="355.20" y2="476.28" stroke="#333" stroke-width="0.8"/>
<line x1="353.90" y1="472.94" x2="355.20" y2="472.94" stroke="#333" stroke-width="0.5"/>
<line x1="353.90" y1="469.60" x2="355.20" y2="469.60" stroke="#333" stroke-width="0.5"/>
<line x1="353.90" y1="466.26" x2="355.20" y2="466.26" stroke="#333" stroke-width="0.5"/>
<line x1="352.60" y1="462.92" x2="355.20" y2="462.92" stroke="#333" stroke-width="0.8"/>
<line x1="353.90" y1="459.58" x2="355.20" y2="459.58" stroke="#333" stroke-width="0.5"/>
<line x1="353.90" y1="456.24" x2="355.20" y2="456.24" stroke="#333" stroke-width="0.5"/>
<line x1="353.90" y1="452.90" x2="355.20" y2="452.90" stroke="#333" stroke-width="0.5"/>
<line x1="352.60" y1="449.56" x2="355.20" y2="449.56" stroke="#333" stroke-width="0.8"/>
<line x1="353.90" y1="446.22" x2="355.20" y2="446.22" stroke="#333" stroke-width="0.5"/>
<line x1="353.90" y1="442.88" x2="355.20" y2="442.88" stroke="#333" stroke-width="0.5"/>
<line x1="353.90" y1="439.54" x2="355.20" y2="439.54" stroke="#333" stroke-width="0.5"/>
<line x1="352.60" y1="436.20" x2="355.20" y2="436.20" stroke="#333" stroke-width="0.8"/>
<text x="353.43" y="511.80" font-size="7.5" text-anchor="start" fill="#222" font-weight="normal">10<tspan font-size="4.6" dy="-2.8">2</tspan></text>
<text x="383.73" y="511.80" font-size="7.5" text-anchor="start" fill="#222" font-weight="normal">10<tspan font-size="4.6" dy="-2.8">4</tspan></text>
<text x="419.03" y="511.80" font-size="7.5" text-anchor="start" fill="#222" font-weight="normal">10<tspan font-size="4.6" dy="-2.8">7.2</tspan></text>
<line x1="359.20" y1="503.30" x2="359.20" y2="505.50" stroke="#333" stroke-width="0.8"/>
<line x1="388.20" y1="503.30" x2="388.20" y2="505.50" stroke="#333" stroke-width="0.8"/>
<line x1="427.50" y1="503.30" x2="427.50" y2="505.50" stroke="#333" stroke-width="0.8"/>
<line x1="362.99" y1="503.30" x2="362.99" y2="504.50" stroke="#333" stroke-width="0.5"/>
<line x1="366.79" y1="503.30" x2="366.79" y2="504.50" stroke="#333" stroke-width="0.5"/>
<line x1="370.58" y1="503.30" x2="370.58" y2="504.50" stroke="#333" stroke-width="0.5"/>
<line x1="374.38" y1="503.30" x2="374.38" y2="504.50" stroke="#333" stroke-width="0.5"/>
<line x1="378.17" y1="503.30" x2="378.17" y2="504.50" stroke="#333" stroke-width="0.5"/>
<line x1="381.97" y1="503.30" x2="381.97" y2="504.50" stroke="#333" stroke-width="0.5"/>
<line x1="385.76" y1="503.30" x2="385.76" y2="504.50" stroke="#333" stroke-width="0.5"/>
<line x1="389.56" y1="503.30" x2="389.56" y2="504.50" stroke="#333" stroke-width="0.5"/>
<line x1="393.35" y1="503.30" x2="393.35" y2="504.50" stroke="#333" stroke-width="0.5"/>
<line x1="397.14" y1="503.30" x2="397.14" y2="504.50" stroke="#333" stroke-width="0.5"/>
<line x1="400.94" y1="503.30" x2="400.94" y2="504.50" stroke="#333" stroke-width="0.5"/>
<line x1="404.73" y1="503.30" x2="404.73" y2="504.50" stroke="#333" stroke-width="0.5"/>
<line x1="408.53" y1="503.30" x2="408.53" y2="504.50" stroke="#333" stroke-width="0.5"/>
<line x1="412.32" y1="503.30" x2="412.32" y2="504.50" stroke="#333" stroke-width="0.5"/>
<line x1="416.12" y1="503.30" x2="416.12" y2="504.50" stroke="#333" stroke-width="0.5"/>
<line x1="419.91" y1="503.30" x2="419.91" y2="504.50" stroke="#333" stroke-width="0.5"/>
<line x1="423.71" y1="503.30" x2="423.71" y2="504.50" stroke="#333" stroke-width="0.5"/>
<path d="M441.30,503.20 L443.41,503.20 L446.37,503.00 L448.90,502.61 L450.45,502.51 L451.57,501.10 L452.70,500.07 L454.01,499.32 L455.33,498.00 L456.50,497.43 L457.40,496.49 L458.16,496.61 L459.00,496.09 L460.02,496.44 L461.11,497.00 L462.20,497.01 L463.26,496.91 L464.31,496.33 L465.30,495.43 L466.24,495.41 L467.13,494.65 L467.90,493.89 L468.48,493.05 L468.93,492.67 L469.40,492.15 L469.91,492.67 L470.43,493.29 L471.00,494.28 L471.62,494.97 L472.28,496.12 L473.00,497.27 L473.80,498.53 L474.65,500.56 L475.50,501.49 L475.86,502.60 L476.23,503.20 L478.00,503.20 L482.57,503.20 L488.55,503.20 L493.20,503.20 L495.16,501.75 L495.78,499.77 L496.40,498.42 L497.44,497.11 L498.49,496.90 L499.60,495.90 L500.89,495.13 L502.25,494.28 L503.40,493.50 L504.21,492.67 L504.81,491.18 L505.30,489.52 L505.68,487.20 L505.95,484.02 L506.20,480.76 L506.44,477.01 L506.66,472.80 L506.90,468.10 L507.20,461.81 L507.51,454.63 L507.80,449.30 L508.01,444.27 L508.19,440.71 L508.40,439.24 L508.67,440.91 L508.98,444.44 L509.30,449.01 L509.62,455.36 L509.96,462.91 L510.30,470.84 L510.67,477.21 L511.05,483.95 L511.40,489.51 L511.69,494.20 L511.95,498.07 L512.20,500.81 L512.47,502.25 L512.72,503.06 L512.90,503.20" stroke="#1a1a1a" fill="none" stroke-width="0.85"/>
<rect x="441.20" y="432.30" width="72.30" height="71.00" fill="none" stroke="#222" stroke-width="0.9"/>
<line x1="438.60" y1="503.00" x2="441.20" y2="503.00" stroke="#333" stroke-width="0.8"/>
<line x1="439.90" y1="499.66" x2="441.20" y2="499.66" stroke="#333" stroke-width="0.5"/>
<line x1="439.90" y1="496.32" x2="441.20" y2="496.32" stroke="#333" stroke-width="0.5"/>
<line x1="439.90" y1="492.98" x2="441.20" y2="492.98" stroke="#333" stroke-width="0.5"/>
<line x1="438.60" y1="489.64" x2="441.20" y2="489.64" stroke="#333" stroke-width="0.8"/>
<line x1="439.90" y1="486.30" x2="441.20" y2="486.30" stroke="#333" stroke-width="0.5"/>
<line x1="439.90" y1="482.96" x2="441.20" y2="482.96" stroke="#333" stroke-width="0.5"/>
<line x1="439.90" y1="479.62" x2="441.20" y2="479.62" stroke="#333" stroke-width="0.5"/>
<line x1="438.60" y1="476.28" x2="441.20" y2="476.28" stroke="#333" stroke-width="0.8"/>
<line x1="439.90" y1="472.94" x2="441.20" y2="472.94" stroke="#333" stroke-width="0.5"/>
<line x1="439.90" y1="469.60" x2="441.20" y2="469.60" stroke="#333" stroke-width="0.5"/>
<line x1="439.90" y1="466.26" x2="441.20" y2="466.26" stroke="#333" stroke-width="0.5"/>
<line x1="438.60" y1="462.92" x2="441.20" y2="462.92" stroke="#333" stroke-width="0.8"/>
<line x1="439.90" y1="459.58" x2="441.20" y2="459.58" stroke="#333" stroke-width="0.5"/>
<line x1="439.90" y1="456.24" x2="441.20" y2="456.24" stroke="#333" stroke-width="0.5"/>
<line x1="439.90" y1="452.90" x2="441.20" y2="452.90" stroke="#333" stroke-width="0.5"/>
<line x1="438.60" y1="449.56" x2="441.20" y2="449.56" stroke="#333" stroke-width="0.8"/>
<line x1="439.90" y1="446.22" x2="441.20" y2="446.22" stroke="#333" stroke-width="0.5"/>
<line x1="439.90" y1="442.88" x2="441.20" y2="442.88" stroke="#333" stroke-width="0.5"/>
<line x1="439.90" y1="439.54" x2="441.20" y2="439.54" stroke="#333" stroke-width="0.5"/>
<line x1="438.60" y1="436.20" x2="441.20" y2="436.20" stroke="#333" stroke-width="0.8"/>
<text x="439.43" y="511.80" font-size="7.5" text-anchor="start" fill="#222" font-weight="normal">10<tspan font-size="4.6" dy="-2.8">2</tspan></text>
<text x="469.73" y="511.80" font-size="7.5" text-anchor="start" fill="#222" font-weight="normal">10<tspan font-size="4.6" dy="-2.8">4</tspan></text>
<text x="505.03" y="511.80" font-size="7.5" text-anchor="start" fill="#222" font-weight="normal">10<tspan font-size="4.6" dy="-2.8">7.2</tspan></text>
<line x1="445.20" y1="503.30" x2="445.20" y2="505.50" stroke="#333" stroke-width="0.8"/>
<line x1="474.20" y1="503.30" x2="474.20" y2="505.50" stroke="#333" stroke-width="0.8"/>
<line x1="513.50" y1="503.30" x2="513.50" y2="505.50" stroke="#333" stroke-width="0.8"/>
<line x1="448.99" y1="503.30" x2="448.99" y2="504.50" stroke="#333" stroke-width="0.5"/>
<line x1="452.79" y1="503.30" x2="452.79" y2="504.50" stroke="#333" stroke-width="0.5"/>
<line x1="456.58" y1="503.30" x2="456.58" y2="504.50" stroke="#333" stroke-width="0.5"/>
<line x1="460.38" y1="503.30" x2="460.38" y2="504.50" stroke="#333" stroke-width="0.5"/>
<line x1="464.17" y1="503.30" x2="464.17" y2="504.50" stroke="#333" stroke-width="0.5"/>
<line x1="467.97" y1="503.30" x2="467.97" y2="504.50" stroke="#333" stroke-width="0.5"/>
<line x1="471.76" y1="503.30" x2="471.76" y2="504.50" stroke="#333" stroke-width="0.5"/>
<line x1="475.56" y1="503.30" x2="475.56" y2="504.50" stroke="#333" stroke-width="0.5"/>
<line x1="479.35" y1="503.30" x2="479.35" y2="504.50" stroke="#333" stroke-width="0.5"/>
<line x1="483.14" y1="503.30" x2="483.14" y2="504.50" stroke="#333" stroke-width="0.5"/>
<line x1="486.94" y1="503.30" x2="486.94" y2="504.50" stroke="#333" stroke-width="0.5"/>
<line x1="490.73" y1="503.30" x2="490.73" y2="504.50" stroke="#333" stroke-width="0.5"/>
<line x1="494.53" y1="503.30" x2="494.53" y2="504.50" stroke="#333" stroke-width="0.5"/>
<line x1="498.32" y1="503.30" x2="498.32" y2="504.50" stroke="#333" stroke-width="0.5"/>
<line x1="502.12" y1="503.30" x2="502.12" y2="504.50" stroke="#333" stroke-width="0.5"/>
<line x1="505.91" y1="503.30" x2="505.91" y2="504.50" stroke="#333" stroke-width="0.5"/>
<line x1="509.71" y1="503.30" x2="509.71" y2="504.50" stroke="#333" stroke-width="0.5"/>
<path d="M528.20,503.20 L529.31,503.20 L530.92,503.20 L532.60,503.14 L534.34,501.92 L536.17,501.25 L537.70,500.25 L538.75,499.75 L539.51,499.02 L540.20,498.22 L540.88,496.96 L541.49,495.07 L542.10,493.37 L542.73,491.13 L543.37,489.10 L544.00,487.83 L544.63,486.68 L545.27,486.19 L545.90,485.94 L546.53,485.37 L547.17,485.01 L547.80,485.57 L548.43,486.06 L549.07,487.01 L549.70,487.77 L550.33,488.60 L550.97,488.73 L551.60,489.06 L552.23,488.23 L552.87,487.35 L553.50,486.50 L554.13,485.50 L554.77,484.67 L555.40,484.78 L556.03,485.62 L556.67,486.79 L557.30,488.27 L557.93,490.34 L558.57,492.34 L559.20,494.41 L559.83,496.20 L560.47,498.00 L561.10,498.92 L561.66,499.89 L562.23,500.69 L563.00,501.32 L563.80,502.02 L564.80,502.62 L566.80,503.09 L570.70,503.15 L575.60,503.20 L579.50,503.17 L581.45,502.29 L582.41,501.23 L583.30,499.73 L584.41,498.21 L585.46,496.75 L586.50,496.07 L587.59,495.45 L588.66,495.23 L589.60,494.44 L590.34,494.12 L590.96,493.70 L591.50,492.16 L591.99,490.11 L592.42,486.67 L592.80,483.49 L593.13,478.47 L593.41,473.53 L593.70,467.71 L594.03,461.79 L594.37,454.90 L594.70,449.28 L595.00,444.78 L595.30,441.49 L595.60,439.32 L595.94,439.18 L596.29,440.08 L596.60,442.61 L596.82,447.93 L596.99,454.25 L597.20,461.52 L597.48,469.83 L597.80,479.15 L598.10,486.82 L598.38,493.20 L598.65,497.89 L598.90,500.83 L599.14,502.48 L599.35,503.15 L599.50,503.20" stroke="#1a1a1a" fill="none" stroke-width="0.85"/>
<rect x="527.80" y="432.30" width="72.30" height="71.00" fill="none" stroke="#222" stroke-width="0.9"/>
<line x1="525.20" y1="503.00" x2="527.80" y2="503.00" stroke="#333" stroke-width="0.8"/>
<line x1="526.50" y1="499.66" x2="527.80" y2="499.66" stroke="#333" stroke-width="0.5"/>
<line x1="526.50" y1="496.32" x2="527.80" y2="496.32" stroke="#333" stroke-width="0.5"/>
<line x1="526.50" y1="492.98" x2="527.80" y2="492.98" stroke="#333" stroke-width="0.5"/>
<line x1="525.20" y1="489.64" x2="527.80" y2="489.64" stroke="#333" stroke-width="0.8"/>
<line x1="526.50" y1="486.30" x2="527.80" y2="486.30" stroke="#333" stroke-width="0.5"/>
<line x1="526.50" y1="482.96" x2="527.80" y2="482.96" stroke="#333" stroke-width="0.5"/>
<line x1="526.50" y1="479.62" x2="527.80" y2="479.62" stroke="#333" stroke-width="0.5"/>
<line x1="525.20" y1="476.28" x2="527.80" y2="476.28" stroke="#333" stroke-width="0.8"/>
<line x1="526.50" y1="472.94" x2="527.80" y2="472.94" stroke="#333" stroke-width="0.5"/>
<line x1="526.50" y1="469.60" x2="527.80" y2="469.60" stroke="#333" stroke-width="0.5"/>
<line x1="526.50" y1="466.26" x2="527.80" y2="466.26" stroke="#333" stroke-width="0.5"/>
<line x1="525.20" y1="462.92" x2="527.80" y2="462.92" stroke="#333" stroke-width="0.8"/>
<line x1="526.50" y1="459.58" x2="527.80" y2="459.58" stroke="#333" stroke-width="0.5"/>
<line x1="526.50" y1="456.24" x2="527.80" y2="456.24" stroke="#333" stroke-width="0.5"/>
<line x1="526.50" y1="452.90" x2="527.80" y2="452.90" stroke="#333" stroke-width="0.5"/>
<line x1="525.20" y1="449.56" x2="527.80" y2="449.56" stroke="#333" stroke-width="0.8"/>
<line x1="526.50" y1="446.22" x2="527.80" y2="446.22" stroke="#333" stroke-width="0.5"/>
<line x1="526.50" y1="442.88" x2="527.80" y2="442.88" stroke="#333" stroke-width="0.5"/>
<line x1="526.50" y1="439.54" x2="527.80" y2="439.54" stroke="#333" stroke-width="0.5"/>
<line x1="525.20" y1="436.20" x2="527.80" y2="436.20" stroke="#333" stroke-width="0.8"/>
<text x="526.03" y="511.80" font-size="7.5" text-anchor="start" fill="#222" font-weight="normal">10<tspan font-size="4.6" dy="-2.8">2</tspan></text>
<text x="556.33" y="511.80" font-size="7.5" text-anchor="start" fill="#222" font-weight="normal">10<tspan font-size="4.6" dy="-2.8">4</tspan></text>
<text x="591.63" y="511.80" font-size="7.5" text-anchor="start" fill="#222" font-weight="normal">10<tspan font-size="4.6" dy="-2.8">7.2</tspan></text>
<line x1="531.80" y1="503.30" x2="531.80" y2="505.50" stroke="#333" stroke-width="0.8"/>
<line x1="560.80" y1="503.30" x2="560.80" y2="505.50" stroke="#333" stroke-width="0.8"/>
<line x1="600.10" y1="503.30" x2="600.10" y2="505.50" stroke="#333" stroke-width="0.8"/>
<line x1="535.59" y1="503.30" x2="535.59" y2="504.50" stroke="#333" stroke-width="0.5"/>
<line x1="539.39" y1="503.30" x2="539.39" y2="504.50" stroke="#333" stroke-width="0.5"/>
<line x1="543.18" y1="503.30" x2="543.18" y2="504.50" stroke="#333" stroke-width="0.5"/>
<line x1="546.98" y1="503.30" x2="546.98" y2="504.50" stroke="#333" stroke-width="0.5"/>
<line x1="550.77" y1="503.30" x2="550.77" y2="504.50" stroke="#333" stroke-width="0.5"/>
<line x1="554.57" y1="503.30" x2="554.57" y2="504.50" stroke="#333" stroke-width="0.5"/>
<line x1="558.36" y1="503.30" x2="558.36" y2="504.50" stroke="#333" stroke-width="0.5"/>
<line x1="562.16" y1="503.30" x2="562.16" y2="504.50" stroke="#333" stroke-width="0.5"/>
<line x1="565.95" y1="503.30" x2="565.95" y2="504.50" stroke="#333" stroke-width="0.5"/>
<line x1="569.74" y1="503.30" x2="569.74" y2="504.50" stroke="#333" stroke-width="0.5"/>
<line x1="573.54" y1="503.30" x2="573.54" y2="504.50" stroke="#333" stroke-width="0.5"/>
<line x1="577.33" y1="503.30" x2="577.33" y2="504.50" stroke="#333" stroke-width="0.5"/>
<line x1="581.13" y1="503.30" x2="581.13" y2="504.50" stroke="#333" stroke-width="0.5"/>
<line x1="584.92" y1="503.30" x2="584.92" y2="504.50" stroke="#333" stroke-width="0.5"/>
<line x1="588.72" y1="503.30" x2="588.72" y2="504.50" stroke="#333" stroke-width="0.5"/>
<line x1="592.51" y1="503.30" x2="592.51" y2="504.50" stroke="#333" stroke-width="0.5"/>
<line x1="596.31" y1="503.30" x2="596.31" y2="504.50" stroke="#333" stroke-width="0.5"/>
<text x="352.70" y="505.90" font-size="8.2" text-anchor="end" fill="#222" font-weight="normal">0</text>
<text x="352.70" y="492.54" font-size="8.2" text-anchor="end" fill="#222" font-weight="normal">20</text>
<text x="352.70" y="479.18" font-size="8.2" text-anchor="end" fill="#222" font-weight="normal">40</text>
<text x="352.70" y="465.82" font-size="8.2" text-anchor="end" fill="#222" font-weight="normal">60</text>
<text x="352.70" y="452.46" font-size="8.2" text-anchor="end" fill="#222" font-weight="normal">80</text>
<text x="352.70" y="439.10" font-size="8.2" text-anchor="end" fill="#222" font-weight="normal">100</text>
<line x1="360.40" y1="447.40" x2="395.50" y2="447.40" stroke="#333" stroke-width="0.9"/>
<line x1="360.40" y1="444.80" x2="360.40" y2="450.00" stroke="#333" stroke-width="0.9"/>
<line x1="395.50" y1="444.80" x2="395.50" y2="450.00" stroke="#333" stroke-width="0.9"/>
<text x="378.30" y="454.50" font-size="9.2" text-anchor="middle" fill="#f01818" font-weight="normal">3</text>
<line x1="395.50" y1="452.20" x2="407.50" y2="452.20" stroke="#333" stroke-width="0.9"/>
<line x1="395.50" y1="449.60" x2="395.50" y2="454.80" stroke="#333" stroke-width="0.9"/>
<line x1="407.50" y1="449.60" x2="407.50" y2="454.80" stroke="#333" stroke-width="0.9"/>
<text x="401.20" y="460.90" font-size="9.2" text-anchor="middle" fill="#2020ff" font-weight="normal">2</text>
<line x1="407.50" y1="456.60" x2="417.60" y2="456.60" stroke="#333" stroke-width="0.9"/>
<line x1="407.50" y1="454.00" x2="407.50" y2="459.20" stroke="#333" stroke-width="0.9"/>
<line x1="417.60" y1="454.00" x2="417.60" y2="459.20" stroke="#333" stroke-width="0.9"/>
<text x="413.60" y="464.00" font-size="9.2" text-anchor="middle" fill="#555" font-weight="normal">1</text>
<line x1="417.60" y1="461.00" x2="425.50" y2="461.00" stroke="#333" stroke-width="0.9"/>
<line x1="417.60" y1="458.40" x2="417.60" y2="463.60" stroke="#333" stroke-width="0.9"/>
<line x1="425.50" y1="458.40" x2="425.50" y2="463.60" stroke="#333" stroke-width="0.9"/>
<text x="421.80" y="469.10" font-size="9.2" text-anchor="middle" fill="#222" font-weight="normal">0</text>
<line x1="446.30" y1="447.40" x2="481.60" y2="447.40" stroke="#333" stroke-width="0.9"/>
<line x1="446.30" y1="444.80" x2="446.30" y2="450.00" stroke="#333" stroke-width="0.9"/>
<line x1="481.60" y1="444.80" x2="481.60" y2="450.00" stroke="#333" stroke-width="0.9"/>
<text x="463.40" y="454.50" font-size="9.2" text-anchor="middle" fill="#f01818" font-weight="normal">3</text>
<line x1="481.60" y1="452.20" x2="493.90" y2="452.20" stroke="#333" stroke-width="0.9"/>
<line x1="481.60" y1="449.60" x2="481.60" y2="454.80" stroke="#333" stroke-width="0.9"/>
<line x1="493.90" y1="449.60" x2="493.90" y2="454.80" stroke="#333" stroke-width="0.9"/>
<text x="486.30" y="460.90" font-size="9.2" text-anchor="middle" fill="#2020ff" font-weight="normal">2</text>
<line x1="493.90" y1="456.60" x2="504.00" y2="456.60" stroke="#333" stroke-width="0.9"/>
<line x1="493.90" y1="454.00" x2="493.90" y2="459.20" stroke="#333" stroke-width="0.9"/>
<line x1="504.00" y1="454.00" x2="504.00" y2="459.20" stroke="#333" stroke-width="0.9"/>
<text x="498.60" y="464.70" font-size="9.2" text-anchor="middle" fill="#555" font-weight="normal">1</text>
<line x1="504.00" y1="461.00" x2="511.60" y2="461.00" stroke="#333" stroke-width="0.9"/>
<line x1="504.00" y1="458.40" x2="504.00" y2="463.60" stroke="#333" stroke-width="0.9"/>
<line x1="511.60" y1="458.40" x2="511.60" y2="463.60" stroke="#333" stroke-width="0.9"/>
<text x="507.20" y="469.10" font-size="9.2" text-anchor="middle" fill="#222" font-weight="normal">0</text>
<line x1="532.60" y1="447.40" x2="568.10" y2="447.40" stroke="#333" stroke-width="0.9"/>
<line x1="532.60" y1="444.80" x2="532.60" y2="450.00" stroke="#333" stroke-width="0.9"/>
<line x1="568.10" y1="444.80" x2="568.10" y2="450.00" stroke="#333" stroke-width="0.9"/>
<text x="550.30" y="454.50" font-size="9.2" text-anchor="middle" fill="#f01818" font-weight="normal">3</text>
<line x1="568.10" y1="452.20" x2="580.40" y2="452.20" stroke="#333" stroke-width="0.9"/>
<line x1="568.10" y1="449.60" x2="568.10" y2="454.80" stroke="#333" stroke-width="0.9"/>
<line x1="580.40" y1="449.60" x2="580.40" y2="454.80" stroke="#333" stroke-width="0.9"/>
<text x="574.40" y="460.60" font-size="9.2" text-anchor="middle" fill="#2020ff" font-weight="normal">2</text>
<line x1="580.40" y1="456.60" x2="590.50" y2="456.60" stroke="#333" stroke-width="0.9"/>
<line x1="580.40" y1="454.00" x2="580.40" y2="459.20" stroke="#333" stroke-width="0.9"/>
<line x1="590.50" y1="454.00" x2="590.50" y2="459.20" stroke="#333" stroke-width="0.9"/>
<text x="586.50" y="464.00" font-size="9.2" text-anchor="middle" fill="#555" font-weight="normal">1</text>
<line x1="590.50" y1="461.00" x2="598.50" y2="461.00" stroke="#333" stroke-width="0.9"/>
<line x1="590.50" y1="458.40" x2="590.50" y2="463.60" stroke="#333" stroke-width="0.9"/>
<line x1="598.50" y1="458.40" x2="598.50" y2="463.60" stroke="#333" stroke-width="0.9"/>
<text x="594.10" y="470.00" font-size="9.2" text-anchor="middle" fill="#222" font-weight="normal">0</text>
<line x1="340.00" y1="514.20" x2="340.00" y2="459.00" stroke="#111" stroke-width="1.1"/>
<path d="M340,455.3 L337.9,459.8 L342.1,459.8 Z" stroke="none" fill="#111" stroke-width="1.0"/>
<line x1="339.50" y1="513.80" x2="601.00" y2="513.80" stroke="#111" stroke-width="1.1"/>
<path d="M605,513.8 L600.5,511.7 L600.5,515.9 Z" stroke="none" fill="#111" stroke-width="1.0"/>
<text transform="translate(334.40,481.10) rotate(-90)" font-size="9.2" text-anchor="middle" fill="#222" font-weight="normal">Count</text>
<text x="476.30" y="524.60" font-size="9.2" text-anchor="middle" fill="#222" font-weight="normal">CFSE</text>
</svg></body></html>
